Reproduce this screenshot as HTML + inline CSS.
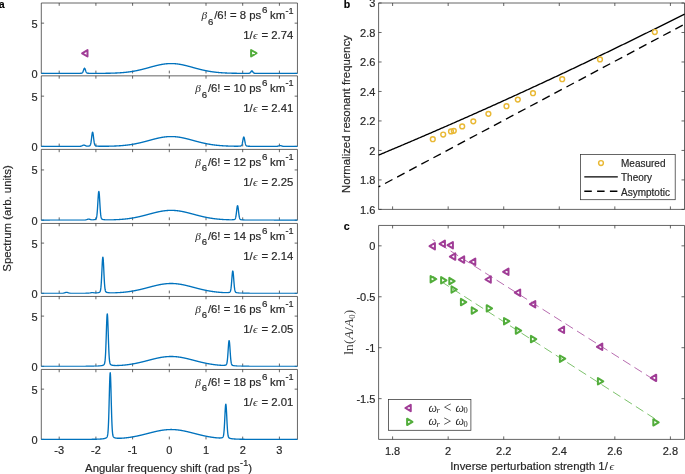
<!DOCTYPE html>
<html><head><meta charset="utf-8"><style>
html,body{margin:0;padding:0;background:#fff;width:685px;height:474px;overflow:hidden}
svg{display:block;will-change:transform}
text{stroke:#262626;stroke-width:0.18px;paint-order:stroke}
text.s{stroke:none}
</style></head><body>
<svg width="685" height="474" viewBox="0 0 685 474" font-family='"Liberation Sans", sans-serif'>
<rect width="685" height="474" fill="#fff"/>
<line x1="41.30" y1="3.00" x2="297.45" y2="3.00" stroke="#333333" stroke-width="0.75" />
<line x1="41.30" y1="3.00" x2="41.30" y2="73.40" stroke="#333333" stroke-width="0.75" />
<line x1="297.45" y1="3.00" x2="297.45" y2="73.40" stroke="#333333" stroke-width="0.75" />
<line x1="59.20" y1="3.00" x2="59.20" y2="5.80" stroke="#333333" stroke-width="0.75" />
<line x1="59.20" y1="73.40" x2="59.20" y2="70.60" stroke="#333333" stroke-width="0.75" />
<line x1="95.90" y1="3.00" x2="95.90" y2="5.80" stroke="#333333" stroke-width="0.75" />
<line x1="95.90" y1="73.40" x2="95.90" y2="70.60" stroke="#333333" stroke-width="0.75" />
<line x1="132.60" y1="3.00" x2="132.60" y2="5.80" stroke="#333333" stroke-width="0.75" />
<line x1="132.60" y1="73.40" x2="132.60" y2="70.60" stroke="#333333" stroke-width="0.75" />
<line x1="169.30" y1="3.00" x2="169.30" y2="5.80" stroke="#333333" stroke-width="0.75" />
<line x1="169.30" y1="73.40" x2="169.30" y2="70.60" stroke="#333333" stroke-width="0.75" />
<line x1="206.00" y1="3.00" x2="206.00" y2="5.80" stroke="#333333" stroke-width="0.75" />
<line x1="206.00" y1="73.40" x2="206.00" y2="70.60" stroke="#333333" stroke-width="0.75" />
<line x1="242.70" y1="3.00" x2="242.70" y2="5.80" stroke="#333333" stroke-width="0.75" />
<line x1="242.70" y1="73.40" x2="242.70" y2="70.60" stroke="#333333" stroke-width="0.75" />
<line x1="279.40" y1="3.00" x2="279.40" y2="5.80" stroke="#333333" stroke-width="0.75" />
<line x1="279.40" y1="73.40" x2="279.40" y2="70.60" stroke="#333333" stroke-width="0.75" />
<line x1="41.30" y1="73.40" x2="44.10" y2="73.40" stroke="#333333" stroke-width="0.75" />
<line x1="297.45" y1="73.40" x2="294.65" y2="73.40" stroke="#333333" stroke-width="0.75" />
<text x="37.60" y="77.85" text-anchor="end" font-size="11" fill="#262626" font-family='"Liberation Sans", sans-serif' >0</text>
<line x1="41.30" y1="23.15" x2="44.10" y2="23.15" stroke="#333333" stroke-width="0.75" />
<line x1="297.45" y1="23.15" x2="294.65" y2="23.15" stroke="#333333" stroke-width="0.75" />
<text x="37.60" y="27.60" text-anchor="end" font-size="11" fill="#262626" font-family='"Liberation Sans", sans-serif' >5</text>
<clipPath id="ca0"><rect x="41.3" y="2.0" width="256.15" height="71.9"/></clipPath>
<path d="M40.85,73.40 L41.03,73.40 L41.22,73.40 L41.40,73.40 L41.58,73.40 L41.77,73.40 L41.95,73.40 L42.13,73.40 L42.32,73.40 L42.50,73.40 L42.68,73.40 L42.87,73.40 L43.05,73.40 L43.24,73.40 L43.42,73.40 L43.60,73.40 L43.79,73.40 L43.97,73.40 L44.15,73.40 L44.34,73.40 L44.52,73.40 L44.70,73.40 L44.89,73.40 L45.07,73.40 L45.25,73.40 L45.44,73.40 L45.62,73.40 L45.80,73.40 L45.99,73.40 L46.17,73.40 L46.36,73.40 L46.54,73.40 L46.72,73.40 L46.91,73.40 L47.09,73.40 L47.27,73.40 L47.46,73.40 L47.64,73.40 L47.82,73.40 L48.01,73.40 L48.19,73.40 L48.37,73.40 L48.56,73.40 L48.74,73.40 L48.92,73.40 L49.11,73.40 L49.29,73.40 L49.47,73.40 L49.66,73.40 L49.84,73.40 L50.03,73.40 L50.21,73.40 L50.39,73.40 L50.58,73.40 L50.76,73.40 L50.94,73.40 L51.13,73.40 L51.31,73.40 L51.49,73.40 L51.68,73.40 L51.86,73.40 L52.04,73.40 L52.23,73.40 L52.41,73.40 L52.59,73.40 L52.78,73.40 L52.96,73.40 L53.14,73.40 L53.33,73.40 L53.51,73.40 L53.70,73.40 L53.88,73.40 L54.06,73.40 L54.25,73.40 L54.43,73.40 L54.61,73.40 L54.80,73.40 L54.98,73.40 L55.16,73.40 L55.35,73.40 L55.53,73.40 L55.71,73.40 L55.90,73.40 L56.08,73.40 L56.26,73.40 L56.45,73.40 L56.63,73.40 L56.81,73.40 L57.00,73.40 L57.18,73.40 L57.37,73.40 L57.55,73.40 L57.73,73.40 L57.92,73.40 L58.10,73.40 L58.28,73.40 L58.47,73.40 L58.65,73.40 L58.83,73.40 L59.02,73.40 L59.20,73.40 L59.38,73.40 L59.57,73.40 L59.75,73.40 L59.93,73.40 L60.12,73.40 L60.30,73.40 L60.48,73.40 L60.67,73.40 L60.85,73.40 L61.03,73.40 L61.22,73.40 L61.40,73.40 L61.59,73.40 L61.77,73.40 L61.95,73.40 L62.14,73.40 L62.32,73.40 L62.50,73.40 L62.69,73.40 L62.87,73.40 L63.05,73.40 L63.24,73.40 L63.42,73.40 L63.60,73.40 L63.79,73.40 L63.97,73.39 L64.15,73.39 L64.34,73.39 L64.52,73.39 L64.70,73.39 L64.89,73.39 L65.07,73.39 L65.26,73.39 L65.44,73.39 L65.62,73.39 L65.81,73.39 L65.99,73.39 L66.17,73.39 L66.36,73.39 L66.54,73.39 L66.72,73.39 L66.91,73.39 L67.09,73.39 L67.27,73.39 L67.46,73.39 L67.64,73.39 L67.82,73.39 L68.01,73.39 L68.19,73.39 L68.38,73.39 L68.56,73.39 L68.74,73.39 L68.93,73.39 L69.11,73.39 L69.29,73.39 L69.48,73.39 L69.66,73.39 L69.84,73.39 L70.03,73.39 L70.21,73.39 L70.39,73.39 L70.58,73.39 L70.76,73.39 L70.94,73.39 L71.13,73.39 L71.31,73.39 L71.49,73.39 L71.68,73.39 L71.86,73.39 L72.05,73.39 L72.23,73.39 L72.41,73.39 L72.60,73.39 L72.78,73.38 L72.96,73.38 L73.15,73.38 L73.33,73.38 L73.51,73.38 L73.70,73.38 L73.88,73.38 L74.06,73.38 L74.25,73.38 L74.43,73.38 L74.61,73.38 L74.80,73.38 L74.98,73.38 L75.16,73.38 L75.35,73.38 L75.53,73.37 L75.72,73.37 L75.90,73.37 L76.08,73.37 L76.27,73.37 L76.45,73.37 L76.63,73.37 L76.82,73.37 L77.00,73.36 L77.18,73.36 L77.37,73.36 L77.55,73.36 L77.73,73.36 L77.92,73.35 L78.10,73.35 L78.28,73.35 L78.47,73.35 L78.65,73.34 L78.83,73.34 L79.02,73.34 L79.20,73.33 L79.38,73.33 L79.57,73.32 L79.75,73.32 L79.94,73.31 L80.12,73.31 L80.30,73.30 L80.49,73.29 L80.67,73.28 L80.85,73.27 L81.04,73.26 L81.22,73.24 L81.40,73.21 L81.59,73.18 L81.77,73.13 L81.95,73.06 L82.14,72.96 L82.32,72.82 L82.50,72.62 L82.69,72.36 L82.87,72.02 L83.06,71.61 L83.24,71.12 L83.42,70.57 L83.61,70.00 L83.79,69.44 L83.97,68.93 L84.16,68.52 L84.34,68.26 L84.52,68.17 L84.71,68.26 L84.89,68.52 L85.07,68.93 L85.26,69.43 L85.44,70.00 L85.62,70.57 L85.81,71.12 L85.99,71.60 L86.17,72.02 L86.36,72.36 L86.54,72.62 L86.73,72.82 L86.91,72.96 L87.09,73.06 L87.28,73.13 L87.46,73.18 L87.64,73.21 L87.83,73.23 L88.01,73.25 L88.19,73.27 L88.38,73.28 L88.56,73.29 L88.74,73.29 L88.93,73.30 L89.11,73.31 L89.29,73.31 L89.48,73.32 L89.66,73.32 L89.84,73.32 L90.03,73.33 L90.21,73.33 L90.40,73.33 L90.58,73.34 L90.76,73.34 L90.95,73.34 L91.13,73.34 L91.31,73.35 L91.50,73.35 L91.68,73.35 L91.86,73.35 L92.05,73.35 L92.23,73.35 L92.41,73.35 L92.60,73.36 L92.78,73.36 L92.96,73.36 L93.15,73.36 L93.33,73.36 L93.51,73.36 L93.70,73.36 L93.88,73.36 L94.07,73.36 L94.25,73.36 L94.43,73.36 L94.62,73.36 L94.80,73.36 L94.98,73.36 L95.17,73.36 L95.35,73.36 L95.53,73.36 L95.72,73.36 L95.90,73.36 L96.08,73.36 L96.27,73.36 L96.45,73.36 L96.63,73.36 L96.82,73.36 L97.00,73.36 L97.18,73.36 L97.37,73.36 L97.55,73.36 L97.74,73.36 L97.92,73.36 L98.10,73.36 L98.29,73.35 L98.47,73.35 L98.65,73.35 L98.84,73.35 L99.02,73.35 L99.20,73.35 L99.39,73.35 L99.57,73.35 L99.75,73.35 L99.94,73.35 L100.12,73.35 L100.30,73.34 L100.49,73.34 L100.67,73.34 L100.85,73.34 L101.04,73.34 L101.22,73.34 L101.41,73.34 L101.59,73.34 L101.77,73.33 L101.96,73.33 L102.14,73.33 L102.32,73.33 L102.51,73.33 L102.69,73.33 L102.87,73.33 L103.06,73.32 L103.24,73.32 L103.42,73.32 L103.61,73.32 L103.79,73.32 L103.97,73.31 L104.16,73.31 L104.34,73.31 L104.52,73.31 L104.71,73.31 L104.89,73.30 L105.08,73.30 L105.26,73.30 L105.44,73.30 L105.63,73.29 L105.81,73.29 L105.99,73.29 L106.18,73.29 L106.36,73.28 L106.54,73.28 L106.73,73.28 L106.91,73.27 L107.09,73.27 L107.28,73.27 L107.46,73.27 L107.64,73.26 L107.83,73.26 L108.01,73.26 L108.19,73.25 L108.38,73.25 L108.56,73.24 L108.75,73.24 L108.93,73.24 L109.11,73.23 L109.30,73.23 L109.48,73.23 L109.66,73.22 L109.85,73.22 L110.03,73.21 L110.21,73.21 L110.40,73.20 L110.58,73.20 L110.76,73.19 L110.95,73.19 L111.13,73.19 L111.31,73.18 L111.50,73.18 L111.68,73.17 L111.86,73.16 L112.05,73.16 L112.23,73.15 L112.42,73.15 L112.60,73.14 L112.78,73.14 L112.97,73.13 L113.15,73.12 L113.33,73.12 L113.52,73.11 L113.70,73.11 L113.88,73.10 L114.07,73.09 L114.25,73.09 L114.43,73.08 L114.62,73.07 L114.80,73.06 L114.98,73.06 L115.17,73.05 L115.35,73.04 L115.53,73.03 L115.72,73.03 L115.90,73.02 L116.09,73.01 L116.27,73.00 L116.45,72.99 L116.64,72.98 L116.82,72.97 L117.00,72.97 L117.19,72.96 L117.37,72.95 L117.55,72.94 L117.74,72.93 L117.92,72.92 L118.10,72.91 L118.29,72.90 L118.47,72.89 L118.65,72.88 L118.84,72.87 L119.02,72.85 L119.20,72.84 L119.39,72.83 L119.57,72.82 L119.75,72.81 L119.94,72.80 L120.12,72.78 L120.31,72.77 L120.49,72.76 L120.67,72.75 L120.86,72.73 L121.04,72.72 L121.22,72.71 L121.41,72.69 L121.59,72.68 L121.77,72.67 L121.96,72.65 L122.14,72.64 L122.32,72.62 L122.51,72.61 L122.69,72.59 L122.87,72.58 L123.06,72.56 L123.24,72.55 L123.43,72.53 L123.61,72.51 L123.79,72.50 L123.98,72.48 L124.16,72.46 L124.34,72.45 L124.53,72.43 L124.71,72.41 L124.89,72.39 L125.08,72.37 L125.26,72.35 L125.44,72.34 L125.63,72.32 L125.81,72.30 L125.99,72.28 L126.18,72.26 L126.36,72.24 L126.54,72.22 L126.73,72.20 L126.91,72.18 L127.10,72.15 L127.28,72.13 L127.46,72.11 L127.65,72.09 L127.83,72.07 L128.01,72.04 L128.20,72.02 L128.38,72.00 L128.56,71.97 L128.75,71.95 L128.93,71.93 L129.11,71.90 L129.30,71.88 L129.48,71.85 L129.66,71.83 L129.85,71.80 L130.03,71.77 L130.21,71.75 L130.40,71.72 L130.58,71.69 L130.77,71.67 L130.95,71.64 L131.13,71.61 L131.32,71.58 L131.50,71.55 L131.68,71.53 L131.87,71.50 L132.05,71.47 L132.23,71.44 L132.42,71.41 L132.60,71.38 L132.78,71.35 L132.97,71.32 L133.15,71.28 L133.33,71.25 L133.52,71.22 L133.70,71.19 L133.88,71.16 L134.07,71.12 L134.25,71.09 L134.44,71.06 L134.62,71.02 L134.80,70.99 L134.99,70.95 L135.17,70.92 L135.35,70.88 L135.54,70.85 L135.72,70.81 L135.90,70.78 L136.09,70.74 L136.27,70.71 L136.45,70.67 L136.64,70.63 L136.82,70.59 L137.00,70.56 L137.19,70.52 L137.37,70.48 L137.55,70.44 L137.74,70.40 L137.92,70.36 L138.11,70.32 L138.29,70.28 L138.47,70.24 L138.66,70.20 L138.84,70.16 L139.02,70.12 L139.21,70.08 L139.39,70.04 L139.57,69.99 L139.76,69.95 L139.94,69.91 L140.12,69.87 L140.31,69.82 L140.49,69.78 L140.67,69.74 L140.86,69.69 L141.04,69.65 L141.22,69.61 L141.41,69.56 L141.59,69.52 L141.78,69.47 L141.96,69.43 L142.14,69.38 L142.33,69.33 L142.51,69.29 L142.69,69.24 L142.88,69.20 L143.06,69.15 L143.24,69.10 L143.43,69.06 L143.61,69.01 L143.79,68.96 L143.98,68.91 L144.16,68.87 L144.34,68.82 L144.53,68.77 L144.71,68.72 L144.89,68.67 L145.08,68.62 L145.26,68.58 L145.45,68.53 L145.63,68.48 L145.81,68.43 L146.00,68.38 L146.18,68.33 L146.36,68.28 L146.55,68.23 L146.73,68.18 L146.91,68.13 L147.10,68.08 L147.28,68.03 L147.46,67.98 L147.65,67.93 L147.83,67.88 L148.01,67.83 L148.20,67.78 L148.38,67.73 L148.56,67.68 L148.75,67.63 L148.93,67.58 L149.12,67.53 L149.30,67.48 L149.48,67.43 L149.67,67.38 L149.85,67.32 L150.03,67.27 L150.22,67.22 L150.40,67.17 L150.58,67.12 L150.77,67.07 L150.95,67.02 L151.13,66.97 L151.32,66.92 L151.50,66.87 L151.68,66.82 L151.87,66.77 L152.05,66.72 L152.23,66.67 L152.42,66.62 L152.60,66.57 L152.78,66.52 L152.97,66.47 L153.15,66.42 L153.34,66.37 L153.52,66.33 L153.70,66.28 L153.89,66.23 L154.07,66.18 L154.25,66.13 L154.44,66.08 L154.62,66.04 L154.80,65.99 L154.99,65.94 L155.17,65.89 L155.35,65.85 L155.54,65.80 L155.72,65.75 L155.90,65.71 L156.09,65.66 L156.27,65.62 L156.46,65.57 L156.64,65.53 L156.82,65.48 L157.01,65.44 L157.19,65.40 L157.37,65.35 L157.56,65.31 L157.74,65.27 L157.92,65.22 L158.11,65.18 L158.29,65.14 L158.47,65.10 L158.66,65.06 L158.84,65.02 L159.02,64.98 L159.21,64.94 L159.39,64.90 L159.57,64.86 L159.76,64.82 L159.94,64.78 L160.12,64.74 L160.31,64.71 L160.49,64.67 L160.68,64.64 L160.86,64.60 L161.04,64.56 L161.23,64.53 L161.41,64.50 L161.59,64.46 L161.78,64.43 L161.96,64.40 L162.14,64.36 L162.33,64.33 L162.51,64.30 L162.69,64.27 L162.88,64.24 L163.06,64.21 L163.24,64.18 L163.43,64.16 L163.61,64.13 L163.80,64.10 L163.98,64.07 L164.16,64.05 L164.35,64.02 L164.53,64.00 L164.71,63.97 L164.90,63.95 L165.08,63.93 L165.26,63.91 L165.45,63.88 L165.63,63.86 L165.81,63.84 L166.00,63.82 L166.18,63.81 L166.36,63.79 L166.55,63.77 L166.73,63.75 L166.91,63.74 L167.10,63.72 L167.28,63.71 L167.47,63.69 L167.65,63.68 L167.83,63.66 L168.02,63.65 L168.20,63.64 L168.38,63.63 L168.57,63.62 L168.75,63.61 L168.93,63.60 L169.12,63.59 L169.30,63.59 L169.48,63.58 L169.67,63.57 L169.85,63.57 L170.03,63.56 L170.22,63.56 L170.40,63.56 L170.58,63.55 L170.77,63.55 L170.95,63.55 L171.13,63.55 L171.32,63.55 L171.50,63.55 L171.69,63.55 L171.87,63.56 L172.05,63.56 L172.24,63.56 L172.42,63.57 L172.60,63.57 L172.79,63.58 L172.97,63.59 L173.15,63.59 L173.34,63.60 L173.52,63.61 L173.70,63.62 L173.89,63.63 L174.07,63.64 L174.25,63.65 L174.44,63.66 L174.62,63.68 L174.81,63.69 L174.99,63.71 L175.17,63.72 L175.36,63.74 L175.54,63.75 L175.72,63.77 L175.91,63.79 L176.09,63.81 L176.27,63.82 L176.46,63.84 L176.64,63.86 L176.82,63.88 L177.01,63.91 L177.19,63.93 L177.37,63.95 L177.56,63.97 L177.74,64.00 L177.92,64.02 L178.11,64.05 L178.29,64.07 L178.48,64.10 L178.66,64.13 L178.84,64.16 L179.03,64.18 L179.21,64.21 L179.39,64.24 L179.58,64.27 L179.76,64.30 L179.94,64.33 L180.13,64.36 L180.31,64.40 L180.49,64.43 L180.68,64.46 L180.86,64.50 L181.04,64.53 L181.23,64.56 L181.41,64.60 L181.59,64.64 L181.78,64.67 L181.96,64.71 L182.15,64.74 L182.33,64.78 L182.51,64.82 L182.70,64.86 L182.88,64.90 L183.06,64.94 L183.25,64.98 L183.43,65.02 L183.61,65.06 L183.80,65.10 L183.98,65.14 L184.16,65.18 L184.35,65.22 L184.53,65.27 L184.71,65.31 L184.90,65.35 L185.08,65.40 L185.26,65.44 L185.45,65.48 L185.63,65.53 L185.82,65.57 L186.00,65.62 L186.18,65.66 L186.37,65.71 L186.55,65.75 L186.73,65.80 L186.92,65.85 L187.10,65.89 L187.28,65.94 L187.47,65.99 L187.65,66.04 L187.83,66.08 L188.02,66.13 L188.20,66.18 L188.38,66.23 L188.57,66.28 L188.75,66.33 L188.93,66.37 L189.12,66.42 L189.30,66.47 L189.49,66.52 L189.67,66.57 L189.85,66.62 L190.04,66.67 L190.22,66.72 L190.40,66.77 L190.59,66.82 L190.77,66.87 L190.95,66.92 L191.14,66.97 L191.32,67.02 L191.50,67.07 L191.69,67.12 L191.87,67.17 L192.05,67.22 L192.24,67.27 L192.42,67.32 L192.60,67.38 L192.79,67.43 L192.97,67.48 L193.16,67.53 L193.34,67.58 L193.52,67.63 L193.71,67.68 L193.89,67.73 L194.07,67.78 L194.26,67.83 L194.44,67.88 L194.62,67.93 L194.81,67.98 L194.99,68.03 L195.17,68.08 L195.36,68.13 L195.54,68.18 L195.72,68.23 L195.91,68.28 L196.09,68.33 L196.27,68.38 L196.46,68.43 L196.64,68.48 L196.83,68.53 L197.01,68.58 L197.19,68.62 L197.38,68.67 L197.56,68.72 L197.74,68.77 L197.93,68.82 L198.11,68.87 L198.29,68.91 L198.48,68.96 L198.66,69.01 L198.84,69.06 L199.03,69.10 L199.21,69.15 L199.39,69.20 L199.58,69.24 L199.76,69.29 L199.94,69.34 L200.13,69.38 L200.31,69.43 L200.50,69.47 L200.68,69.52 L200.86,69.56 L201.05,69.61 L201.23,69.65 L201.41,69.69 L201.60,69.74 L201.78,69.78 L201.96,69.82 L202.15,69.87 L202.33,69.91 L202.51,69.95 L202.70,70.00 L202.88,70.04 L203.06,70.08 L203.25,70.12 L203.43,70.16 L203.61,70.20 L203.80,70.24 L203.98,70.28 L204.17,70.32 L204.35,70.36 L204.53,70.40 L204.72,70.44 L204.90,70.48 L205.08,70.52 L205.27,70.56 L205.45,70.59 L205.63,70.63 L205.82,70.67 L206.00,70.71 L206.18,70.74 L206.37,70.78 L206.55,70.81 L206.73,70.85 L206.92,70.89 L207.10,70.92 L207.28,70.96 L207.47,70.99 L207.65,71.02 L207.84,71.06 L208.02,71.09 L208.20,71.12 L208.39,71.16 L208.57,71.19 L208.75,71.22 L208.94,71.25 L209.12,71.29 L209.30,71.32 L209.49,71.35 L209.67,71.38 L209.85,71.41 L210.04,71.44 L210.22,71.47 L210.40,71.50 L210.59,71.53 L210.77,71.56 L210.95,71.58 L211.14,71.61 L211.32,71.64 L211.51,71.67 L211.69,71.69 L211.87,71.72 L212.06,71.75 L212.24,71.77 L212.42,71.80 L212.61,71.83 L212.79,71.85 L212.97,71.88 L213.16,71.90 L213.34,71.93 L213.52,71.95 L213.71,71.97 L213.89,72.00 L214.07,72.02 L214.26,72.04 L214.44,72.07 L214.62,72.09 L214.81,72.11 L214.99,72.13 L215.18,72.15 L215.36,72.18 L215.54,72.20 L215.73,72.22 L215.91,72.24 L216.09,72.26 L216.28,72.28 L216.46,72.30 L216.64,72.32 L216.83,72.34 L217.01,72.36 L217.19,72.37 L217.38,72.39 L217.56,72.41 L217.74,72.43 L217.93,72.45 L218.11,72.46 L218.29,72.48 L218.48,72.50 L218.66,72.51 L218.84,72.53 L219.03,72.55 L219.21,72.56 L219.40,72.58 L219.58,72.59 L219.76,72.61 L219.95,72.62 L220.13,72.64 L220.31,72.65 L220.50,72.67 L220.68,72.68 L220.86,72.69 L221.05,72.71 L221.23,72.72 L221.41,72.73 L221.60,72.75 L221.78,72.76 L221.96,72.77 L222.15,72.78 L222.33,72.80 L222.52,72.81 L222.70,72.82 L222.88,72.83 L223.07,72.84 L223.25,72.85 L223.43,72.87 L223.62,72.88 L223.80,72.89 L223.98,72.90 L224.17,72.91 L224.35,72.92 L224.53,72.93 L224.72,72.94 L224.90,72.95 L225.08,72.96 L225.27,72.97 L225.45,72.97 L225.63,72.98 L225.82,72.99 L226.00,73.00 L226.19,73.01 L226.37,73.02 L226.55,73.03 L226.74,73.03 L226.92,73.04 L227.10,73.05 L227.29,73.06 L227.47,73.06 L227.65,73.07 L227.84,73.08 L228.02,73.09 L228.20,73.09 L228.39,73.10 L228.57,73.11 L228.75,73.11 L228.94,73.12 L229.12,73.12 L229.30,73.13 L229.49,73.14 L229.67,73.14 L229.86,73.15 L230.04,73.15 L230.22,73.16 L230.41,73.17 L230.59,73.17 L230.77,73.18 L230.96,73.18 L231.14,73.19 L231.32,73.19 L231.51,73.20 L231.69,73.20 L231.87,73.20 L232.06,73.21 L232.24,73.21 L232.42,73.22 L232.61,73.22 L232.79,73.23 L232.97,73.23 L233.16,73.23 L233.34,73.24 L233.53,73.24 L233.71,73.25 L233.89,73.25 L234.08,73.25 L234.26,73.26 L234.44,73.26 L234.63,73.26 L234.81,73.27 L234.99,73.27 L235.18,73.27 L235.36,73.28 L235.54,73.28 L235.73,73.28 L235.91,73.28 L236.09,73.29 L236.28,73.29 L236.46,73.29 L236.64,73.29 L236.83,73.30 L237.01,73.30 L237.19,73.30 L237.38,73.30 L237.56,73.31 L237.75,73.31 L237.93,73.31 L238.11,73.31 L238.30,73.31 L238.48,73.32 L238.66,73.32 L238.85,73.32 L239.03,73.32 L239.21,73.32 L239.40,73.33 L239.58,73.33 L239.76,73.33 L239.95,73.33 L240.13,73.33 L240.31,73.33 L240.50,73.33 L240.68,73.34 L240.87,73.34 L241.05,73.34 L241.23,73.34 L241.42,73.34 L241.60,73.34 L241.78,73.34 L241.97,73.34 L242.15,73.34 L242.33,73.34 L242.52,73.35 L242.70,73.35 L242.88,73.35 L243.07,73.35 L243.25,73.35 L243.43,73.35 L243.62,73.35 L243.80,73.35 L243.98,73.35 L244.17,73.35 L244.35,73.35 L244.54,73.35 L244.72,73.35 L244.90,73.35 L245.09,73.35 L245.27,73.35 L245.45,73.35 L245.64,73.35 L245.82,73.35 L246.00,73.35 L246.19,73.35 L246.37,73.35 L246.55,73.35 L246.74,73.34 L246.92,73.34 L247.10,73.34 L247.29,73.34 L247.47,73.34 L247.65,73.33 L247.84,73.33 L248.02,73.33 L248.21,73.32 L248.39,73.31 L248.57,73.31 L248.76,73.30 L248.94,73.28 L249.12,73.26 L249.31,73.22 L249.49,73.18 L249.67,73.11 L249.86,73.01 L250.04,72.89 L250.22,72.73 L250.41,72.53 L250.59,72.29 L250.77,72.03 L250.96,71.76 L251.14,71.48 L251.32,71.24 L251.51,71.05 L251.69,70.92 L251.88,70.88 L252.06,70.92 L252.24,71.05 L252.43,71.24 L252.61,71.49 L252.79,71.76 L252.98,72.03 L253.16,72.30 L253.34,72.53 L253.53,72.73 L253.71,72.89 L253.89,73.02 L254.08,73.12 L254.26,73.18 L254.44,73.23 L254.63,73.27 L254.81,73.29 L254.99,73.31 L255.18,73.32 L255.36,73.33 L255.55,73.33 L255.73,73.34 L255.91,73.34 L256.10,73.35 L256.28,73.35 L256.46,73.35 L256.65,73.36 L256.83,73.36 L257.01,73.36 L257.20,73.36 L257.38,73.37 L257.56,73.37 L257.75,73.37 L257.93,73.37 L258.11,73.37 L258.30,73.37 L258.48,73.38 L258.66,73.38 L258.85,73.38 L259.03,73.38 L259.22,73.38 L259.40,73.38 L259.58,73.38 L259.77,73.38 L259.95,73.38 L260.13,73.38 L260.32,73.38 L260.50,73.38 L260.68,73.39 L260.87,73.39 L261.05,73.39 L261.23,73.39 L261.42,73.39 L261.60,73.39 L261.78,73.39 L261.97,73.39 L262.15,73.39 L262.33,73.39 L262.52,73.39 L262.70,73.39 L262.88,73.39 L263.07,73.39 L263.25,73.39 L263.44,73.39 L263.62,73.39 L263.80,73.39 L263.99,73.39 L264.17,73.39 L264.35,73.39 L264.54,73.39 L264.72,73.39 L264.90,73.39 L265.09,73.39 L265.27,73.39 L265.45,73.39 L265.64,73.39 L265.82,73.39 L266.00,73.39 L266.19,73.39 L266.37,73.39 L266.56,73.39 L266.74,73.39 L266.92,73.39 L267.11,73.40 L267.29,73.40 L267.47,73.40 L267.66,73.40 L267.84,73.40 L268.02,73.40 L268.21,73.40 L268.39,73.40 L268.57,73.40 L268.76,73.40 L268.94,73.40 L269.12,73.40 L269.31,73.40 L269.49,73.40 L269.67,73.40 L269.86,73.40 L270.04,73.40 L270.23,73.40 L270.41,73.40 L270.59,73.40 L270.78,73.40 L270.96,73.40 L271.14,73.40 L271.33,73.40 L271.51,73.40 L271.69,73.40 L271.88,73.40 L272.06,73.40 L272.24,73.40 L272.43,73.40 L272.61,73.40 L272.79,73.40 L272.98,73.40 L273.16,73.40 L273.34,73.40 L273.53,73.40 L273.71,73.40 L273.89,73.40 L274.08,73.40 L274.26,73.40 L274.45,73.40 L274.63,73.40 L274.81,73.40 L275.00,73.40 L275.18,73.40 L275.36,73.40 L275.55,73.40 L275.73,73.40 L275.91,73.40 L276.10,73.40 L276.28,73.40 L276.46,73.40 L276.65,73.40 L276.83,73.40 L277.01,73.40 L277.20,73.40 L277.38,73.40 L277.57,73.40 L277.75,73.40 L277.93,73.40 L278.12,73.40 L278.30,73.40 L278.48,73.40 L278.67,73.40 L278.85,73.40 L279.03,73.40 L279.22,73.40 L279.40,73.40 L279.58,73.40 L279.77,73.40 L279.95,73.40 L280.13,73.40 L280.32,73.40 L280.50,73.40 L280.68,73.40 L280.87,73.40 L281.05,73.40 L281.24,73.40 L281.42,73.40 L281.60,73.40 L281.79,73.40 L281.97,73.40 L282.15,73.40 L282.34,73.40 L282.52,73.40 L282.70,73.40 L282.89,73.40 L283.07,73.40 L283.25,73.40 L283.44,73.40 L283.62,73.40 L283.80,73.40 L283.99,73.40 L284.17,73.40 L284.35,73.40 L284.54,73.40 L284.72,73.40 L284.91,73.40 L285.09,73.40 L285.27,73.40 L285.46,73.40 L285.64,73.40 L285.82,73.40 L286.01,73.40 L286.19,73.40 L286.37,73.40 L286.56,73.40 L286.74,73.40 L286.92,73.40 L287.11,73.40 L287.29,73.40 L287.47,73.40 L287.66,73.40 L287.84,73.40 L288.02,73.40 L288.21,73.40 L288.39,73.40 L288.58,73.40 L288.76,73.40 L288.94,73.40 L289.13,73.40 L289.31,73.40 L289.49,73.40 L289.68,73.40 L289.86,73.40 L290.04,73.40 L290.23,73.40 L290.41,73.40 L290.59,73.40 L290.78,73.40 L290.96,73.40 L291.14,73.40 L291.33,73.40 L291.51,73.40 L291.69,73.40 L291.88,73.40 L292.06,73.40 L292.25,73.40 L292.43,73.40 L292.61,73.40 L292.80,73.40 L292.98,73.40 L293.16,73.40 L293.35,73.40 L293.53,73.40 L293.71,73.40 L293.90,73.40 L294.08,73.40 L294.26,73.40 L294.45,73.40 L294.63,73.40 L294.81,73.40 L295.00,73.40 L295.18,73.40 L295.36,73.40 L295.55,73.40 L295.73,73.40 L295.92,73.40 L296.10,73.40 L296.28,73.40 L296.47,73.40 L296.65,73.40 L296.83,73.40 L297.02,73.40 L297.20,73.40 L297.38,73.40 L297.57,73.40 L297.75,73.40" fill="none" stroke="#0072bd" stroke-width="1.35" stroke-linejoin="round" clip-path="url(#ca0)"/>
<text x="261.20" y="19.30" text-anchor="end" font-size="11.35" fill="#262626" font-family='"Liberation Sans", sans-serif' >/6! = 8 ps</text>
<text x="208.00" y="25.00" font-size="9.6" fill="#262626" font-family='"Liberation Sans", sans-serif' >6</text>
<text x="201.50" y="19.30" class="s" font-size="11.35" fill="#262626" font-family='"Liberation Serif", serif' font-style="italic">β</text>
<text x="261.90" y="13.40" font-size="9.8" fill="#262626" font-family='"Liberation Sans", sans-serif' >6</text>
<text x="270.00" y="19.30" font-size="11.35" fill="#262626" font-family='"Liberation Sans", sans-serif' >km</text>
<text x="285.60" y="13.60" font-size="9.1" fill="#262626" font-family='"Liberation Sans", sans-serif' >-1</text>
<text x="243.30" y="39.10" font-size="11.35" fill="#262626" font-family='"Liberation Sans", sans-serif' >1/</text>
<text x="252.90" y="39.10" class="s" font-size="11.35" fill="#262626" font-family='"Liberation Serif", serif' font-style="italic">ϵ</text>
<text x="293.30" y="39.10" text-anchor="end" font-size="11.35" fill="#262626" font-family='"Liberation Sans", sans-serif' >= 2.74</text>
<line x1="41.30" y1="75.85" x2="297.45" y2="75.85" stroke="#333333" stroke-width="0.75" />
<line x1="41.30" y1="75.85" x2="41.30" y2="146.40" stroke="#333333" stroke-width="0.75" />
<line x1="297.45" y1="75.85" x2="297.45" y2="146.40" stroke="#333333" stroke-width="0.75" />
<line x1="59.20" y1="75.85" x2="59.20" y2="78.65" stroke="#333333" stroke-width="0.75" />
<line x1="59.20" y1="146.40" x2="59.20" y2="143.60" stroke="#333333" stroke-width="0.75" />
<line x1="95.90" y1="75.85" x2="95.90" y2="78.65" stroke="#333333" stroke-width="0.75" />
<line x1="95.90" y1="146.40" x2="95.90" y2="143.60" stroke="#333333" stroke-width="0.75" />
<line x1="132.60" y1="75.85" x2="132.60" y2="78.65" stroke="#333333" stroke-width="0.75" />
<line x1="132.60" y1="146.40" x2="132.60" y2="143.60" stroke="#333333" stroke-width="0.75" />
<line x1="169.30" y1="75.85" x2="169.30" y2="78.65" stroke="#333333" stroke-width="0.75" />
<line x1="169.30" y1="146.40" x2="169.30" y2="143.60" stroke="#333333" stroke-width="0.75" />
<line x1="206.00" y1="75.85" x2="206.00" y2="78.65" stroke="#333333" stroke-width="0.75" />
<line x1="206.00" y1="146.40" x2="206.00" y2="143.60" stroke="#333333" stroke-width="0.75" />
<line x1="242.70" y1="75.85" x2="242.70" y2="78.65" stroke="#333333" stroke-width="0.75" />
<line x1="242.70" y1="146.40" x2="242.70" y2="143.60" stroke="#333333" stroke-width="0.75" />
<line x1="279.40" y1="75.85" x2="279.40" y2="78.65" stroke="#333333" stroke-width="0.75" />
<line x1="279.40" y1="146.40" x2="279.40" y2="143.60" stroke="#333333" stroke-width="0.75" />
<line x1="41.30" y1="146.40" x2="44.10" y2="146.40" stroke="#333333" stroke-width="0.75" />
<line x1="297.45" y1="146.40" x2="294.65" y2="146.40" stroke="#333333" stroke-width="0.75" />
<text x="37.60" y="150.85" text-anchor="end" font-size="11" fill="#262626" font-family='"Liberation Sans", sans-serif' >0</text>
<line x1="41.30" y1="96.15" x2="44.10" y2="96.15" stroke="#333333" stroke-width="0.75" />
<line x1="297.45" y1="96.15" x2="294.65" y2="96.15" stroke="#333333" stroke-width="0.75" />
<text x="37.60" y="100.60" text-anchor="end" font-size="11" fill="#262626" font-family='"Liberation Sans", sans-serif' >5</text>
<clipPath id="ca1"><rect x="41.3" y="74.85" width="256.15" height="72.05000000000001"/></clipPath>
<path d="M40.85,146.40 L41.03,146.40 L41.22,146.40 L41.40,146.40 L41.58,146.40 L41.77,146.40 L41.95,146.40 L42.13,146.40 L42.32,146.40 L42.50,146.40 L42.68,146.40 L42.87,146.40 L43.05,146.40 L43.24,146.40 L43.42,146.40 L43.60,146.40 L43.79,146.40 L43.97,146.40 L44.15,146.40 L44.34,146.40 L44.52,146.40 L44.70,146.40 L44.89,146.40 L45.07,146.40 L45.25,146.40 L45.44,146.40 L45.62,146.40 L45.80,146.40 L45.99,146.40 L46.17,146.40 L46.36,146.40 L46.54,146.40 L46.72,146.40 L46.91,146.40 L47.09,146.40 L47.27,146.40 L47.46,146.40 L47.64,146.40 L47.82,146.40 L48.01,146.40 L48.19,146.40 L48.37,146.40 L48.56,146.40 L48.74,146.40 L48.92,146.40 L49.11,146.40 L49.29,146.40 L49.47,146.40 L49.66,146.40 L49.84,146.40 L50.03,146.40 L50.21,146.40 L50.39,146.40 L50.58,146.40 L50.76,146.40 L50.94,146.40 L51.13,146.40 L51.31,146.40 L51.49,146.40 L51.68,146.40 L51.86,146.40 L52.04,146.40 L52.23,146.40 L52.41,146.40 L52.59,146.40 L52.78,146.40 L52.96,146.40 L53.14,146.40 L53.33,146.40 L53.51,146.40 L53.70,146.40 L53.88,146.40 L54.06,146.40 L54.25,146.40 L54.43,146.40 L54.61,146.40 L54.80,146.40 L54.98,146.40 L55.16,146.40 L55.35,146.40 L55.53,146.40 L55.71,146.40 L55.90,146.40 L56.08,146.40 L56.26,146.40 L56.45,146.40 L56.63,146.40 L56.81,146.40 L57.00,146.40 L57.18,146.40 L57.37,146.40 L57.55,146.40 L57.73,146.40 L57.92,146.40 L58.10,146.40 L58.28,146.40 L58.47,146.39 L58.65,146.39 L58.83,146.39 L59.02,146.39 L59.20,146.39 L59.38,146.39 L59.57,146.39 L59.75,146.39 L59.93,146.39 L60.12,146.39 L60.30,146.39 L60.48,146.39 L60.67,146.39 L60.85,146.39 L61.03,146.39 L61.22,146.39 L61.40,146.39 L61.59,146.39 L61.77,146.39 L61.95,146.39 L62.14,146.39 L62.32,146.39 L62.50,146.39 L62.69,146.39 L62.87,146.39 L63.05,146.39 L63.24,146.39 L63.42,146.39 L63.60,146.39 L63.79,146.39 L63.97,146.39 L64.15,146.39 L64.34,146.39 L64.52,146.39 L64.70,146.39 L64.89,146.39 L65.07,146.39 L65.26,146.39 L65.44,146.39 L65.62,146.39 L65.81,146.39 L65.99,146.39 L66.17,146.39 L66.36,146.39 L66.54,146.39 L66.72,146.39 L66.91,146.39 L67.09,146.39 L67.27,146.39 L67.46,146.39 L67.64,146.39 L67.82,146.39 L68.01,146.39 L68.19,146.39 L68.38,146.39 L68.56,146.39 L68.74,146.39 L68.93,146.39 L69.11,146.39 L69.29,146.39 L69.48,146.39 L69.66,146.39 L69.84,146.39 L70.03,146.39 L70.21,146.39 L70.39,146.39 L70.58,146.39 L70.76,146.39 L70.94,146.39 L71.13,146.39 L71.31,146.39 L71.49,146.39 L71.68,146.39 L71.86,146.39 L72.05,146.39 L72.23,146.39 L72.41,146.39 L72.60,146.39 L72.78,146.38 L72.96,146.38 L73.15,146.38 L73.33,146.38 L73.51,146.38 L73.70,146.38 L73.88,146.38 L74.06,146.38 L74.25,146.38 L74.43,146.38 L74.61,146.38 L74.80,146.38 L74.98,146.38 L75.16,146.38 L75.35,146.38 L75.53,146.38 L75.72,146.38 L75.90,146.38 L76.08,146.38 L76.27,146.38 L76.45,146.38 L76.63,146.38 L76.82,146.38 L77.00,146.38 L77.18,146.38 L77.37,146.37 L77.55,146.37 L77.73,146.37 L77.92,146.37 L78.10,146.37 L78.28,146.37 L78.47,146.37 L78.65,146.37 L78.83,146.36 L79.02,146.36 L79.20,146.36 L79.38,146.35 L79.57,146.35 L79.75,146.34 L79.94,146.32 L80.12,146.31 L80.30,146.29 L80.49,146.26 L80.67,146.23 L80.85,146.19 L81.04,146.15 L81.22,146.09 L81.40,146.03 L81.59,145.96 L81.77,145.88 L81.95,145.80 L82.14,145.71 L82.32,145.61 L82.50,145.52 L82.69,145.43 L82.87,145.35 L83.06,145.27 L83.24,145.21 L83.42,145.16 L83.61,145.13 L83.79,145.12 L83.97,145.13 L84.16,145.15 L84.34,145.19 L84.52,145.25 L84.71,145.32 L84.89,145.39 L85.07,145.48 L85.26,145.56 L85.44,145.65 L85.62,145.73 L85.81,145.81 L85.99,145.88 L86.17,145.94 L86.36,146.00 L86.54,146.04 L86.73,146.08 L86.91,146.11 L87.09,146.13 L87.28,146.14 L87.46,146.15 L87.64,146.15 L87.83,146.15 L88.01,146.14 L88.19,146.13 L88.38,146.11 L88.56,146.09 L88.74,146.07 L88.93,146.04 L89.11,146.00 L89.29,145.96 L89.48,145.89 L89.66,145.80 L89.84,145.67 L90.03,145.48 L90.21,145.21 L90.40,144.82 L90.58,144.29 L90.76,143.58 L90.95,142.66 L91.13,141.53 L91.31,140.21 L91.50,138.73 L91.68,137.17 L91.86,135.64 L92.05,134.27 L92.23,133.17 L92.41,132.46 L92.60,132.21 L92.78,132.46 L92.96,133.17 L93.15,134.26 L93.33,135.64 L93.51,137.17 L93.70,138.72 L93.88,140.20 L94.07,141.52 L94.25,142.65 L94.43,143.57 L94.62,144.28 L94.80,144.81 L94.98,145.20 L95.17,145.47 L95.35,145.66 L95.53,145.79 L95.72,145.88 L95.90,145.94 L96.08,145.99 L96.27,146.02 L96.45,146.05 L96.63,146.08 L96.82,146.10 L97.00,146.12 L97.18,146.13 L97.37,146.15 L97.55,146.16 L97.74,146.17 L97.92,146.18 L98.10,146.19 L98.29,146.20 L98.47,146.21 L98.65,146.21 L98.84,146.22 L99.02,146.23 L99.20,146.23 L99.39,146.24 L99.57,146.24 L99.75,146.25 L99.94,146.25 L100.12,146.25 L100.30,146.25 L100.49,146.26 L100.67,146.26 L100.85,146.26 L101.04,146.26 L101.22,146.26 L101.41,146.27 L101.59,146.27 L101.77,146.27 L101.96,146.27 L102.14,146.27 L102.32,146.27 L102.51,146.27 L102.69,146.27 L102.87,146.27 L103.06,146.27 L103.24,146.27 L103.42,146.27 L103.61,146.27 L103.79,146.27 L103.97,146.27 L104.16,146.26 L104.34,146.26 L104.52,146.26 L104.71,146.26 L104.89,146.26 L105.08,146.26 L105.26,146.26 L105.44,146.25 L105.63,146.25 L105.81,146.25 L105.99,146.25 L106.18,146.25 L106.36,146.24 L106.54,146.24 L106.73,146.24 L106.91,146.24 L107.09,146.23 L107.28,146.23 L107.46,146.23 L107.64,146.22 L107.83,146.22 L108.01,146.22 L108.19,146.22 L108.38,146.21 L108.56,146.21 L108.75,146.20 L108.93,146.20 L109.11,146.20 L109.30,146.19 L109.48,146.19 L109.66,146.19 L109.85,146.18 L110.03,146.18 L110.21,146.17 L110.40,146.17 L110.58,146.16 L110.76,146.16 L110.95,146.15 L111.13,146.15 L111.31,146.14 L111.50,146.14 L111.68,146.13 L111.86,146.13 L112.05,146.12 L112.23,146.12 L112.42,146.11 L112.60,146.10 L112.78,146.10 L112.97,146.09 L113.15,146.09 L113.33,146.08 L113.52,146.07 L113.70,146.07 L113.88,146.06 L114.07,146.05 L114.25,146.05 L114.43,146.04 L114.62,146.03 L114.80,146.02 L114.98,146.02 L115.17,146.01 L115.35,146.00 L115.53,145.99 L115.72,145.98 L115.90,145.97 L116.09,145.97 L116.27,145.96 L116.45,145.95 L116.64,145.94 L116.82,145.93 L117.00,145.92 L117.19,145.91 L117.37,145.90 L117.55,145.89 L117.74,145.88 L117.92,145.87 L118.10,145.86 L118.29,145.85 L118.47,145.84 L118.65,145.83 L118.84,145.82 L119.02,145.80 L119.20,145.79 L119.39,145.78 L119.57,145.77 L119.75,145.76 L119.94,145.74 L120.12,145.73 L120.31,145.72 L120.49,145.71 L120.67,145.69 L120.86,145.68 L121.04,145.66 L121.22,145.65 L121.41,145.64 L121.59,145.62 L121.77,145.61 L121.96,145.59 L122.14,145.58 L122.32,145.56 L122.51,145.55 L122.69,145.53 L122.87,145.52 L123.06,145.50 L123.24,145.48 L123.43,145.47 L123.61,145.45 L123.79,145.43 L123.98,145.42 L124.16,145.40 L124.34,145.38 L124.53,145.36 L124.71,145.34 L124.89,145.32 L125.08,145.31 L125.26,145.29 L125.44,145.27 L125.63,145.25 L125.81,145.23 L125.99,145.21 L126.18,145.19 L126.36,145.17 L126.54,145.14 L126.73,145.12 L126.91,145.10 L127.10,145.08 L127.28,145.06 L127.46,145.04 L127.65,145.01 L127.83,144.99 L128.01,144.97 L128.20,144.94 L128.38,144.92 L128.56,144.89 L128.75,144.87 L128.93,144.85 L129.11,144.82 L129.30,144.80 L129.48,144.77 L129.66,144.74 L129.85,144.72 L130.03,144.69 L130.21,144.66 L130.40,144.64 L130.58,144.61 L130.77,144.58 L130.95,144.55 L131.13,144.53 L131.32,144.50 L131.50,144.47 L131.68,144.44 L131.87,144.41 L132.05,144.38 L132.23,144.35 L132.42,144.32 L132.60,144.29 L132.78,144.26 L132.97,144.23 L133.15,144.19 L133.33,144.16 L133.52,144.13 L133.70,144.10 L133.88,144.06 L134.07,144.03 L134.25,144.00 L134.44,143.96 L134.62,143.93 L134.80,143.89 L134.99,143.86 L135.17,143.82 L135.35,143.79 L135.54,143.75 L135.72,143.72 L135.90,143.68 L136.09,143.65 L136.27,143.61 L136.45,143.57 L136.64,143.53 L136.82,143.50 L137.00,143.46 L137.19,143.42 L137.37,143.38 L137.55,143.34 L137.74,143.30 L137.92,143.26 L138.11,143.22 L138.29,143.18 L138.47,143.14 L138.66,143.10 L138.84,143.06 L139.02,143.02 L139.21,142.98 L139.39,142.94 L139.57,142.90 L139.76,142.85 L139.94,142.81 L140.12,142.77 L140.31,142.72 L140.49,142.68 L140.67,142.64 L140.86,142.59 L141.04,142.55 L141.22,142.51 L141.41,142.46 L141.59,142.42 L141.78,142.37 L141.96,142.33 L142.14,142.28 L142.33,142.24 L142.51,142.19 L142.69,142.14 L142.88,142.10 L143.06,142.05 L143.24,142.01 L143.43,141.96 L143.61,141.91 L143.79,141.86 L143.98,141.82 L144.16,141.77 L144.34,141.72 L144.53,141.67 L144.71,141.63 L144.89,141.58 L145.08,141.53 L145.26,141.48 L145.45,141.43 L145.63,141.38 L145.81,141.34 L146.00,141.29 L146.18,141.24 L146.36,141.19 L146.55,141.14 L146.73,141.09 L146.91,141.04 L147.10,140.99 L147.28,140.94 L147.46,140.89 L147.65,140.84 L147.83,140.79 L148.01,140.74 L148.20,140.69 L148.38,140.64 L148.56,140.59 L148.75,140.54 L148.93,140.49 L149.12,140.44 L149.30,140.39 L149.48,140.34 L149.67,140.29 L149.85,140.24 L150.03,140.19 L150.22,140.14 L150.40,140.09 L150.58,140.05 L150.77,140.00 L150.95,139.95 L151.13,139.90 L151.32,139.85 L151.50,139.80 L151.68,139.75 L151.87,139.70 L152.05,139.65 L152.23,139.60 L152.42,139.55 L152.60,139.50 L152.78,139.45 L152.97,139.41 L153.15,139.36 L153.34,139.31 L153.52,139.26 L153.70,139.21 L153.89,139.17 L154.07,139.12 L154.25,139.07 L154.44,139.02 L154.62,138.98 L154.80,138.93 L154.99,138.88 L155.17,138.84 L155.35,138.79 L155.54,138.75 L155.72,138.70 L155.90,138.66 L156.09,138.61 L156.27,138.57 L156.46,138.52 L156.64,138.48 L156.82,138.44 L157.01,138.39 L157.19,138.35 L157.37,138.31 L157.56,138.26 L157.74,138.22 L157.92,138.18 L158.11,138.14 L158.29,138.10 L158.47,138.06 L158.66,138.02 L158.84,137.98 L159.02,137.94 L159.21,137.90 L159.39,137.86 L159.57,137.83 L159.76,137.79 L159.94,137.75 L160.12,137.71 L160.31,137.68 L160.49,137.64 L160.68,137.61 L160.86,137.57 L161.04,137.54 L161.23,137.50 L161.41,137.47 L161.59,137.44 L161.78,137.41 L161.96,137.37 L162.14,137.34 L162.33,137.31 L162.51,137.28 L162.69,137.25 L162.88,137.22 L163.06,137.19 L163.24,137.17 L163.43,137.14 L163.61,137.11 L163.80,137.08 L163.98,137.06 L164.16,137.03 L164.35,137.01 L164.53,136.99 L164.71,136.96 L164.90,136.94 L165.08,136.92 L165.26,136.90 L165.45,136.87 L165.63,136.85 L165.81,136.83 L166.00,136.82 L166.18,136.80 L166.36,136.78 L166.55,136.76 L166.73,136.75 L166.91,136.73 L167.10,136.71 L167.28,136.70 L167.47,136.69 L167.65,136.67 L167.83,136.66 L168.02,136.65 L168.20,136.64 L168.38,136.63 L168.57,136.62 L168.75,136.61 L168.93,136.60 L169.12,136.59 L169.30,136.58 L169.48,136.58 L169.67,136.57 L169.85,136.57 L170.03,136.56 L170.22,136.56 L170.40,136.55 L170.58,136.55 L170.77,136.55 L170.95,136.55 L171.13,136.55 L171.32,136.55 L171.50,136.55 L171.69,136.55 L171.87,136.55 L172.05,136.56 L172.24,136.56 L172.42,136.57 L172.60,136.57 L172.79,136.58 L172.97,136.58 L173.15,136.59 L173.34,136.60 L173.52,136.61 L173.70,136.62 L173.89,136.63 L174.07,136.64 L174.25,136.65 L174.44,136.66 L174.62,136.67 L174.81,136.69 L174.99,136.70 L175.17,136.71 L175.36,136.73 L175.54,136.75 L175.72,136.76 L175.91,136.78 L176.09,136.80 L176.27,136.82 L176.46,136.83 L176.64,136.85 L176.82,136.87 L177.01,136.90 L177.19,136.92 L177.37,136.94 L177.56,136.96 L177.74,136.99 L177.92,137.01 L178.11,137.03 L178.29,137.06 L178.48,137.09 L178.66,137.11 L178.84,137.14 L179.03,137.17 L179.21,137.19 L179.39,137.22 L179.58,137.25 L179.76,137.28 L179.94,137.31 L180.13,137.34 L180.31,137.37 L180.49,137.41 L180.68,137.44 L180.86,137.47 L181.04,137.50 L181.23,137.54 L181.41,137.57 L181.59,137.61 L181.78,137.64 L181.96,137.68 L182.15,137.71 L182.33,137.75 L182.51,137.79 L182.70,137.83 L182.88,137.86 L183.06,137.90 L183.25,137.94 L183.43,137.98 L183.61,138.02 L183.80,138.06 L183.98,138.10 L184.16,138.14 L184.35,138.18 L184.53,138.22 L184.71,138.27 L184.90,138.31 L185.08,138.35 L185.26,138.39 L185.45,138.44 L185.63,138.48 L185.82,138.52 L186.00,138.57 L186.18,138.61 L186.37,138.66 L186.55,138.70 L186.73,138.75 L186.92,138.79 L187.10,138.84 L187.28,138.88 L187.47,138.93 L187.65,138.98 L187.83,139.02 L188.02,139.07 L188.20,139.12 L188.38,139.17 L188.57,139.21 L188.75,139.26 L188.93,139.31 L189.12,139.36 L189.30,139.41 L189.49,139.45 L189.67,139.50 L189.85,139.55 L190.04,139.60 L190.22,139.65 L190.40,139.70 L190.59,139.75 L190.77,139.80 L190.95,139.85 L191.14,139.90 L191.32,139.95 L191.50,140.00 L191.69,140.05 L191.87,140.09 L192.05,140.14 L192.24,140.19 L192.42,140.24 L192.60,140.29 L192.79,140.34 L192.97,140.39 L193.16,140.44 L193.34,140.49 L193.52,140.54 L193.71,140.59 L193.89,140.64 L194.07,140.69 L194.26,140.74 L194.44,140.79 L194.62,140.84 L194.81,140.89 L194.99,140.94 L195.17,140.99 L195.36,141.04 L195.54,141.09 L195.72,141.14 L195.91,141.19 L196.09,141.24 L196.27,141.29 L196.46,141.34 L196.64,141.38 L196.83,141.43 L197.01,141.48 L197.19,141.53 L197.38,141.58 L197.56,141.63 L197.74,141.67 L197.93,141.72 L198.11,141.77 L198.29,141.82 L198.48,141.86 L198.66,141.91 L198.84,141.96 L199.03,142.01 L199.21,142.05 L199.39,142.10 L199.58,142.14 L199.76,142.19 L199.94,142.24 L200.13,142.28 L200.31,142.33 L200.50,142.37 L200.68,142.42 L200.86,142.46 L201.05,142.51 L201.23,142.55 L201.41,142.59 L201.60,142.64 L201.78,142.68 L201.96,142.73 L202.15,142.77 L202.33,142.81 L202.51,142.85 L202.70,142.90 L202.88,142.94 L203.06,142.98 L203.25,143.02 L203.43,143.06 L203.61,143.10 L203.80,143.14 L203.98,143.18 L204.17,143.22 L204.35,143.26 L204.53,143.30 L204.72,143.34 L204.90,143.38 L205.08,143.42 L205.27,143.46 L205.45,143.50 L205.63,143.53 L205.82,143.57 L206.00,143.61 L206.18,143.65 L206.37,143.68 L206.55,143.72 L206.73,143.75 L206.92,143.79 L207.10,143.83 L207.28,143.86 L207.47,143.89 L207.65,143.93 L207.84,143.96 L208.02,144.00 L208.20,144.03 L208.39,144.06 L208.57,144.10 L208.75,144.13 L208.94,144.16 L209.12,144.19 L209.30,144.23 L209.49,144.26 L209.67,144.29 L209.85,144.32 L210.04,144.35 L210.22,144.38 L210.40,144.41 L210.59,144.44 L210.77,144.47 L210.95,144.50 L211.14,144.53 L211.32,144.55 L211.51,144.58 L211.69,144.61 L211.87,144.64 L212.06,144.66 L212.24,144.69 L212.42,144.72 L212.61,144.74 L212.79,144.77 L212.97,144.80 L213.16,144.82 L213.34,144.85 L213.52,144.87 L213.71,144.89 L213.89,144.92 L214.07,144.94 L214.26,144.97 L214.44,144.99 L214.62,145.01 L214.81,145.04 L214.99,145.06 L215.18,145.08 L215.36,145.10 L215.54,145.12 L215.73,145.14 L215.91,145.17 L216.09,145.19 L216.28,145.21 L216.46,145.23 L216.64,145.25 L216.83,145.27 L217.01,145.29 L217.19,145.31 L217.38,145.32 L217.56,145.34 L217.74,145.36 L217.93,145.38 L218.11,145.40 L218.29,145.42 L218.48,145.43 L218.66,145.45 L218.84,145.47 L219.03,145.48 L219.21,145.50 L219.40,145.52 L219.58,145.53 L219.76,145.55 L219.95,145.56 L220.13,145.58 L220.31,145.59 L220.50,145.61 L220.68,145.62 L220.86,145.64 L221.05,145.65 L221.23,145.66 L221.41,145.68 L221.60,145.69 L221.78,145.70 L221.96,145.72 L222.15,145.73 L222.33,145.74 L222.52,145.76 L222.70,145.77 L222.88,145.78 L223.07,145.79 L223.25,145.80 L223.43,145.81 L223.62,145.83 L223.80,145.84 L223.98,145.85 L224.17,145.86 L224.35,145.87 L224.53,145.88 L224.72,145.89 L224.90,145.90 L225.08,145.91 L225.27,145.92 L225.45,145.93 L225.63,145.94 L225.82,145.95 L226.00,145.96 L226.19,145.96 L226.37,145.97 L226.55,145.98 L226.74,145.99 L226.92,146.00 L227.10,146.01 L227.29,146.01 L227.47,146.02 L227.65,146.03 L227.84,146.04 L228.02,146.04 L228.20,146.05 L228.39,146.06 L228.57,146.06 L228.75,146.07 L228.94,146.08 L229.12,146.08 L229.30,146.09 L229.49,146.09 L229.67,146.10 L229.86,146.11 L230.04,146.11 L230.22,146.12 L230.41,146.12 L230.59,146.13 L230.77,146.13 L230.96,146.14 L231.14,146.14 L231.32,146.15 L231.51,146.15 L231.69,146.16 L231.87,146.16 L232.06,146.16 L232.24,146.17 L232.42,146.17 L232.61,146.18 L232.79,146.18 L232.97,146.18 L233.16,146.19 L233.34,146.19 L233.53,146.19 L233.71,146.19 L233.89,146.20 L234.08,146.20 L234.26,146.20 L234.44,146.20 L234.63,146.21 L234.81,146.21 L234.99,146.21 L235.18,146.21 L235.36,146.21 L235.54,146.21 L235.73,146.22 L235.91,146.22 L236.09,146.22 L236.28,146.22 L236.46,146.22 L236.64,146.22 L236.83,146.22 L237.01,146.21 L237.19,146.21 L237.38,146.21 L237.56,146.21 L237.75,146.21 L237.93,146.20 L238.11,146.20 L238.30,146.20 L238.48,146.19 L238.66,146.19 L238.85,146.18 L239.03,146.17 L239.21,146.16 L239.40,146.16 L239.58,146.14 L239.76,146.13 L239.95,146.12 L240.13,146.10 L240.31,146.08 L240.50,146.05 L240.68,146.01 L240.87,145.95 L241.05,145.86 L241.23,145.74 L241.42,145.56 L241.60,145.31 L241.78,144.96 L241.97,144.49 L242.15,143.89 L242.33,143.15 L242.52,142.27 L242.70,141.30 L242.88,140.27 L243.07,139.27 L243.25,138.36 L243.43,137.64 L243.62,137.17 L243.80,137.01 L243.98,137.18 L244.17,137.64 L244.35,138.37 L244.54,139.28 L244.72,140.29 L244.90,141.31 L245.09,142.29 L245.27,143.16 L245.45,143.91 L245.64,144.51 L245.82,144.98 L246.00,145.34 L246.19,145.59 L246.37,145.77 L246.55,145.90 L246.74,145.99 L246.92,146.05 L247.10,146.09 L247.29,146.12 L247.47,146.15 L247.65,146.17 L247.84,146.18 L248.02,146.20 L248.21,146.21 L248.39,146.22 L248.57,146.24 L248.76,146.25 L248.94,146.25 L249.12,146.26 L249.31,146.27 L249.49,146.28 L249.67,146.28 L249.86,146.29 L250.04,146.30 L250.22,146.30 L250.41,146.30 L250.59,146.31 L250.77,146.31 L250.96,146.32 L251.14,146.32 L251.32,146.32 L251.51,146.33 L251.69,146.33 L251.88,146.33 L252.06,146.34 L252.24,146.34 L252.43,146.34 L252.61,146.34 L252.79,146.35 L252.98,146.35 L253.16,146.35 L253.34,146.35 L253.53,146.35 L253.71,146.35 L253.89,146.36 L254.08,146.36 L254.26,146.36 L254.44,146.36 L254.63,146.36 L254.81,146.36 L254.99,146.36 L255.18,146.36 L255.36,146.37 L255.55,146.37 L255.73,146.37 L255.91,146.37 L256.10,146.37 L256.28,146.37 L256.46,146.37 L256.65,146.37 L256.83,146.37 L257.01,146.37 L257.20,146.37 L257.38,146.38 L257.56,146.38 L257.75,146.38 L257.93,146.38 L258.11,146.38 L258.30,146.38 L258.48,146.38 L258.66,146.38 L258.85,146.38 L259.03,146.38 L259.22,146.38 L259.40,146.38 L259.58,146.38 L259.77,146.38 L259.95,146.38 L260.13,146.38 L260.32,146.38 L260.50,146.38 L260.68,146.38 L260.87,146.38 L261.05,146.39 L261.23,146.39 L261.42,146.39 L261.60,146.39 L261.78,146.39 L261.97,146.39 L262.15,146.39 L262.33,146.39 L262.52,146.39 L262.70,146.39 L262.88,146.39 L263.07,146.39 L263.25,146.39 L263.44,146.39 L263.62,146.39 L263.80,146.39 L263.99,146.39 L264.17,146.39 L264.35,146.39 L264.54,146.39 L264.72,146.39 L264.90,146.39 L265.09,146.39 L265.27,146.39 L265.45,146.39 L265.64,146.39 L265.82,146.39 L266.00,146.39 L266.19,146.39 L266.37,146.39 L266.56,146.39 L266.74,146.39 L266.92,146.39 L267.11,146.39 L267.29,146.39 L267.47,146.39 L267.66,146.39 L267.84,146.39 L268.02,146.39 L268.21,146.39 L268.39,146.39 L268.57,146.39 L268.76,146.39 L268.94,146.39 L269.12,146.39 L269.31,146.39 L269.49,146.39 L269.67,146.39 L269.86,146.39 L270.04,146.39 L270.23,146.39 L270.41,146.39 L270.59,146.39 L270.78,146.39 L270.96,146.39 L271.14,146.39 L271.33,146.39 L271.51,146.39 L271.69,146.39 L271.88,146.39 L272.06,146.39 L272.24,146.39 L272.43,146.39 L272.61,146.40 L272.79,146.40 L272.98,146.40 L273.16,146.40 L273.34,146.40 L273.53,146.40 L273.71,146.40 L273.89,146.40 L274.08,146.40 L274.26,146.40 L274.45,146.40 L274.63,146.40 L274.81,146.39 L275.00,146.39 L275.18,146.39 L275.36,146.39 L275.55,146.39 L275.73,146.39 L275.91,146.38 L276.10,146.38 L276.28,146.37 L276.46,146.36 L276.65,146.35 L276.83,146.33 L277.01,146.31 L277.20,146.29 L277.38,146.26 L277.57,146.22 L277.75,146.18 L277.93,146.14 L278.12,146.08 L278.30,146.03 L278.48,145.97 L278.67,145.91 L278.85,145.85 L279.03,145.79 L279.22,145.74 L279.40,145.69 L279.58,145.65 L279.77,145.62 L279.95,145.60 L280.13,145.59 L280.32,145.60 L280.50,145.62 L280.68,145.65 L280.87,145.69 L281.05,145.74 L281.24,145.79 L281.42,145.85 L281.60,145.91 L281.79,145.97 L281.97,146.03 L282.15,146.08 L282.34,146.14 L282.52,146.18 L282.70,146.22 L282.89,146.26 L283.07,146.29 L283.25,146.31 L283.44,146.33 L283.62,146.35 L283.80,146.36 L283.99,146.37 L284.17,146.38 L284.35,146.38 L284.54,146.39 L284.72,146.39 L284.91,146.39 L285.09,146.39 L285.27,146.40 L285.46,146.40 L285.64,146.40 L285.82,146.40 L286.01,146.40 L286.19,146.40 L286.37,146.40 L286.56,146.40 L286.74,146.40 L286.92,146.40 L287.11,146.40 L287.29,146.40 L287.47,146.40 L287.66,146.40 L287.84,146.40 L288.02,146.40 L288.21,146.40 L288.39,146.40 L288.58,146.40 L288.76,146.40 L288.94,146.40 L289.13,146.40 L289.31,146.40 L289.49,146.40 L289.68,146.40 L289.86,146.40 L290.04,146.40 L290.23,146.40 L290.41,146.40 L290.59,146.40 L290.78,146.40 L290.96,146.40 L291.14,146.40 L291.33,146.40 L291.51,146.40 L291.69,146.40 L291.88,146.40 L292.06,146.40 L292.25,146.40 L292.43,146.40 L292.61,146.40 L292.80,146.40 L292.98,146.40 L293.16,146.40 L293.35,146.40 L293.53,146.40 L293.71,146.40 L293.90,146.40 L294.08,146.40 L294.26,146.40 L294.45,146.40 L294.63,146.40 L294.81,146.40 L295.00,146.40 L295.18,146.40 L295.36,146.40 L295.55,146.40 L295.73,146.40 L295.92,146.40 L296.10,146.40 L296.28,146.40 L296.47,146.40 L296.65,146.40 L296.83,146.40 L297.02,146.40 L297.20,146.40 L297.38,146.40 L297.57,146.40 L297.75,146.40" fill="none" stroke="#0072bd" stroke-width="1.35" stroke-linejoin="round" clip-path="url(#ca1)"/>
<text x="261.20" y="92.15" text-anchor="end" font-size="11.35" fill="#262626" font-family='"Liberation Sans", sans-serif' >/6! = 10 ps</text>
<text x="201.72" y="97.85" font-size="9.6" fill="#262626" font-family='"Liberation Sans", sans-serif' >6</text>
<text x="195.22" y="92.15" class="s" font-size="11.35" fill="#262626" font-family='"Liberation Serif", serif' font-style="italic">β</text>
<text x="261.90" y="86.25" font-size="9.8" fill="#262626" font-family='"Liberation Sans", sans-serif' >6</text>
<text x="270.00" y="92.15" font-size="11.35" fill="#262626" font-family='"Liberation Sans", sans-serif' >km</text>
<text x="285.60" y="86.45" font-size="9.1" fill="#262626" font-family='"Liberation Sans", sans-serif' >-1</text>
<text x="243.30" y="111.95" font-size="11.35" fill="#262626" font-family='"Liberation Sans", sans-serif' >1/</text>
<text x="252.90" y="111.95" class="s" font-size="11.35" fill="#262626" font-family='"Liberation Serif", serif' font-style="italic">ϵ</text>
<text x="293.30" y="111.95" text-anchor="end" font-size="11.35" fill="#262626" font-family='"Liberation Sans", sans-serif' >= 2.41</text>
<line x1="41.30" y1="149.40" x2="297.45" y2="149.40" stroke="#333333" stroke-width="0.75" />
<line x1="41.30" y1="149.40" x2="41.30" y2="220.20" stroke="#333333" stroke-width="0.75" />
<line x1="297.45" y1="149.40" x2="297.45" y2="220.20" stroke="#333333" stroke-width="0.75" />
<line x1="59.20" y1="149.40" x2="59.20" y2="152.20" stroke="#333333" stroke-width="0.75" />
<line x1="59.20" y1="220.20" x2="59.20" y2="217.40" stroke="#333333" stroke-width="0.75" />
<line x1="95.90" y1="149.40" x2="95.90" y2="152.20" stroke="#333333" stroke-width="0.75" />
<line x1="95.90" y1="220.20" x2="95.90" y2="217.40" stroke="#333333" stroke-width="0.75" />
<line x1="132.60" y1="149.40" x2="132.60" y2="152.20" stroke="#333333" stroke-width="0.75" />
<line x1="132.60" y1="220.20" x2="132.60" y2="217.40" stroke="#333333" stroke-width="0.75" />
<line x1="169.30" y1="149.40" x2="169.30" y2="152.20" stroke="#333333" stroke-width="0.75" />
<line x1="169.30" y1="220.20" x2="169.30" y2="217.40" stroke="#333333" stroke-width="0.75" />
<line x1="206.00" y1="149.40" x2="206.00" y2="152.20" stroke="#333333" stroke-width="0.75" />
<line x1="206.00" y1="220.20" x2="206.00" y2="217.40" stroke="#333333" stroke-width="0.75" />
<line x1="242.70" y1="149.40" x2="242.70" y2="152.20" stroke="#333333" stroke-width="0.75" />
<line x1="242.70" y1="220.20" x2="242.70" y2="217.40" stroke="#333333" stroke-width="0.75" />
<line x1="279.40" y1="149.40" x2="279.40" y2="152.20" stroke="#333333" stroke-width="0.75" />
<line x1="279.40" y1="220.20" x2="279.40" y2="217.40" stroke="#333333" stroke-width="0.75" />
<line x1="41.30" y1="220.20" x2="44.10" y2="220.20" stroke="#333333" stroke-width="0.75" />
<line x1="297.45" y1="220.20" x2="294.65" y2="220.20" stroke="#333333" stroke-width="0.75" />
<text x="37.60" y="224.65" text-anchor="end" font-size="11" fill="#262626" font-family='"Liberation Sans", sans-serif' >0</text>
<line x1="41.30" y1="169.95" x2="44.10" y2="169.95" stroke="#333333" stroke-width="0.75" />
<line x1="297.45" y1="169.95" x2="294.65" y2="169.95" stroke="#333333" stroke-width="0.75" />
<text x="37.60" y="174.40" text-anchor="end" font-size="11" fill="#262626" font-family='"Liberation Sans", sans-serif' >5</text>
<clipPath id="ca2"><rect x="41.3" y="148.4" width="256.15" height="72.29999999999998"/></clipPath>
<path d="M40.85,220.20 L41.03,220.20 L41.22,220.20 L41.40,220.20 L41.58,220.20 L41.77,220.20 L41.95,220.20 L42.13,220.20 L42.32,220.20 L42.50,220.20 L42.68,220.20 L42.87,220.20 L43.05,220.20 L43.24,220.20 L43.42,220.20 L43.60,220.20 L43.79,220.20 L43.97,220.20 L44.15,220.20 L44.34,220.20 L44.52,220.20 L44.70,220.20 L44.89,220.20 L45.07,220.20 L45.25,220.20 L45.44,220.20 L45.62,220.20 L45.80,220.20 L45.99,220.20 L46.17,220.20 L46.36,220.20 L46.54,220.20 L46.72,220.20 L46.91,220.20 L47.09,220.20 L47.27,220.20 L47.46,220.20 L47.64,220.20 L47.82,220.20 L48.01,220.20 L48.19,220.20 L48.37,220.20 L48.56,220.20 L48.74,220.20 L48.92,220.20 L49.11,220.20 L49.29,220.20 L49.47,220.20 L49.66,220.20 L49.84,220.20 L50.03,220.19 L50.21,220.19 L50.39,220.19 L50.58,220.19 L50.76,220.19 L50.94,220.19 L51.13,220.19 L51.31,220.19 L51.49,220.19 L51.68,220.19 L51.86,220.19 L52.04,220.19 L52.23,220.19 L52.41,220.19 L52.59,220.19 L52.78,220.19 L52.96,220.19 L53.14,220.19 L53.33,220.19 L53.51,220.19 L53.70,220.19 L53.88,220.19 L54.06,220.19 L54.25,220.19 L54.43,220.19 L54.61,220.19 L54.80,220.19 L54.98,220.19 L55.16,220.19 L55.35,220.19 L55.53,220.19 L55.71,220.19 L55.90,220.19 L56.08,220.19 L56.26,220.19 L56.45,220.19 L56.63,220.19 L56.81,220.19 L57.00,220.19 L57.18,220.19 L57.37,220.19 L57.55,220.19 L57.73,220.19 L57.92,220.19 L58.10,220.19 L58.28,220.19 L58.47,220.19 L58.65,220.19 L58.83,220.19 L59.02,220.19 L59.20,220.19 L59.38,220.19 L59.57,220.19 L59.75,220.19 L59.93,220.19 L60.12,220.19 L60.30,220.19 L60.48,220.19 L60.67,220.19 L60.85,220.19 L61.03,220.19 L61.22,220.19 L61.40,220.19 L61.59,220.19 L61.77,220.19 L61.95,220.19 L62.14,220.19 L62.32,220.19 L62.50,220.19 L62.69,220.19 L62.87,220.19 L63.05,220.19 L63.24,220.19 L63.42,220.19 L63.60,220.19 L63.79,220.19 L63.97,220.19 L64.15,220.19 L64.34,220.19 L64.52,220.19 L64.70,220.19 L64.89,220.19 L65.07,220.19 L65.26,220.19 L65.44,220.19 L65.62,220.19 L65.81,220.19 L65.99,220.19 L66.17,220.19 L66.36,220.19 L66.54,220.19 L66.72,220.19 L66.91,220.19 L67.09,220.19 L67.27,220.19 L67.46,220.19 L67.64,220.19 L67.82,220.19 L68.01,220.19 L68.19,220.19 L68.38,220.19 L68.56,220.19 L68.74,220.19 L68.93,220.19 L69.11,220.19 L69.29,220.19 L69.48,220.19 L69.66,220.19 L69.84,220.19 L70.03,220.19 L70.21,220.19 L70.39,220.19 L70.58,220.18 L70.76,220.18 L70.94,220.18 L71.13,220.18 L71.31,220.18 L71.49,220.18 L71.68,220.18 L71.86,220.18 L72.05,220.18 L72.23,220.18 L72.41,220.18 L72.60,220.18 L72.78,220.18 L72.96,220.18 L73.15,220.18 L73.33,220.18 L73.51,220.18 L73.70,220.18 L73.88,220.18 L74.06,220.18 L74.25,220.18 L74.43,220.18 L74.61,220.18 L74.80,220.18 L74.98,220.18 L75.16,220.18 L75.35,220.18 L75.53,220.18 L75.72,220.18 L75.90,220.18 L76.08,220.18 L76.27,220.18 L76.45,220.18 L76.63,220.18 L76.82,220.17 L77.00,220.17 L77.18,220.17 L77.37,220.17 L77.55,220.17 L77.73,220.17 L77.92,220.17 L78.10,220.17 L78.28,220.17 L78.47,220.17 L78.65,220.17 L78.83,220.17 L79.02,220.17 L79.20,220.17 L79.38,220.17 L79.57,220.17 L79.75,220.17 L79.94,220.17 L80.12,220.16 L80.30,220.16 L80.49,220.16 L80.67,220.16 L80.85,220.16 L81.04,220.16 L81.22,220.16 L81.40,220.16 L81.59,220.16 L81.77,220.16 L81.95,220.16 L82.14,220.16 L82.32,220.15 L82.50,220.15 L82.69,220.15 L82.87,220.15 L83.06,220.15 L83.24,220.15 L83.42,220.15 L83.61,220.14 L83.79,220.14 L83.97,220.14 L84.16,220.13 L84.34,220.12 L84.52,220.12 L84.71,220.11 L84.89,220.09 L85.07,220.07 L85.26,220.05 L85.44,220.03 L85.62,219.99 L85.81,219.95 L85.99,219.91 L86.17,219.85 L86.36,219.79 L86.54,219.73 L86.73,219.65 L86.91,219.58 L87.09,219.50 L87.28,219.42 L87.46,219.35 L87.64,219.27 L87.83,219.21 L88.01,219.16 L88.19,219.12 L88.38,219.09 L88.56,219.08 L88.74,219.08 L88.93,219.10 L89.11,219.13 L89.29,219.18 L89.48,219.23 L89.66,219.30 L89.84,219.36 L90.03,219.43 L90.21,219.50 L90.40,219.57 L90.58,219.63 L90.76,219.69 L90.95,219.74 L91.13,219.78 L91.31,219.82 L91.50,219.84 L91.68,219.87 L91.86,219.88 L92.05,219.89 L92.23,219.89 L92.41,219.89 L92.60,219.88 L92.78,219.87 L92.96,219.86 L93.15,219.85 L93.33,219.83 L93.51,219.81 L93.70,219.78 L93.88,219.76 L94.07,219.73 L94.25,219.70 L94.43,219.66 L94.62,219.62 L94.80,219.58 L94.98,219.53 L95.17,219.47 L95.35,219.39 L95.53,219.29 L95.72,219.16 L95.90,218.98 L96.08,218.71 L96.27,218.33 L96.45,217.77 L96.63,216.99 L96.82,215.90 L97.00,214.46 L97.18,212.60 L97.37,210.31 L97.55,207.62 L97.74,204.62 L97.92,201.47 L98.10,198.37 L98.29,195.57 L98.47,193.35 L98.65,191.91 L98.84,191.41 L99.02,191.90 L99.20,193.34 L99.39,195.57 L99.57,198.35 L99.75,201.45 L99.94,204.61 L100.12,207.60 L100.30,210.29 L100.49,212.57 L100.67,214.43 L100.85,215.87 L101.04,216.95 L101.22,217.74 L101.41,218.29 L101.59,218.67 L101.77,218.93 L101.96,219.11 L102.14,219.24 L102.32,219.34 L102.51,219.41 L102.69,219.47 L102.87,219.52 L103.06,219.56 L103.24,219.60 L103.42,219.63 L103.61,219.66 L103.79,219.68 L103.97,219.71 L104.16,219.73 L104.34,219.75 L104.52,219.76 L104.71,219.78 L104.89,219.79 L105.08,219.81 L105.26,219.82 L105.44,219.83 L105.63,219.84 L105.81,219.84 L105.99,219.85 L106.18,219.86 L106.36,219.86 L106.54,219.87 L106.73,219.87 L106.91,219.88 L107.09,219.88 L107.28,219.88 L107.46,219.89 L107.64,219.89 L107.83,219.89 L108.01,219.89 L108.19,219.89 L108.38,219.89 L108.56,219.89 L108.75,219.89 L108.93,219.89 L109.11,219.89 L109.30,219.89 L109.48,219.89 L109.66,219.89 L109.85,219.89 L110.03,219.88 L110.21,219.88 L110.40,219.88 L110.58,219.88 L110.76,219.87 L110.95,219.87 L111.13,219.87 L111.31,219.86 L111.50,219.86 L111.68,219.85 L111.86,219.85 L112.05,219.85 L112.23,219.84 L112.42,219.84 L112.60,219.83 L112.78,219.83 L112.97,219.82 L113.15,219.81 L113.33,219.81 L113.52,219.80 L113.70,219.80 L113.88,219.79 L114.07,219.78 L114.25,219.78 L114.43,219.77 L114.62,219.76 L114.80,219.76 L114.98,219.75 L115.17,219.74 L115.35,219.73 L115.53,219.73 L115.72,219.72 L115.90,219.71 L116.09,219.70 L116.27,219.69 L116.45,219.68 L116.64,219.67 L116.82,219.66 L117.00,219.66 L117.19,219.65 L117.37,219.64 L117.55,219.63 L117.74,219.62 L117.92,219.61 L118.10,219.59 L118.29,219.58 L118.47,219.57 L118.65,219.56 L118.84,219.55 L119.02,219.54 L119.20,219.53 L119.39,219.51 L119.57,219.50 L119.75,219.49 L119.94,219.48 L120.12,219.46 L120.31,219.45 L120.49,219.44 L120.67,219.42 L120.86,219.41 L121.04,219.40 L121.22,219.38 L121.41,219.37 L121.59,219.35 L121.77,219.34 L121.96,219.32 L122.14,219.31 L122.32,219.29 L122.51,219.28 L122.69,219.26 L122.87,219.24 L123.06,219.23 L123.24,219.21 L123.43,219.19 L123.61,219.18 L123.79,219.16 L123.98,219.14 L124.16,219.12 L124.34,219.10 L124.53,219.09 L124.71,219.07 L124.89,219.05 L125.08,219.03 L125.26,219.01 L125.44,218.99 L125.63,218.97 L125.81,218.95 L125.99,218.93 L126.18,218.91 L126.36,218.89 L126.54,218.86 L126.73,218.84 L126.91,218.82 L127.10,218.80 L127.28,218.78 L127.46,218.75 L127.65,218.73 L127.83,218.71 L128.01,218.68 L128.20,218.66 L128.38,218.63 L128.56,218.61 L128.75,218.58 L128.93,218.56 L129.11,218.53 L129.30,218.51 L129.48,218.48 L129.66,218.46 L129.85,218.43 L130.03,218.40 L130.21,218.38 L130.40,218.35 L130.58,218.32 L130.77,218.29 L130.95,218.26 L131.13,218.23 L131.32,218.21 L131.50,218.18 L131.68,218.15 L131.87,218.12 L132.05,218.09 L132.23,218.06 L132.42,218.03 L132.60,217.99 L132.78,217.96 L132.97,217.93 L133.15,217.90 L133.33,217.87 L133.52,217.83 L133.70,217.80 L133.88,217.77 L134.07,217.73 L134.25,217.70 L134.44,217.67 L134.62,217.63 L134.80,217.60 L134.99,217.56 L135.17,217.53 L135.35,217.49 L135.54,217.46 L135.72,217.42 L135.90,217.38 L136.09,217.35 L136.27,217.31 L136.45,217.27 L136.64,217.23 L136.82,217.20 L137.00,217.16 L137.19,217.12 L137.37,217.08 L137.55,217.04 L137.74,217.00 L137.92,216.96 L138.11,216.92 L138.29,216.88 L138.47,216.84 L138.66,216.80 L138.84,216.76 L139.02,216.72 L139.21,216.68 L139.39,216.64 L139.57,216.59 L139.76,216.55 L139.94,216.51 L140.12,216.47 L140.31,216.42 L140.49,216.38 L140.67,216.34 L140.86,216.29 L141.04,216.25 L141.22,216.21 L141.41,216.16 L141.59,216.12 L141.78,216.07 L141.96,216.03 L142.14,215.98 L142.33,215.94 L142.51,215.89 L142.69,215.85 L142.88,215.80 L143.06,215.75 L143.24,215.71 L143.43,215.66 L143.61,215.61 L143.79,215.57 L143.98,215.52 L144.16,215.47 L144.34,215.43 L144.53,215.38 L144.71,215.33 L144.89,215.28 L145.08,215.24 L145.26,215.19 L145.45,215.14 L145.63,215.09 L145.81,215.04 L146.00,214.99 L146.18,214.95 L146.36,214.90 L146.55,214.85 L146.73,214.80 L146.91,214.75 L147.10,214.70 L147.28,214.65 L147.46,214.60 L147.65,214.56 L147.83,214.51 L148.01,214.46 L148.20,214.41 L148.38,214.36 L148.56,214.31 L148.75,214.26 L148.93,214.21 L149.12,214.16 L149.30,214.11 L149.48,214.06 L149.67,214.01 L149.85,213.96 L150.03,213.92 L150.22,213.87 L150.40,213.82 L150.58,213.77 L150.77,213.72 L150.95,213.67 L151.13,213.62 L151.32,213.57 L151.50,213.52 L151.68,213.48 L151.87,213.43 L152.05,213.38 L152.23,213.33 L152.42,213.28 L152.60,213.24 L152.78,213.19 L152.97,213.14 L153.15,213.09 L153.34,213.05 L153.52,213.00 L153.70,212.95 L153.89,212.90 L154.07,212.86 L154.25,212.81 L154.44,212.77 L154.62,212.72 L154.80,212.67 L154.99,212.63 L155.17,212.58 L155.35,212.54 L155.54,212.49 L155.72,212.45 L155.90,212.41 L156.09,212.36 L156.27,212.32 L156.46,212.27 L156.64,212.23 L156.82,212.19 L157.01,212.15 L157.19,212.10 L157.37,212.06 L157.56,212.02 L157.74,211.98 L157.92,211.94 L158.11,211.90 L158.29,211.86 L158.47,211.82 L158.66,211.78 L158.84,211.74 L159.02,211.70 L159.21,211.67 L159.39,211.63 L159.57,211.59 L159.76,211.55 L159.94,211.52 L160.12,211.48 L160.31,211.45 L160.49,211.41 L160.68,211.38 L160.86,211.34 L161.04,211.31 L161.23,211.28 L161.41,211.25 L161.59,211.21 L161.78,211.18 L161.96,211.15 L162.14,211.12 L162.33,211.09 L162.51,211.06 L162.69,211.03 L162.88,211.00 L163.06,210.98 L163.24,210.95 L163.43,210.92 L163.61,210.89 L163.80,210.87 L163.98,210.84 L164.16,210.82 L164.35,210.80 L164.53,210.77 L164.71,210.75 L164.90,210.73 L165.08,210.71 L165.26,210.68 L165.45,210.66 L165.63,210.64 L165.81,210.63 L166.00,210.61 L166.18,210.59 L166.36,210.57 L166.55,210.55 L166.73,210.54 L166.91,210.52 L167.10,210.51 L167.28,210.49 L167.47,210.48 L167.65,210.47 L167.83,210.46 L168.02,210.44 L168.20,210.43 L168.38,210.42 L168.57,210.41 L168.75,210.40 L168.93,210.40 L169.12,210.39 L169.30,210.38 L169.48,210.37 L169.67,210.37 L169.85,210.36 L170.03,210.36 L170.22,210.36 L170.40,210.35 L170.58,210.35 L170.77,210.35 L170.95,210.35 L171.13,210.35 L171.32,210.35 L171.50,210.35 L171.69,210.35 L171.87,210.35 L172.05,210.36 L172.24,210.36 L172.42,210.36 L172.60,210.37 L172.79,210.37 L172.97,210.38 L173.15,210.39 L173.34,210.40 L173.52,210.40 L173.70,210.41 L173.89,210.42 L174.07,210.43 L174.25,210.44 L174.44,210.46 L174.62,210.47 L174.81,210.48 L174.99,210.49 L175.17,210.51 L175.36,210.52 L175.54,210.54 L175.72,210.55 L175.91,210.57 L176.09,210.59 L176.27,210.61 L176.46,210.63 L176.64,210.64 L176.82,210.66 L177.01,210.68 L177.19,210.71 L177.37,210.73 L177.56,210.75 L177.74,210.77 L177.92,210.80 L178.11,210.82 L178.29,210.84 L178.48,210.87 L178.66,210.90 L178.84,210.92 L179.03,210.95 L179.21,210.98 L179.39,211.00 L179.58,211.03 L179.76,211.06 L179.94,211.09 L180.13,211.12 L180.31,211.15 L180.49,211.18 L180.68,211.21 L180.86,211.25 L181.04,211.28 L181.23,211.31 L181.41,211.34 L181.59,211.38 L181.78,211.41 L181.96,211.45 L182.15,211.48 L182.33,211.52 L182.51,211.56 L182.70,211.59 L182.88,211.63 L183.06,211.67 L183.25,211.70 L183.43,211.74 L183.61,211.78 L183.80,211.82 L183.98,211.86 L184.16,211.90 L184.35,211.94 L184.53,211.98 L184.71,212.02 L184.90,212.06 L185.08,212.11 L185.26,212.15 L185.45,212.19 L185.63,212.23 L185.82,212.28 L186.00,212.32 L186.18,212.36 L186.37,212.41 L186.55,212.45 L186.73,212.49 L186.92,212.54 L187.10,212.58 L187.28,212.63 L187.47,212.67 L187.65,212.72 L187.83,212.77 L188.02,212.81 L188.20,212.86 L188.38,212.91 L188.57,212.95 L188.75,213.00 L188.93,213.05 L189.12,213.09 L189.30,213.14 L189.49,213.19 L189.67,213.24 L189.85,213.28 L190.04,213.33 L190.22,213.38 L190.40,213.43 L190.59,213.48 L190.77,213.53 L190.95,213.57 L191.14,213.62 L191.32,213.67 L191.50,213.72 L191.69,213.77 L191.87,213.82 L192.05,213.87 L192.24,213.92 L192.42,213.97 L192.60,214.02 L192.79,214.06 L192.97,214.11 L193.16,214.16 L193.34,214.21 L193.52,214.26 L193.71,214.31 L193.89,214.36 L194.07,214.41 L194.26,214.46 L194.44,214.51 L194.62,214.56 L194.81,214.61 L194.99,214.65 L195.17,214.70 L195.36,214.75 L195.54,214.80 L195.72,214.85 L195.91,214.90 L196.09,214.95 L196.27,215.00 L196.46,215.04 L196.64,215.09 L196.83,215.14 L197.01,215.19 L197.19,215.24 L197.38,215.28 L197.56,215.33 L197.74,215.38 L197.93,215.43 L198.11,215.47 L198.29,215.52 L198.48,215.57 L198.66,215.62 L198.84,215.66 L199.03,215.71 L199.21,215.76 L199.39,215.80 L199.58,215.85 L199.76,215.89 L199.94,215.94 L200.13,215.98 L200.31,216.03 L200.50,216.07 L200.68,216.12 L200.86,216.16 L201.05,216.21 L201.23,216.25 L201.41,216.30 L201.60,216.34 L201.78,216.38 L201.96,216.43 L202.15,216.47 L202.33,216.51 L202.51,216.55 L202.70,216.60 L202.88,216.64 L203.06,216.68 L203.25,216.72 L203.43,216.76 L203.61,216.80 L203.80,216.84 L203.98,216.88 L204.17,216.92 L204.35,216.96 L204.53,217.00 L204.72,217.04 L204.90,217.08 L205.08,217.12 L205.27,217.16 L205.45,217.20 L205.63,217.24 L205.82,217.27 L206.00,217.31 L206.18,217.35 L206.37,217.38 L206.55,217.42 L206.73,217.46 L206.92,217.49 L207.10,217.53 L207.28,217.56 L207.47,217.60 L207.65,217.63 L207.84,217.67 L208.02,217.70 L208.20,217.74 L208.39,217.77 L208.57,217.80 L208.75,217.84 L208.94,217.87 L209.12,217.90 L209.30,217.93 L209.49,217.96 L209.67,218.00 L209.85,218.03 L210.04,218.06 L210.22,218.09 L210.40,218.12 L210.59,218.15 L210.77,218.18 L210.95,218.21 L211.14,218.24 L211.32,218.27 L211.51,218.29 L211.69,218.32 L211.87,218.35 L212.06,218.38 L212.24,218.40 L212.42,218.43 L212.61,218.46 L212.79,218.48 L212.97,218.51 L213.16,218.54 L213.34,218.56 L213.52,218.59 L213.71,218.61 L213.89,218.64 L214.07,218.66 L214.26,218.69 L214.44,218.71 L214.62,218.73 L214.81,218.76 L214.99,218.78 L215.18,218.80 L215.36,218.82 L215.54,218.85 L215.73,218.87 L215.91,218.89 L216.09,218.91 L216.28,218.93 L216.46,218.95 L216.64,218.97 L216.83,218.99 L217.01,219.01 L217.19,219.03 L217.38,219.05 L217.56,219.07 L217.74,219.09 L217.93,219.11 L218.11,219.13 L218.29,219.14 L218.48,219.16 L218.66,219.18 L218.84,219.20 L219.03,219.21 L219.21,219.23 L219.40,219.25 L219.58,219.26 L219.76,219.28 L219.95,219.29 L220.13,219.31 L220.31,219.33 L220.50,219.34 L220.68,219.36 L220.86,219.37 L221.05,219.38 L221.23,219.40 L221.41,219.41 L221.60,219.43 L221.78,219.44 L221.96,219.45 L222.15,219.47 L222.33,219.48 L222.52,219.49 L222.70,219.50 L222.88,219.52 L223.07,219.53 L223.25,219.54 L223.43,219.55 L223.62,219.56 L223.80,219.57 L223.98,219.58 L224.17,219.59 L224.35,219.60 L224.53,219.61 L224.72,219.62 L224.90,219.63 L225.08,219.64 L225.27,219.65 L225.45,219.66 L225.63,219.67 L225.82,219.68 L226.00,219.69 L226.19,219.70 L226.37,219.70 L226.55,219.71 L226.74,219.72 L226.92,219.73 L227.10,219.73 L227.29,219.74 L227.47,219.75 L227.65,219.75 L227.84,219.76 L228.02,219.76 L228.20,219.77 L228.39,219.77 L228.57,219.78 L228.75,219.78 L228.94,219.79 L229.12,219.79 L229.30,219.80 L229.49,219.80 L229.67,219.80 L229.86,219.81 L230.04,219.81 L230.22,219.81 L230.41,219.81 L230.59,219.81 L230.77,219.81 L230.96,219.81 L231.14,219.81 L231.32,219.81 L231.51,219.81 L231.69,219.80 L231.87,219.80 L232.06,219.80 L232.24,219.79 L232.42,219.78 L232.61,219.78 L232.79,219.77 L232.97,219.76 L233.16,219.74 L233.34,219.73 L233.53,219.71 L233.71,219.69 L233.89,219.66 L234.08,219.63 L234.26,219.59 L234.44,219.52 L234.63,219.44 L234.81,219.31 L234.99,219.12 L235.18,218.85 L235.36,218.46 L235.54,217.92 L235.73,217.20 L235.91,216.28 L236.09,215.14 L236.28,213.80 L236.46,212.30 L236.64,210.73 L236.83,209.18 L237.01,207.79 L237.19,206.68 L237.38,205.96 L237.56,205.71 L237.75,205.97 L237.93,206.69 L238.11,207.80 L238.30,209.20 L238.48,210.75 L238.66,212.33 L238.85,213.84 L239.03,215.18 L239.21,216.33 L239.40,217.26 L239.58,217.98 L239.76,218.53 L239.95,218.92 L240.13,219.20 L240.31,219.39 L240.50,219.53 L240.68,219.62 L240.87,219.69 L241.05,219.74 L241.23,219.78 L241.42,219.81 L241.60,219.84 L241.78,219.86 L241.97,219.88 L242.15,219.90 L242.33,219.92 L242.52,219.93 L242.70,219.95 L242.88,219.96 L243.07,219.97 L243.25,219.99 L243.43,220.00 L243.62,220.01 L243.80,220.01 L243.98,220.02 L244.17,220.03 L244.35,220.04 L244.54,220.05 L244.72,220.05 L244.90,220.06 L245.09,220.06 L245.27,220.07 L245.45,220.07 L245.64,220.08 L245.82,220.08 L246.00,220.09 L246.19,220.09 L246.37,220.10 L246.55,220.10 L246.74,220.10 L246.92,220.11 L247.10,220.11 L247.29,220.11 L247.47,220.12 L247.65,220.12 L247.84,220.12 L248.02,220.12 L248.21,220.13 L248.39,220.13 L248.57,220.13 L248.76,220.13 L248.94,220.13 L249.12,220.14 L249.31,220.14 L249.49,220.14 L249.67,220.14 L249.86,220.14 L250.04,220.14 L250.22,220.15 L250.41,220.15 L250.59,220.15 L250.77,220.15 L250.96,220.15 L251.14,220.15 L251.32,220.15 L251.51,220.16 L251.69,220.16 L251.88,220.16 L252.06,220.16 L252.24,220.16 L252.43,220.16 L252.61,220.16 L252.79,220.16 L252.98,220.16 L253.16,220.17 L253.34,220.17 L253.53,220.17 L253.71,220.17 L253.89,220.17 L254.08,220.17 L254.26,220.17 L254.44,220.17 L254.63,220.17 L254.81,220.17 L254.99,220.17 L255.18,220.17 L255.36,220.17 L255.55,220.17 L255.73,220.18 L255.91,220.18 L256.10,220.18 L256.28,220.18 L256.46,220.18 L256.65,220.18 L256.83,220.18 L257.01,220.18 L257.20,220.18 L257.38,220.18 L257.56,220.18 L257.75,220.18 L257.93,220.18 L258.11,220.18 L258.30,220.18 L258.48,220.18 L258.66,220.18 L258.85,220.18 L259.03,220.18 L259.22,220.18 L259.40,220.18 L259.58,220.18 L259.77,220.18 L259.95,220.18 L260.13,220.18 L260.32,220.19 L260.50,220.19 L260.68,220.19 L260.87,220.19 L261.05,220.19 L261.23,220.19 L261.42,220.19 L261.60,220.19 L261.78,220.19 L261.97,220.19 L262.15,220.19 L262.33,220.19 L262.52,220.19 L262.70,220.19 L262.88,220.19 L263.07,220.19 L263.25,220.19 L263.44,220.19 L263.62,220.19 L263.80,220.19 L263.99,220.19 L264.17,220.19 L264.35,220.19 L264.54,220.19 L264.72,220.19 L264.90,220.19 L265.09,220.19 L265.27,220.19 L265.45,220.19 L265.64,220.19 L265.82,220.19 L266.00,220.19 L266.19,220.19 L266.37,220.19 L266.56,220.19 L266.74,220.19 L266.92,220.19 L267.11,220.19 L267.29,220.19 L267.47,220.19 L267.66,220.19 L267.84,220.19 L268.02,220.19 L268.21,220.19 L268.39,220.19 L268.57,220.19 L268.76,220.19 L268.94,220.19 L269.12,220.19 L269.31,220.19 L269.49,220.19 L269.67,220.19 L269.86,220.19 L270.04,220.19 L270.23,220.19 L270.41,220.19 L270.59,220.19 L270.78,220.19 L270.96,220.19 L271.14,220.19 L271.33,220.19 L271.51,220.19 L271.69,220.19 L271.88,220.19 L272.06,220.19 L272.24,220.19 L272.43,220.19 L272.61,220.19 L272.79,220.19 L272.98,220.19 L273.16,220.19 L273.34,220.19 L273.53,220.19 L273.71,220.19 L273.89,220.20 L274.08,220.20 L274.26,220.20 L274.45,220.20 L274.63,220.20 L274.81,220.20 L275.00,220.20 L275.18,220.20 L275.36,220.20 L275.55,220.20 L275.73,220.20 L275.91,220.20 L276.10,220.20 L276.28,220.20 L276.46,220.20 L276.65,220.20 L276.83,220.20 L277.01,220.20 L277.20,220.20 L277.38,220.20 L277.57,220.20 L277.75,220.20 L277.93,220.20 L278.12,220.20 L278.30,220.20 L278.48,220.20 L278.67,220.20 L278.85,220.20 L279.03,220.20 L279.22,220.20 L279.40,220.20 L279.58,220.20 L279.77,220.20 L279.95,220.20 L280.13,220.20 L280.32,220.20 L280.50,220.20 L280.68,220.20 L280.87,220.20 L281.05,220.20 L281.24,220.20 L281.42,220.20 L281.60,220.20 L281.79,220.20 L281.97,220.20 L282.15,220.20 L282.34,220.20 L282.52,220.20 L282.70,220.20 L282.89,220.20 L283.07,220.20 L283.25,220.20 L283.44,220.20 L283.62,220.20 L283.80,220.20 L283.99,220.20 L284.17,220.20 L284.35,220.20 L284.54,220.20 L284.72,220.20 L284.91,220.20 L285.09,220.20 L285.27,220.20 L285.46,220.20 L285.64,220.20 L285.82,220.20 L286.01,220.20 L286.19,220.20 L286.37,220.20 L286.56,220.20 L286.74,220.20 L286.92,220.20 L287.11,220.20 L287.29,220.20 L287.47,220.20 L287.66,220.20 L287.84,220.20 L288.02,220.20 L288.21,220.20 L288.39,220.20 L288.58,220.20 L288.76,220.20 L288.94,220.20 L289.13,220.20 L289.31,220.20 L289.49,220.20 L289.68,220.20 L289.86,220.20 L290.04,220.20 L290.23,220.20 L290.41,220.20 L290.59,220.20 L290.78,220.20 L290.96,220.20 L291.14,220.20 L291.33,220.20 L291.51,220.20 L291.69,220.20 L291.88,220.20 L292.06,220.20 L292.25,220.20 L292.43,220.20 L292.61,220.20 L292.80,220.20 L292.98,220.20 L293.16,220.20 L293.35,220.20 L293.53,220.20 L293.71,220.20 L293.90,220.20 L294.08,220.20 L294.26,220.20 L294.45,220.20 L294.63,220.20 L294.81,220.20 L295.00,220.20 L295.18,220.20 L295.36,220.20 L295.55,220.20 L295.73,220.20 L295.92,220.20 L296.10,220.20 L296.28,220.20 L296.47,220.20 L296.65,220.20 L296.83,220.20 L297.02,220.20 L297.20,220.20 L297.38,220.20 L297.57,220.20 L297.75,220.20" fill="none" stroke="#0072bd" stroke-width="1.35" stroke-linejoin="round" clip-path="url(#ca2)"/>
<text x="261.20" y="165.70" text-anchor="end" font-size="11.35" fill="#262626" font-family='"Liberation Sans", sans-serif' >/6! = 12 ps</text>
<text x="201.72" y="171.40" font-size="9.6" fill="#262626" font-family='"Liberation Sans", sans-serif' >6</text>
<text x="195.22" y="165.70" class="s" font-size="11.35" fill="#262626" font-family='"Liberation Serif", serif' font-style="italic">β</text>
<text x="261.90" y="159.80" font-size="9.8" fill="#262626" font-family='"Liberation Sans", sans-serif' >6</text>
<text x="270.00" y="165.70" font-size="11.35" fill="#262626" font-family='"Liberation Sans", sans-serif' >km</text>
<text x="285.60" y="160.00" font-size="9.1" fill="#262626" font-family='"Liberation Sans", sans-serif' >-1</text>
<text x="243.30" y="185.50" font-size="11.35" fill="#262626" font-family='"Liberation Sans", sans-serif' >1/</text>
<text x="252.90" y="185.50" class="s" font-size="11.35" fill="#262626" font-family='"Liberation Serif", serif' font-style="italic">ϵ</text>
<text x="293.30" y="185.50" text-anchor="end" font-size="11.35" fill="#262626" font-family='"Liberation Sans", sans-serif' >= 2.25</text>
<line x1="41.30" y1="223.45" x2="297.45" y2="223.45" stroke="#333333" stroke-width="0.75" />
<line x1="41.30" y1="223.45" x2="41.30" y2="293.35" stroke="#333333" stroke-width="0.75" />
<line x1="297.45" y1="223.45" x2="297.45" y2="293.35" stroke="#333333" stroke-width="0.75" />
<line x1="59.20" y1="223.45" x2="59.20" y2="226.25" stroke="#333333" stroke-width="0.75" />
<line x1="59.20" y1="293.35" x2="59.20" y2="290.55" stroke="#333333" stroke-width="0.75" />
<line x1="95.90" y1="223.45" x2="95.90" y2="226.25" stroke="#333333" stroke-width="0.75" />
<line x1="95.90" y1="293.35" x2="95.90" y2="290.55" stroke="#333333" stroke-width="0.75" />
<line x1="132.60" y1="223.45" x2="132.60" y2="226.25" stroke="#333333" stroke-width="0.75" />
<line x1="132.60" y1="293.35" x2="132.60" y2="290.55" stroke="#333333" stroke-width="0.75" />
<line x1="169.30" y1="223.45" x2="169.30" y2="226.25" stroke="#333333" stroke-width="0.75" />
<line x1="169.30" y1="293.35" x2="169.30" y2="290.55" stroke="#333333" stroke-width="0.75" />
<line x1="206.00" y1="223.45" x2="206.00" y2="226.25" stroke="#333333" stroke-width="0.75" />
<line x1="206.00" y1="293.35" x2="206.00" y2="290.55" stroke="#333333" stroke-width="0.75" />
<line x1="242.70" y1="223.45" x2="242.70" y2="226.25" stroke="#333333" stroke-width="0.75" />
<line x1="242.70" y1="293.35" x2="242.70" y2="290.55" stroke="#333333" stroke-width="0.75" />
<line x1="279.40" y1="223.45" x2="279.40" y2="226.25" stroke="#333333" stroke-width="0.75" />
<line x1="279.40" y1="293.35" x2="279.40" y2="290.55" stroke="#333333" stroke-width="0.75" />
<line x1="41.30" y1="293.35" x2="44.10" y2="293.35" stroke="#333333" stroke-width="0.75" />
<line x1="297.45" y1="293.35" x2="294.65" y2="293.35" stroke="#333333" stroke-width="0.75" />
<text x="37.60" y="297.80" text-anchor="end" font-size="11" fill="#262626" font-family='"Liberation Sans", sans-serif' >0</text>
<line x1="41.30" y1="243.10" x2="44.10" y2="243.10" stroke="#333333" stroke-width="0.75" />
<line x1="297.45" y1="243.10" x2="294.65" y2="243.10" stroke="#333333" stroke-width="0.75" />
<text x="37.60" y="247.55" text-anchor="end" font-size="11" fill="#262626" font-family='"Liberation Sans", sans-serif' >5</text>
<clipPath id="ca3"><rect x="41.3" y="222.45" width="256.15" height="71.40000000000003"/></clipPath>
<path d="M40.85,293.35 L41.03,293.35 L41.22,293.35 L41.40,293.35 L41.58,293.35 L41.77,293.35 L41.95,293.35 L42.13,293.35 L42.32,293.35 L42.50,293.35 L42.68,293.35 L42.87,293.35 L43.05,293.35 L43.24,293.35 L43.42,293.35 L43.60,293.35 L43.79,293.35 L43.97,293.35 L44.15,293.35 L44.34,293.35 L44.52,293.35 L44.70,293.35 L44.89,293.35 L45.07,293.35 L45.25,293.35 L45.44,293.35 L45.62,293.35 L45.80,293.35 L45.99,293.35 L46.17,293.35 L46.36,293.35 L46.54,293.35 L46.72,293.35 L46.91,293.35 L47.09,293.35 L47.27,293.35 L47.46,293.34 L47.64,293.34 L47.82,293.34 L48.01,293.34 L48.19,293.34 L48.37,293.34 L48.56,293.34 L48.74,293.34 L48.92,293.34 L49.11,293.34 L49.29,293.34 L49.47,293.34 L49.66,293.34 L49.84,293.34 L50.03,293.34 L50.21,293.34 L50.39,293.34 L50.58,293.34 L50.76,293.34 L50.94,293.34 L51.13,293.34 L51.31,293.34 L51.49,293.34 L51.68,293.34 L51.86,293.34 L52.04,293.34 L52.23,293.34 L52.41,293.34 L52.59,293.34 L52.78,293.34 L52.96,293.34 L53.14,293.34 L53.33,293.34 L53.51,293.34 L53.70,293.34 L53.88,293.34 L54.06,293.34 L54.25,293.34 L54.43,293.34 L54.61,293.34 L54.80,293.34 L54.98,293.34 L55.16,293.34 L55.35,293.34 L55.53,293.34 L55.71,293.34 L55.90,293.34 L56.08,293.34 L56.26,293.34 L56.45,293.34 L56.63,293.34 L56.81,293.34 L57.00,293.34 L57.18,293.34 L57.37,293.34 L57.55,293.34 L57.73,293.34 L57.92,293.34 L58.10,293.34 L58.28,293.34 L58.47,293.34 L58.65,293.34 L58.83,293.34 L59.02,293.34 L59.20,293.34 L59.38,293.34 L59.57,293.34 L59.75,293.34 L59.93,293.34 L60.12,293.34 L60.30,293.34 L60.48,293.34 L60.67,293.34 L60.85,293.34 L61.03,293.34 L61.22,293.34 L61.40,293.34 L61.59,293.34 L61.77,293.34 L61.95,293.33 L62.14,293.33 L62.32,293.32 L62.50,293.32 L62.69,293.31 L62.87,293.30 L63.05,293.28 L63.24,293.26 L63.42,293.24 L63.60,293.20 L63.79,293.17 L63.97,293.12 L64.15,293.07 L64.34,293.01 L64.52,292.95 L64.70,292.88 L64.89,292.81 L65.07,292.73 L65.26,292.65 L65.44,292.58 L65.62,292.51 L65.81,292.45 L65.99,292.40 L66.17,292.36 L66.36,292.34 L66.54,292.33 L66.72,292.34 L66.91,292.36 L67.09,292.40 L67.27,292.45 L67.46,292.51 L67.64,292.58 L67.82,292.65 L68.01,292.73 L68.19,292.80 L68.38,292.88 L68.56,292.95 L68.74,293.01 L68.93,293.07 L69.11,293.12 L69.29,293.16 L69.48,293.20 L69.66,293.23 L69.84,293.26 L70.03,293.28 L70.21,293.29 L70.39,293.30 L70.58,293.31 L70.76,293.32 L70.94,293.32 L71.13,293.33 L71.31,293.33 L71.49,293.33 L71.68,293.33 L71.86,293.33 L72.05,293.33 L72.23,293.33 L72.41,293.33 L72.60,293.33 L72.78,293.33 L72.96,293.33 L73.15,293.33 L73.33,293.33 L73.51,293.33 L73.70,293.33 L73.88,293.33 L74.06,293.33 L74.25,293.33 L74.43,293.33 L74.61,293.33 L74.80,293.33 L74.98,293.33 L75.16,293.33 L75.35,293.33 L75.53,293.33 L75.72,293.33 L75.90,293.33 L76.08,293.33 L76.27,293.33 L76.45,293.33 L76.63,293.33 L76.82,293.33 L77.00,293.33 L77.18,293.33 L77.37,293.33 L77.55,293.33 L77.73,293.32 L77.92,293.32 L78.10,293.32 L78.28,293.32 L78.47,293.32 L78.65,293.32 L78.83,293.32 L79.02,293.32 L79.20,293.32 L79.38,293.32 L79.57,293.32 L79.75,293.32 L79.94,293.32 L80.12,293.32 L80.30,293.32 L80.49,293.32 L80.67,293.32 L80.85,293.32 L81.04,293.32 L81.22,293.32 L81.40,293.31 L81.59,293.31 L81.77,293.31 L81.95,293.31 L82.14,293.31 L82.32,293.31 L82.50,293.31 L82.69,293.31 L82.87,293.31 L83.06,293.31 L83.24,293.31 L83.42,293.31 L83.61,293.31 L83.79,293.30 L83.97,293.30 L84.16,293.30 L84.34,293.30 L84.52,293.30 L84.71,293.30 L84.89,293.30 L85.07,293.30 L85.26,293.30 L85.44,293.30 L85.62,293.29 L85.81,293.29 L85.99,293.29 L86.17,293.29 L86.36,293.29 L86.54,293.29 L86.73,293.29 L86.91,293.28 L87.09,293.28 L87.28,293.28 L87.46,293.28 L87.64,293.27 L87.83,293.27 L88.01,293.26 L88.19,293.26 L88.38,293.25 L88.56,293.24 L88.74,293.23 L88.93,293.22 L89.11,293.20 L89.29,293.18 L89.48,293.15 L89.66,293.12 L89.84,293.09 L90.03,293.05 L90.21,293.01 L90.40,292.97 L90.58,292.92 L90.76,292.87 L90.95,292.82 L91.13,292.77 L91.31,292.73 L91.50,292.69 L91.68,292.65 L91.86,292.63 L92.05,292.61 L92.23,292.60 L92.41,292.60 L92.60,292.61 L92.78,292.63 L92.96,292.65 L93.15,292.68 L93.33,292.71 L93.51,292.75 L93.70,292.79 L93.88,292.83 L94.07,292.86 L94.25,292.90 L94.43,292.93 L94.62,292.95 L94.80,292.97 L94.98,292.99 L95.17,293.00 L95.35,293.01 L95.53,293.01 L95.72,293.01 L95.90,293.01 L96.08,293.00 L96.27,292.99 L96.45,292.97 L96.63,292.96 L96.82,292.94 L97.00,292.92 L97.18,292.89 L97.37,292.87 L97.55,292.84 L97.74,292.81 L97.92,292.78 L98.10,292.74 L98.29,292.70 L98.47,292.65 L98.65,292.60 L98.84,292.55 L99.02,292.48 L99.20,292.40 L99.39,292.31 L99.57,292.19 L99.75,292.02 L99.94,291.79 L100.12,291.45 L100.30,290.97 L100.49,290.27 L100.67,289.29 L100.85,287.93 L101.04,286.11 L101.22,283.78 L101.41,280.90 L101.59,277.53 L101.77,273.76 L101.96,269.80 L102.14,265.91 L102.32,262.40 L102.51,259.60 L102.69,257.80 L102.87,257.17 L103.06,257.79 L103.24,259.59 L103.42,262.39 L103.61,265.89 L103.79,269.77 L103.97,273.73 L104.16,277.49 L104.34,280.87 L104.52,283.73 L104.71,286.06 L104.89,287.87 L105.08,289.23 L105.26,290.21 L105.44,290.90 L105.63,291.38 L105.81,291.71 L105.99,291.93 L106.18,292.09 L106.36,292.21 L106.54,292.30 L106.73,292.37 L106.91,292.43 L107.09,292.49 L107.28,292.53 L107.46,292.57 L107.64,292.61 L107.83,292.64 L108.01,292.66 L108.19,292.69 L108.38,292.71 L108.56,292.73 L108.75,292.75 L108.93,292.77 L109.11,292.78 L109.30,292.79 L109.48,292.81 L109.66,292.82 L109.85,292.83 L110.03,292.83 L110.21,292.84 L110.40,292.85 L110.58,292.85 L110.76,292.86 L110.95,292.86 L111.13,292.86 L111.31,292.86 L111.50,292.87 L111.68,292.87 L111.86,292.87 L112.05,292.87 L112.23,292.87 L112.42,292.86 L112.60,292.86 L112.78,292.86 L112.97,292.86 L113.15,292.86 L113.33,292.85 L113.52,292.85 L113.70,292.85 L113.88,292.84 L114.07,292.84 L114.25,292.83 L114.43,292.83 L114.62,292.82 L114.80,292.82 L114.98,292.81 L115.17,292.80 L115.35,292.80 L115.53,292.79 L115.72,292.78 L115.90,292.78 L116.09,292.77 L116.27,292.76 L116.45,292.75 L116.64,292.75 L116.82,292.74 L117.00,292.73 L117.19,292.72 L117.37,292.71 L117.55,292.70 L117.74,292.69 L117.92,292.68 L118.10,292.67 L118.29,292.66 L118.47,292.65 L118.65,292.64 L118.84,292.63 L119.02,292.61 L119.20,292.60 L119.39,292.59 L119.57,292.58 L119.75,292.57 L119.94,292.55 L120.12,292.54 L120.31,292.53 L120.49,292.51 L120.67,292.50 L120.86,292.49 L121.04,292.47 L121.22,292.46 L121.41,292.44 L121.59,292.43 L121.77,292.41 L121.96,292.40 L122.14,292.38 L122.32,292.37 L122.51,292.35 L122.69,292.34 L122.87,292.32 L123.06,292.30 L123.24,292.29 L123.43,292.27 L123.61,292.25 L123.79,292.23 L123.98,292.21 L124.16,292.20 L124.34,292.18 L124.53,292.16 L124.71,292.14 L124.89,292.12 L125.08,292.10 L125.26,292.08 L125.44,292.06 L125.63,292.04 L125.81,292.02 L125.99,292.00 L126.18,291.98 L126.36,291.95 L126.54,291.93 L126.73,291.91 L126.91,291.89 L127.10,291.87 L127.28,291.84 L127.46,291.82 L127.65,291.80 L127.83,291.77 L128.01,291.75 L128.20,291.72 L128.38,291.70 L128.56,291.67 L128.75,291.65 L128.93,291.62 L129.11,291.60 L129.30,291.57 L129.48,291.54 L129.66,291.52 L129.85,291.49 L130.03,291.46 L130.21,291.44 L130.40,291.41 L130.58,291.38 L130.77,291.35 L130.95,291.32 L131.13,291.29 L131.32,291.26 L131.50,291.23 L131.68,291.20 L131.87,291.17 L132.05,291.14 L132.23,291.11 L132.42,291.08 L132.60,291.05 L132.78,291.02 L132.97,290.99 L133.15,290.95 L133.33,290.92 L133.52,290.89 L133.70,290.86 L133.88,290.82 L134.07,290.79 L134.25,290.75 L134.44,290.72 L134.62,290.69 L134.80,290.65 L134.99,290.62 L135.17,290.58 L135.35,290.54 L135.54,290.51 L135.72,290.47 L135.90,290.43 L136.09,290.40 L136.27,290.36 L136.45,290.32 L136.64,290.29 L136.82,290.25 L137.00,290.21 L137.19,290.17 L137.37,290.13 L137.55,290.09 L137.74,290.05 L137.92,290.01 L138.11,289.97 L138.29,289.93 L138.47,289.89 L138.66,289.85 L138.84,289.81 L139.02,289.77 L139.21,289.73 L139.39,289.69 L139.57,289.65 L139.76,289.60 L139.94,289.56 L140.12,289.52 L140.31,289.48 L140.49,289.43 L140.67,289.39 L140.86,289.35 L141.04,289.30 L141.22,289.26 L141.41,289.21 L141.59,289.17 L141.78,289.12 L141.96,289.08 L142.14,289.04 L142.33,288.99 L142.51,288.94 L142.69,288.90 L142.88,288.85 L143.06,288.81 L143.24,288.76 L143.43,288.72 L143.61,288.67 L143.79,288.62 L143.98,288.58 L144.16,288.53 L144.34,288.48 L144.53,288.44 L144.71,288.39 L144.89,288.34 L145.08,288.29 L145.26,288.25 L145.45,288.20 L145.63,288.15 L145.81,288.10 L146.00,288.06 L146.18,288.01 L146.36,287.96 L146.55,287.91 L146.73,287.86 L146.91,287.81 L147.10,287.77 L147.28,287.72 L147.46,287.67 L147.65,287.62 L147.83,287.57 L148.01,287.52 L148.20,287.47 L148.38,287.43 L148.56,287.38 L148.75,287.33 L148.93,287.28 L149.12,287.23 L149.30,287.18 L149.48,287.13 L149.67,287.09 L149.85,287.04 L150.03,286.99 L150.22,286.94 L150.40,286.89 L150.58,286.84 L150.77,286.80 L150.95,286.75 L151.13,286.70 L151.32,286.65 L151.50,286.60 L151.68,286.56 L151.87,286.51 L152.05,286.46 L152.23,286.41 L152.42,286.37 L152.60,286.32 L152.78,286.27 L152.97,286.23 L153.15,286.18 L153.34,286.13 L153.52,286.09 L153.70,286.04 L153.89,286.00 L154.07,285.95 L154.25,285.90 L154.44,285.86 L154.62,285.81 L154.80,285.77 L154.99,285.72 L155.17,285.68 L155.35,285.64 L155.54,285.59 L155.72,285.55 L155.90,285.51 L156.09,285.46 L156.27,285.42 L156.46,285.38 L156.64,285.34 L156.82,285.29 L157.01,285.25 L157.19,285.21 L157.37,285.17 L157.56,285.13 L157.74,285.09 L157.92,285.05 L158.11,285.01 L158.29,284.97 L158.47,284.93 L158.66,284.89 L158.84,284.86 L159.02,284.82 L159.21,284.78 L159.39,284.75 L159.57,284.71 L159.76,284.67 L159.94,284.64 L160.12,284.60 L160.31,284.57 L160.49,284.53 L160.68,284.50 L160.86,284.47 L161.04,284.43 L161.23,284.40 L161.41,284.37 L161.59,284.34 L161.78,284.31 L161.96,284.28 L162.14,284.25 L162.33,284.22 L162.51,284.19 L162.69,284.16 L162.88,284.13 L163.06,284.11 L163.24,284.08 L163.43,284.05 L163.61,284.03 L163.80,284.00 L163.98,283.98 L164.16,283.96 L164.35,283.93 L164.53,283.91 L164.71,283.89 L164.90,283.87 L165.08,283.84 L165.26,283.82 L165.45,283.80 L165.63,283.78 L165.81,283.77 L166.00,283.75 L166.18,283.73 L166.36,283.71 L166.55,283.70 L166.73,283.68 L166.91,283.67 L167.10,283.65 L167.28,283.64 L167.47,283.63 L167.65,283.61 L167.83,283.60 L168.02,283.59 L168.20,283.58 L168.38,283.57 L168.57,283.56 L168.75,283.55 L168.93,283.54 L169.12,283.53 L169.30,283.53 L169.48,283.52 L169.67,283.52 L169.85,283.51 L170.03,283.51 L170.22,283.50 L170.40,283.50 L170.58,283.50 L170.77,283.50 L170.95,283.50 L171.13,283.50 L171.32,283.50 L171.50,283.50 L171.69,283.50 L171.87,283.50 L172.05,283.50 L172.24,283.51 L172.42,283.51 L172.60,283.52 L172.79,283.52 L172.97,283.53 L173.15,283.53 L173.34,283.54 L173.52,283.55 L173.70,283.56 L173.89,283.57 L174.07,283.58 L174.25,283.59 L174.44,283.60 L174.62,283.61 L174.81,283.63 L174.99,283.64 L175.17,283.65 L175.36,283.67 L175.54,283.68 L175.72,283.70 L175.91,283.71 L176.09,283.73 L176.27,283.75 L176.46,283.77 L176.64,283.79 L176.82,283.80 L177.01,283.82 L177.19,283.84 L177.37,283.87 L177.56,283.89 L177.74,283.91 L177.92,283.93 L178.11,283.96 L178.29,283.98 L178.48,284.00 L178.66,284.03 L178.84,284.05 L179.03,284.08 L179.21,284.11 L179.39,284.13 L179.58,284.16 L179.76,284.19 L179.94,284.22 L180.13,284.25 L180.31,284.28 L180.49,284.31 L180.68,284.34 L180.86,284.37 L181.04,284.40 L181.23,284.44 L181.41,284.47 L181.59,284.50 L181.78,284.53 L181.96,284.57 L182.15,284.60 L182.33,284.64 L182.51,284.67 L182.70,284.71 L182.88,284.75 L183.06,284.78 L183.25,284.82 L183.43,284.86 L183.61,284.90 L183.80,284.93 L183.98,284.97 L184.16,285.01 L184.35,285.05 L184.53,285.09 L184.71,285.13 L184.90,285.17 L185.08,285.21 L185.26,285.25 L185.45,285.29 L185.63,285.34 L185.82,285.38 L186.00,285.42 L186.18,285.46 L186.37,285.51 L186.55,285.55 L186.73,285.59 L186.92,285.64 L187.10,285.68 L187.28,285.72 L187.47,285.77 L187.65,285.81 L187.83,285.86 L188.02,285.90 L188.20,285.95 L188.38,286.00 L188.57,286.04 L188.75,286.09 L188.93,286.13 L189.12,286.18 L189.30,286.23 L189.49,286.27 L189.67,286.32 L189.85,286.37 L190.04,286.41 L190.22,286.46 L190.40,286.51 L190.59,286.56 L190.77,286.61 L190.95,286.65 L191.14,286.70 L191.32,286.75 L191.50,286.80 L191.69,286.85 L191.87,286.89 L192.05,286.94 L192.24,286.99 L192.42,287.04 L192.60,287.09 L192.79,287.14 L192.97,287.18 L193.16,287.23 L193.34,287.28 L193.52,287.33 L193.71,287.38 L193.89,287.43 L194.07,287.48 L194.26,287.52 L194.44,287.57 L194.62,287.62 L194.81,287.67 L194.99,287.72 L195.17,287.77 L195.36,287.81 L195.54,287.86 L195.72,287.91 L195.91,287.96 L196.09,288.01 L196.27,288.06 L196.46,288.10 L196.64,288.15 L196.83,288.20 L197.01,288.25 L197.19,288.29 L197.38,288.34 L197.56,288.39 L197.74,288.44 L197.93,288.48 L198.11,288.53 L198.29,288.58 L198.48,288.62 L198.66,288.67 L198.84,288.72 L199.03,288.76 L199.21,288.81 L199.39,288.85 L199.58,288.90 L199.76,288.95 L199.94,288.99 L200.13,289.04 L200.31,289.08 L200.50,289.13 L200.68,289.17 L200.86,289.21 L201.05,289.26 L201.23,289.30 L201.41,289.35 L201.60,289.39 L201.78,289.43 L201.96,289.48 L202.15,289.52 L202.33,289.56 L202.51,289.60 L202.70,289.65 L202.88,289.69 L203.06,289.73 L203.25,289.77 L203.43,289.81 L203.61,289.85 L203.80,289.89 L203.98,289.93 L204.17,289.97 L204.35,290.01 L204.53,290.05 L204.72,290.09 L204.90,290.13 L205.08,290.17 L205.27,290.21 L205.45,290.25 L205.63,290.29 L205.82,290.32 L206.00,290.36 L206.18,290.40 L206.37,290.43 L206.55,290.47 L206.73,290.51 L206.92,290.54 L207.10,290.58 L207.28,290.62 L207.47,290.65 L207.65,290.69 L207.84,290.72 L208.02,290.75 L208.20,290.79 L208.39,290.82 L208.57,290.86 L208.75,290.89 L208.94,290.92 L209.12,290.95 L209.30,290.99 L209.49,291.02 L209.67,291.05 L209.85,291.08 L210.04,291.11 L210.22,291.14 L210.40,291.17 L210.59,291.20 L210.77,291.23 L210.95,291.26 L211.14,291.29 L211.32,291.32 L211.51,291.35 L211.69,291.38 L211.87,291.41 L212.06,291.43 L212.24,291.46 L212.42,291.49 L212.61,291.52 L212.79,291.54 L212.97,291.57 L213.16,291.60 L213.34,291.62 L213.52,291.65 L213.71,291.67 L213.89,291.70 L214.07,291.72 L214.26,291.74 L214.44,291.77 L214.62,291.79 L214.81,291.82 L214.99,291.84 L215.18,291.86 L215.36,291.88 L215.54,291.91 L215.73,291.93 L215.91,291.95 L216.09,291.97 L216.28,291.99 L216.46,292.01 L216.64,292.03 L216.83,292.05 L217.01,292.07 L217.19,292.09 L217.38,292.11 L217.56,292.13 L217.74,292.15 L217.93,292.17 L218.11,292.19 L218.29,292.20 L218.48,292.22 L218.66,292.24 L218.84,292.26 L219.03,292.27 L219.21,292.29 L219.40,292.31 L219.58,292.32 L219.76,292.34 L219.95,292.35 L220.13,292.37 L220.31,292.38 L220.50,292.40 L220.68,292.41 L220.86,292.42 L221.05,292.44 L221.23,292.45 L221.41,292.46 L221.60,292.48 L221.78,292.49 L221.96,292.50 L222.15,292.51 L222.33,292.52 L222.52,292.54 L222.70,292.55 L222.88,292.56 L223.07,292.57 L223.25,292.58 L223.43,292.58 L223.62,292.59 L223.80,292.60 L223.98,292.61 L224.17,292.62 L224.35,292.62 L224.53,292.63 L224.72,292.64 L224.90,292.64 L225.08,292.65 L225.27,292.65 L225.45,292.65 L225.63,292.66 L225.82,292.66 L226.00,292.66 L226.19,292.66 L226.37,292.66 L226.55,292.66 L226.74,292.66 L226.92,292.65 L227.10,292.65 L227.29,292.64 L227.47,292.63 L227.65,292.62 L227.84,292.61 L228.02,292.60 L228.20,292.58 L228.39,292.57 L228.57,292.54 L228.75,292.52 L228.94,292.49 L229.12,292.45 L229.30,292.40 L229.49,292.33 L229.67,292.24 L229.86,292.10 L230.04,291.91 L230.22,291.62 L230.41,291.20 L230.59,290.60 L230.77,289.78 L230.96,288.67 L231.14,287.25 L231.32,285.50 L231.51,283.43 L231.69,281.13 L231.87,278.71 L232.06,276.33 L232.24,274.19 L232.42,272.48 L232.61,271.38 L232.79,271.01 L232.97,271.39 L233.16,272.51 L233.34,274.22 L233.53,276.37 L233.71,278.76 L233.89,281.20 L234.08,283.51 L234.26,285.58 L234.44,287.34 L234.63,288.77 L234.81,289.89 L234.99,290.73 L235.18,291.33 L235.36,291.76 L235.54,292.06 L235.73,292.27 L235.91,292.42 L236.09,292.52 L236.28,292.60 L236.46,292.66 L236.64,292.71 L236.83,292.75 L237.01,292.79 L237.19,292.82 L237.38,292.85 L237.56,292.88 L237.75,292.90 L237.93,292.93 L238.11,292.95 L238.30,292.97 L238.48,292.99 L238.66,293.00 L238.85,293.02 L239.03,293.03 L239.21,293.05 L239.40,293.06 L239.58,293.07 L239.76,293.08 L239.95,293.09 L240.13,293.10 L240.31,293.11 L240.50,293.12 L240.68,293.13 L240.87,293.14 L241.05,293.14 L241.23,293.15 L241.42,293.16 L241.60,293.16 L241.78,293.17 L241.97,293.18 L242.15,293.18 L242.33,293.19 L242.52,293.19 L242.70,293.20 L242.88,293.20 L243.07,293.21 L243.25,293.21 L243.43,293.22 L243.62,293.22 L243.80,293.22 L243.98,293.23 L244.17,293.23 L244.35,293.23 L244.54,293.24 L244.72,293.24 L244.90,293.24 L245.09,293.25 L245.27,293.25 L245.45,293.25 L245.64,293.25 L245.82,293.26 L246.00,293.26 L246.19,293.26 L246.37,293.26 L246.55,293.27 L246.74,293.27 L246.92,293.27 L247.10,293.27 L247.29,293.27 L247.47,293.28 L247.65,293.28 L247.84,293.28 L248.02,293.28 L248.21,293.28 L248.39,293.29 L248.57,293.29 L248.76,293.29 L248.94,293.29 L249.12,293.29 L249.31,293.29 L249.49,293.29 L249.67,293.30 L249.86,293.30 L250.04,293.30 L250.22,293.30 L250.41,293.30 L250.59,293.30 L250.77,293.30 L250.96,293.30 L251.14,293.31 L251.32,293.31 L251.51,293.31 L251.69,293.31 L251.88,293.31 L252.06,293.31 L252.24,293.31 L252.43,293.31 L252.61,293.31 L252.79,293.31 L252.98,293.31 L253.16,293.31 L253.34,293.32 L253.53,293.32 L253.71,293.32 L253.89,293.32 L254.08,293.32 L254.26,293.32 L254.44,293.32 L254.63,293.32 L254.81,293.32 L254.99,293.32 L255.18,293.32 L255.36,293.32 L255.55,293.32 L255.73,293.32 L255.91,293.32 L256.10,293.32 L256.28,293.33 L256.46,293.33 L256.65,293.33 L256.83,293.33 L257.01,293.33 L257.20,293.33 L257.38,293.33 L257.56,293.33 L257.75,293.33 L257.93,293.33 L258.11,293.33 L258.30,293.33 L258.48,293.33 L258.66,293.33 L258.85,293.33 L259.03,293.33 L259.22,293.33 L259.40,293.33 L259.58,293.33 L259.77,293.33 L259.95,293.33 L260.13,293.33 L260.32,293.33 L260.50,293.33 L260.68,293.33 L260.87,293.33 L261.05,293.33 L261.23,293.34 L261.42,293.34 L261.60,293.34 L261.78,293.34 L261.97,293.34 L262.15,293.34 L262.33,293.34 L262.52,293.34 L262.70,293.34 L262.88,293.34 L263.07,293.34 L263.25,293.34 L263.44,293.34 L263.62,293.34 L263.80,293.34 L263.99,293.34 L264.17,293.34 L264.35,293.34 L264.54,293.34 L264.72,293.34 L264.90,293.34 L265.09,293.34 L265.27,293.34 L265.45,293.34 L265.64,293.34 L265.82,293.34 L266.00,293.34 L266.19,293.34 L266.37,293.34 L266.56,293.34 L266.74,293.34 L266.92,293.34 L267.11,293.34 L267.29,293.34 L267.47,293.34 L267.66,293.34 L267.84,293.34 L268.02,293.34 L268.21,293.34 L268.39,293.34 L268.57,293.34 L268.76,293.34 L268.94,293.34 L269.12,293.34 L269.31,293.34 L269.49,293.34 L269.67,293.34 L269.86,293.34 L270.04,293.34 L270.23,293.34 L270.41,293.34 L270.59,293.34 L270.78,293.34 L270.96,293.34 L271.14,293.34 L271.33,293.34 L271.51,293.34 L271.69,293.34 L271.88,293.34 L272.06,293.34 L272.24,293.34 L272.43,293.34 L272.61,293.34 L272.79,293.34 L272.98,293.34 L273.16,293.34 L273.34,293.34 L273.53,293.34 L273.71,293.34 L273.89,293.34 L274.08,293.34 L274.26,293.34 L274.45,293.34 L274.63,293.34 L274.81,293.34 L275.00,293.34 L275.18,293.34 L275.36,293.34 L275.55,293.34 L275.73,293.34 L275.91,293.34 L276.10,293.34 L276.28,293.34 L276.46,293.34 L276.65,293.34 L276.83,293.34 L277.01,293.34 L277.20,293.34 L277.38,293.34 L277.57,293.34 L277.75,293.34 L277.93,293.35 L278.12,293.35 L278.30,293.35 L278.48,293.35 L278.67,293.35 L278.85,293.35 L279.03,293.35 L279.22,293.35 L279.40,293.35 L279.58,293.35 L279.77,293.35 L279.95,293.35 L280.13,293.35 L280.32,293.35 L280.50,293.35 L280.68,293.35 L280.87,293.35 L281.05,293.35 L281.24,293.35 L281.42,293.35 L281.60,293.35 L281.79,293.35 L281.97,293.35 L282.15,293.35 L282.34,293.35 L282.52,293.35 L282.70,293.35 L282.89,293.35 L283.07,293.35 L283.25,293.35 L283.44,293.35 L283.62,293.35 L283.80,293.35 L283.99,293.35 L284.17,293.35 L284.35,293.35 L284.54,293.35 L284.72,293.35 L284.91,293.35 L285.09,293.35 L285.27,293.35 L285.46,293.35 L285.64,293.35 L285.82,293.35 L286.01,293.35 L286.19,293.35 L286.37,293.35 L286.56,293.35 L286.74,293.35 L286.92,293.35 L287.11,293.35 L287.29,293.35 L287.47,293.35 L287.66,293.35 L287.84,293.35 L288.02,293.35 L288.21,293.35 L288.39,293.35 L288.58,293.35 L288.76,293.35 L288.94,293.35 L289.13,293.35 L289.31,293.35 L289.49,293.35 L289.68,293.35 L289.86,293.35 L290.04,293.35 L290.23,293.35 L290.41,293.35 L290.59,293.35 L290.78,293.35 L290.96,293.35 L291.14,293.35 L291.33,293.35 L291.51,293.35 L291.69,293.35 L291.88,293.35 L292.06,293.35 L292.25,293.35 L292.43,293.35 L292.61,293.35 L292.80,293.35 L292.98,293.35 L293.16,293.35 L293.35,293.35 L293.53,293.35 L293.71,293.35 L293.90,293.35 L294.08,293.35 L294.26,293.35 L294.45,293.35 L294.63,293.35 L294.81,293.35 L295.00,293.35 L295.18,293.35 L295.36,293.35 L295.55,293.35 L295.73,293.35 L295.92,293.35 L296.10,293.35 L296.28,293.35 L296.47,293.35 L296.65,293.35 L296.83,293.35 L297.02,293.35 L297.20,293.35 L297.38,293.35 L297.57,293.35 L297.75,293.35" fill="none" stroke="#0072bd" stroke-width="1.35" stroke-linejoin="round" clip-path="url(#ca3)"/>
<text x="261.20" y="239.75" text-anchor="end" font-size="11.35" fill="#262626" font-family='"Liberation Sans", sans-serif' >/6! = 14 ps</text>
<text x="201.72" y="245.45" font-size="9.6" fill="#262626" font-family='"Liberation Sans", sans-serif' >6</text>
<text x="195.22" y="239.75" class="s" font-size="11.35" fill="#262626" font-family='"Liberation Serif", serif' font-style="italic">β</text>
<text x="261.90" y="233.85" font-size="9.8" fill="#262626" font-family='"Liberation Sans", sans-serif' >6</text>
<text x="270.00" y="239.75" font-size="11.35" fill="#262626" font-family='"Liberation Sans", sans-serif' >km</text>
<text x="285.60" y="234.05" font-size="9.1" fill="#262626" font-family='"Liberation Sans", sans-serif' >-1</text>
<text x="243.30" y="259.55" font-size="11.35" fill="#262626" font-family='"Liberation Sans", sans-serif' >1/</text>
<text x="252.90" y="259.55" class="s" font-size="11.35" fill="#262626" font-family='"Liberation Serif", serif' font-style="italic">ϵ</text>
<text x="293.30" y="259.55" text-anchor="end" font-size="11.35" fill="#262626" font-family='"Liberation Sans", sans-serif' >= 2.14</text>
<line x1="41.30" y1="296.45" x2="297.45" y2="296.45" stroke="#333333" stroke-width="0.75" />
<line x1="41.30" y1="296.45" x2="41.30" y2="366.35" stroke="#333333" stroke-width="0.75" />
<line x1="297.45" y1="296.45" x2="297.45" y2="366.35" stroke="#333333" stroke-width="0.75" />
<line x1="59.20" y1="296.45" x2="59.20" y2="299.25" stroke="#333333" stroke-width="0.75" />
<line x1="59.20" y1="366.35" x2="59.20" y2="363.55" stroke="#333333" stroke-width="0.75" />
<line x1="95.90" y1="296.45" x2="95.90" y2="299.25" stroke="#333333" stroke-width="0.75" />
<line x1="95.90" y1="366.35" x2="95.90" y2="363.55" stroke="#333333" stroke-width="0.75" />
<line x1="132.60" y1="296.45" x2="132.60" y2="299.25" stroke="#333333" stroke-width="0.75" />
<line x1="132.60" y1="366.35" x2="132.60" y2="363.55" stroke="#333333" stroke-width="0.75" />
<line x1="169.30" y1="296.45" x2="169.30" y2="299.25" stroke="#333333" stroke-width="0.75" />
<line x1="169.30" y1="366.35" x2="169.30" y2="363.55" stroke="#333333" stroke-width="0.75" />
<line x1="206.00" y1="296.45" x2="206.00" y2="299.25" stroke="#333333" stroke-width="0.75" />
<line x1="206.00" y1="366.35" x2="206.00" y2="363.55" stroke="#333333" stroke-width="0.75" />
<line x1="242.70" y1="296.45" x2="242.70" y2="299.25" stroke="#333333" stroke-width="0.75" />
<line x1="242.70" y1="366.35" x2="242.70" y2="363.55" stroke="#333333" stroke-width="0.75" />
<line x1="279.40" y1="296.45" x2="279.40" y2="299.25" stroke="#333333" stroke-width="0.75" />
<line x1="279.40" y1="366.35" x2="279.40" y2="363.55" stroke="#333333" stroke-width="0.75" />
<line x1="41.30" y1="366.35" x2="44.10" y2="366.35" stroke="#333333" stroke-width="0.75" />
<line x1="297.45" y1="366.35" x2="294.65" y2="366.35" stroke="#333333" stroke-width="0.75" />
<text x="37.60" y="370.80" text-anchor="end" font-size="11" fill="#262626" font-family='"Liberation Sans", sans-serif' >0</text>
<line x1="41.30" y1="316.10" x2="44.10" y2="316.10" stroke="#333333" stroke-width="0.75" />
<line x1="297.45" y1="316.10" x2="294.65" y2="316.10" stroke="#333333" stroke-width="0.75" />
<text x="37.60" y="320.55" text-anchor="end" font-size="11" fill="#262626" font-family='"Liberation Sans", sans-serif' >5</text>
<clipPath id="ca4"><rect x="41.3" y="295.45" width="256.15" height="71.40000000000003"/></clipPath>
<path d="M40.85,366.34 L41.03,366.34 L41.22,366.34 L41.40,366.34 L41.58,366.34 L41.77,366.34 L41.95,366.34 L42.13,366.34 L42.32,366.34 L42.50,366.34 L42.68,366.34 L42.87,366.34 L43.05,366.34 L43.24,366.34 L43.42,366.34 L43.60,366.34 L43.79,366.34 L43.97,366.34 L44.15,366.34 L44.34,366.34 L44.52,366.34 L44.70,366.34 L44.89,366.34 L45.07,366.34 L45.25,366.34 L45.44,366.34 L45.62,366.34 L45.80,366.34 L45.99,366.34 L46.17,366.34 L46.36,366.34 L46.54,366.34 L46.72,366.34 L46.91,366.34 L47.09,366.34 L47.27,366.34 L47.46,366.34 L47.64,366.34 L47.82,366.34 L48.01,366.34 L48.19,366.34 L48.37,366.34 L48.56,366.34 L48.74,366.34 L48.92,366.34 L49.11,366.34 L49.29,366.34 L49.47,366.34 L49.66,366.34 L49.84,366.34 L50.03,366.34 L50.21,366.34 L50.39,366.34 L50.58,366.34 L50.76,366.34 L50.94,366.34 L51.13,366.34 L51.31,366.34 L51.49,366.34 L51.68,366.34 L51.86,366.34 L52.04,366.34 L52.23,366.34 L52.41,366.34 L52.59,366.34 L52.78,366.34 L52.96,366.34 L53.14,366.34 L53.33,366.34 L53.51,366.34 L53.70,366.34 L53.88,366.34 L54.06,366.34 L54.25,366.34 L54.43,366.34 L54.61,366.34 L54.80,366.34 L54.98,366.34 L55.16,366.34 L55.35,366.34 L55.53,366.34 L55.71,366.34 L55.90,366.34 L56.08,366.34 L56.26,366.34 L56.45,366.34 L56.63,366.34 L56.81,366.34 L57.00,366.34 L57.18,366.34 L57.37,366.34 L57.55,366.34 L57.73,366.34 L57.92,366.34 L58.10,366.34 L58.28,366.34 L58.47,366.34 L58.65,366.34 L58.83,366.34 L59.02,366.34 L59.20,366.34 L59.38,366.34 L59.57,366.34 L59.75,366.34 L59.93,366.34 L60.12,366.34 L60.30,366.34 L60.48,366.34 L60.67,366.34 L60.85,366.34 L61.03,366.34 L61.22,366.34 L61.40,366.34 L61.59,366.34 L61.77,366.34 L61.95,366.34 L62.14,366.34 L62.32,366.34 L62.50,366.34 L62.69,366.34 L62.87,366.34 L63.05,366.34 L63.24,366.34 L63.42,366.34 L63.60,366.34 L63.79,366.34 L63.97,366.34 L64.15,366.34 L64.34,366.34 L64.52,366.34 L64.70,366.34 L64.89,366.34 L65.07,366.34 L65.26,366.34 L65.44,366.34 L65.62,366.34 L65.81,366.34 L65.99,366.34 L66.17,366.34 L66.36,366.34 L66.54,366.34 L66.72,366.34 L66.91,366.34 L67.09,366.34 L67.27,366.34 L67.46,366.34 L67.64,366.34 L67.82,366.34 L68.01,366.34 L68.19,366.34 L68.38,366.34 L68.56,366.34 L68.74,366.33 L68.93,366.33 L69.11,366.33 L69.29,366.33 L69.48,366.33 L69.66,366.33 L69.84,366.33 L70.03,366.33 L70.21,366.33 L70.39,366.33 L70.58,366.33 L70.76,366.33 L70.94,366.33 L71.13,366.33 L71.31,366.33 L71.49,366.33 L71.68,366.33 L71.86,366.33 L72.05,366.33 L72.23,366.33 L72.41,366.33 L72.60,366.33 L72.78,366.33 L72.96,366.33 L73.15,366.33 L73.33,366.33 L73.51,366.33 L73.70,366.33 L73.88,366.33 L74.06,366.33 L74.25,366.33 L74.43,366.33 L74.61,366.33 L74.80,366.33 L74.98,366.33 L75.16,366.33 L75.35,366.33 L75.53,366.33 L75.72,366.33 L75.90,366.33 L76.08,366.33 L76.27,366.33 L76.45,366.33 L76.63,366.33 L76.82,366.32 L77.00,366.32 L77.18,366.32 L77.37,366.32 L77.55,366.32 L77.73,366.32 L77.92,366.32 L78.10,366.32 L78.28,366.32 L78.47,366.32 L78.65,366.32 L78.83,366.32 L79.02,366.32 L79.20,366.32 L79.38,366.32 L79.57,366.32 L79.75,366.32 L79.94,366.32 L80.12,366.32 L80.30,366.32 L80.49,366.32 L80.67,366.32 L80.85,366.32 L81.04,366.31 L81.22,366.31 L81.40,366.31 L81.59,366.31 L81.77,366.31 L81.95,366.31 L82.14,366.31 L82.32,366.31 L82.50,366.31 L82.69,366.31 L82.87,366.31 L83.06,366.31 L83.24,366.31 L83.42,366.31 L83.61,366.31 L83.79,366.30 L83.97,366.30 L84.16,366.30 L84.34,366.30 L84.52,366.30 L84.71,366.30 L84.89,366.30 L85.07,366.30 L85.26,366.30 L85.44,366.30 L85.62,366.30 L85.81,366.29 L85.99,366.29 L86.17,366.29 L86.36,366.29 L86.54,366.29 L86.73,366.29 L86.91,366.29 L87.09,366.29 L87.28,366.29 L87.46,366.28 L87.64,366.28 L87.83,366.28 L88.01,366.28 L88.19,366.28 L88.38,366.28 L88.56,366.28 L88.74,366.27 L88.93,366.27 L89.11,366.27 L89.29,366.27 L89.48,366.27 L89.66,366.27 L89.84,366.26 L90.03,366.26 L90.21,366.26 L90.40,366.26 L90.58,366.26 L90.76,366.25 L90.95,366.25 L91.13,366.25 L91.31,366.25 L91.50,366.24 L91.68,366.24 L91.86,366.24 L92.05,366.24 L92.23,366.23 L92.41,366.23 L92.60,366.23 L92.78,366.22 L92.96,366.22 L93.15,366.22 L93.33,366.21 L93.51,366.21 L93.70,366.21 L93.88,366.20 L94.07,366.20 L94.25,366.19 L94.43,366.19 L94.62,366.18 L94.80,366.18 L94.98,366.18 L95.17,366.17 L95.35,366.16 L95.53,366.16 L95.72,366.15 L95.90,366.15 L96.08,366.14 L96.27,366.13 L96.45,366.13 L96.63,366.12 L96.82,366.11 L97.00,366.11 L97.18,366.10 L97.37,366.09 L97.55,366.08 L97.74,366.07 L97.92,366.06 L98.10,366.05 L98.29,366.04 L98.47,366.03 L98.65,366.01 L98.84,366.00 L99.02,365.99 L99.20,365.97 L99.39,365.96 L99.57,365.94 L99.75,365.92 L99.94,365.90 L100.12,365.88 L100.30,365.86 L100.49,365.84 L100.67,365.82 L100.85,365.79 L101.04,365.76 L101.22,365.73 L101.41,365.70 L101.59,365.66 L101.77,365.62 L101.96,365.58 L102.14,365.54 L102.32,365.49 L102.51,365.43 L102.69,365.37 L102.87,365.31 L103.06,365.23 L103.24,365.15 L103.42,365.06 L103.61,364.94 L103.79,364.80 L103.97,364.63 L104.16,364.38 L104.34,364.05 L104.52,363.56 L104.71,362.86 L104.89,361.85 L105.08,360.42 L105.26,358.45 L105.44,355.82 L105.63,352.44 L105.81,348.28 L105.99,343.39 L106.18,337.93 L106.36,332.19 L106.54,326.55 L106.73,321.47 L106.91,317.42 L107.09,314.80 L107.28,313.89 L107.46,314.79 L107.64,317.40 L107.83,321.45 L108.01,326.52 L108.19,332.15 L108.38,337.88 L108.56,343.33 L108.75,348.21 L108.93,352.36 L109.11,355.73 L109.30,358.35 L109.48,360.31 L109.66,361.74 L109.85,362.74 L110.03,363.43 L110.21,363.90 L110.40,364.23 L110.58,364.46 L110.76,364.63 L110.95,364.76 L111.13,364.87 L111.31,364.95 L111.50,365.03 L111.68,365.09 L111.86,365.15 L112.05,365.20 L112.23,365.24 L112.42,365.28 L112.60,365.32 L112.78,365.35 L112.97,365.38 L113.15,365.40 L113.33,365.42 L113.52,365.44 L113.70,365.46 L113.88,365.48 L114.07,365.49 L114.25,365.50 L114.43,365.51 L114.62,365.52 L114.80,365.53 L114.98,365.53 L115.17,365.54 L115.35,365.54 L115.53,365.55 L115.72,365.55 L115.90,365.55 L116.09,365.55 L116.27,365.55 L116.45,365.55 L116.64,365.55 L116.82,365.54 L117.00,365.54 L117.19,365.54 L117.37,365.53 L117.55,365.53 L117.74,365.52 L117.92,365.52 L118.10,365.51 L118.29,365.50 L118.47,365.50 L118.65,365.49 L118.84,365.48 L119.02,365.47 L119.20,365.46 L119.39,365.45 L119.57,365.44 L119.75,365.43 L119.94,365.42 L120.12,365.41 L120.31,365.40 L120.49,365.39 L120.67,365.38 L120.86,365.37 L121.04,365.35 L121.22,365.34 L121.41,365.33 L121.59,365.31 L121.77,365.30 L121.96,365.29 L122.14,365.27 L122.32,365.26 L122.51,365.24 L122.69,365.23 L122.87,365.21 L123.06,365.19 L123.24,365.18 L123.43,365.16 L123.61,365.14 L123.79,365.13 L123.98,365.11 L124.16,365.09 L124.34,365.07 L124.53,365.05 L124.71,365.04 L124.89,365.02 L125.08,365.00 L125.26,364.98 L125.44,364.96 L125.63,364.94 L125.81,364.92 L125.99,364.90 L126.18,364.87 L126.36,364.85 L126.54,364.83 L126.73,364.81 L126.91,364.79 L127.10,364.76 L127.28,364.74 L127.46,364.72 L127.65,364.69 L127.83,364.67 L128.01,364.65 L128.20,364.62 L128.38,364.60 L128.56,364.57 L128.75,364.55 L128.93,364.52 L129.11,364.50 L129.30,364.47 L129.48,364.44 L129.66,364.42 L129.85,364.39 L130.03,364.36 L130.21,364.33 L130.40,364.31 L130.58,364.28 L130.77,364.25 L130.95,364.22 L131.13,364.19 L131.32,364.16 L131.50,364.13 L131.68,364.10 L131.87,364.07 L132.05,364.04 L132.23,364.01 L132.42,363.98 L132.60,363.95 L132.78,363.92 L132.97,363.88 L133.15,363.85 L133.33,363.82 L133.52,363.78 L133.70,363.75 L133.88,363.72 L134.07,363.68 L134.25,363.65 L134.44,363.62 L134.62,363.58 L134.80,363.55 L134.99,363.51 L135.17,363.48 L135.35,363.44 L135.54,363.40 L135.72,363.37 L135.90,363.33 L136.09,363.29 L136.27,363.26 L136.45,363.22 L136.64,363.18 L136.82,363.14 L137.00,363.10 L137.19,363.07 L137.37,363.03 L137.55,362.99 L137.74,362.95 L137.92,362.91 L138.11,362.87 L138.29,362.83 L138.47,362.79 L138.66,362.75 L138.84,362.71 L139.02,362.67 L139.21,362.62 L139.39,362.58 L139.57,362.54 L139.76,362.50 L139.94,362.46 L140.12,362.42 L140.31,362.37 L140.49,362.33 L140.67,362.29 L140.86,362.24 L141.04,362.20 L141.22,362.16 L141.41,362.11 L141.59,362.07 L141.78,362.02 L141.96,361.98 L142.14,361.93 L142.33,361.89 L142.51,361.85 L142.69,361.80 L142.88,361.75 L143.06,361.71 L143.24,361.66 L143.43,361.62 L143.61,361.57 L143.79,361.53 L143.98,361.48 L144.16,361.43 L144.34,361.39 L144.53,361.34 L144.71,361.29 L144.89,361.25 L145.08,361.20 L145.26,361.15 L145.45,361.11 L145.63,361.06 L145.81,361.01 L146.00,360.96 L146.18,360.92 L146.36,360.87 L146.55,360.82 L146.73,360.77 L146.91,360.73 L147.10,360.68 L147.28,360.63 L147.46,360.58 L147.65,360.53 L147.83,360.49 L148.01,360.44 L148.20,360.39 L148.38,360.34 L148.56,360.30 L148.75,360.25 L148.93,360.20 L149.12,360.15 L149.30,360.10 L149.48,360.06 L149.67,360.01 L149.85,359.96 L150.03,359.91 L150.22,359.86 L150.40,359.82 L150.58,359.77 L150.77,359.72 L150.95,359.68 L151.13,359.63 L151.32,359.58 L151.50,359.53 L151.68,359.49 L151.87,359.44 L152.05,359.39 L152.23,359.35 L152.42,359.30 L152.60,359.25 L152.78,359.21 L152.97,359.16 L153.15,359.12 L153.34,359.07 L153.52,359.03 L153.70,358.98 L153.89,358.94 L154.07,358.89 L154.25,358.85 L154.44,358.80 L154.62,358.76 L154.80,358.71 L154.99,358.67 L155.17,358.63 L155.35,358.58 L155.54,358.54 L155.72,358.50 L155.90,358.46 L156.09,358.41 L156.27,358.37 L156.46,358.33 L156.64,358.29 L156.82,358.25 L157.01,358.21 L157.19,358.17 L157.37,358.13 L157.56,358.09 L157.74,358.05 L157.92,358.01 L158.11,357.97 L158.29,357.93 L158.47,357.90 L158.66,357.86 L158.84,357.82 L159.02,357.78 L159.21,357.75 L159.39,357.71 L159.57,357.68 L159.76,357.64 L159.94,357.61 L160.12,357.57 L160.31,357.54 L160.49,357.51 L160.68,357.47 L160.86,357.44 L161.04,357.41 L161.23,357.38 L161.41,357.35 L161.59,357.32 L161.78,357.29 L161.96,357.26 L162.14,357.23 L162.33,357.20 L162.51,357.17 L162.69,357.14 L162.88,357.12 L163.06,357.09 L163.24,357.06 L163.43,357.04 L163.61,357.01 L163.80,356.99 L163.98,356.96 L164.16,356.94 L164.35,356.92 L164.53,356.90 L164.71,356.87 L164.90,356.85 L165.08,356.83 L165.26,356.81 L165.45,356.79 L165.63,356.77 L165.81,356.76 L166.00,356.74 L166.18,356.72 L166.36,356.71 L166.55,356.69 L166.73,356.67 L166.91,356.66 L167.10,356.65 L167.28,356.63 L167.47,356.62 L167.65,356.61 L167.83,356.60 L168.02,356.58 L168.20,356.57 L168.38,356.56 L168.57,356.55 L168.75,356.55 L168.93,356.54 L169.12,356.53 L169.30,356.52 L169.48,356.52 L169.67,356.51 L169.85,356.51 L170.03,356.50 L170.22,356.50 L170.40,356.50 L170.58,356.50 L170.77,356.49 L170.95,356.49 L171.13,356.49 L171.32,356.49 L171.50,356.49 L171.69,356.50 L171.87,356.50 L172.05,356.50 L172.24,356.50 L172.42,356.51 L172.60,356.51 L172.79,356.52 L172.97,356.52 L173.15,356.53 L173.34,356.54 L173.52,356.55 L173.70,356.56 L173.89,356.56 L174.07,356.57 L174.25,356.58 L174.44,356.60 L174.62,356.61 L174.81,356.62 L174.99,356.63 L175.17,356.65 L175.36,356.66 L175.54,356.67 L175.72,356.69 L175.91,356.71 L176.09,356.72 L176.27,356.74 L176.46,356.76 L176.64,356.78 L176.82,356.79 L177.01,356.81 L177.19,356.83 L177.37,356.85 L177.56,356.88 L177.74,356.90 L177.92,356.92 L178.11,356.94 L178.29,356.97 L178.48,356.99 L178.66,357.01 L178.84,357.04 L179.03,357.06 L179.21,357.09 L179.39,357.12 L179.58,357.14 L179.76,357.17 L179.94,357.20 L180.13,357.23 L180.31,357.26 L180.49,357.29 L180.68,357.32 L180.86,357.35 L181.04,357.38 L181.23,357.41 L181.41,357.44 L181.59,357.47 L181.78,357.51 L181.96,357.54 L182.15,357.57 L182.33,357.61 L182.51,357.64 L182.70,357.68 L182.88,357.71 L183.06,357.75 L183.25,357.79 L183.43,357.82 L183.61,357.86 L183.80,357.90 L183.98,357.93 L184.16,357.97 L184.35,358.01 L184.53,358.05 L184.71,358.09 L184.90,358.13 L185.08,358.17 L185.26,358.21 L185.45,358.25 L185.63,358.29 L185.82,358.33 L186.00,358.37 L186.18,358.42 L186.37,358.46 L186.55,358.50 L186.73,358.54 L186.92,358.59 L187.10,358.63 L187.28,358.67 L187.47,358.72 L187.65,358.76 L187.83,358.80 L188.02,358.85 L188.20,358.89 L188.38,358.94 L188.57,358.98 L188.75,359.03 L188.93,359.07 L189.12,359.12 L189.30,359.16 L189.49,359.21 L189.67,359.26 L189.85,359.30 L190.04,359.35 L190.22,359.40 L190.40,359.44 L190.59,359.49 L190.77,359.54 L190.95,359.58 L191.14,359.63 L191.32,359.68 L191.50,359.73 L191.69,359.77 L191.87,359.82 L192.05,359.87 L192.24,359.92 L192.42,359.96 L192.60,360.01 L192.79,360.06 L192.97,360.11 L193.16,360.15 L193.34,360.20 L193.52,360.25 L193.71,360.30 L193.89,360.35 L194.07,360.39 L194.26,360.44 L194.44,360.49 L194.62,360.54 L194.81,360.59 L194.99,360.63 L195.17,360.68 L195.36,360.73 L195.54,360.78 L195.72,360.82 L195.91,360.87 L196.09,360.92 L196.27,360.97 L196.46,361.01 L196.64,361.06 L196.83,361.11 L197.01,361.16 L197.19,361.20 L197.38,361.25 L197.56,361.30 L197.74,361.34 L197.93,361.39 L198.11,361.44 L198.29,361.48 L198.48,361.53 L198.66,361.58 L198.84,361.62 L199.03,361.67 L199.21,361.71 L199.39,361.76 L199.58,361.80 L199.76,361.85 L199.94,361.89 L200.13,361.94 L200.31,361.98 L200.50,362.03 L200.68,362.07 L200.86,362.12 L201.05,362.16 L201.23,362.20 L201.41,362.25 L201.60,362.29 L201.78,362.33 L201.96,362.38 L202.15,362.42 L202.33,362.46 L202.51,362.50 L202.70,362.55 L202.88,362.59 L203.06,362.63 L203.25,362.67 L203.43,362.71 L203.61,362.75 L203.80,362.79 L203.98,362.83 L204.17,362.87 L204.35,362.91 L204.53,362.95 L204.72,362.99 L204.90,363.03 L205.08,363.07 L205.27,363.11 L205.45,363.15 L205.63,363.19 L205.82,363.22 L206.00,363.26 L206.18,363.30 L206.37,363.34 L206.55,363.37 L206.73,363.41 L206.92,363.44 L207.10,363.48 L207.28,363.52 L207.47,363.55 L207.65,363.59 L207.84,363.62 L208.02,363.66 L208.20,363.69 L208.39,363.72 L208.57,363.76 L208.75,363.79 L208.94,363.82 L209.12,363.86 L209.30,363.89 L209.49,363.92 L209.67,363.95 L209.85,363.98 L210.04,364.01 L210.22,364.05 L210.40,364.08 L210.59,364.11 L210.77,364.14 L210.95,364.17 L211.14,364.20 L211.32,364.22 L211.51,364.25 L211.69,364.28 L211.87,364.31 L212.06,364.34 L212.24,364.37 L212.42,364.39 L212.61,364.42 L212.79,364.45 L212.97,364.47 L213.16,364.50 L213.34,364.52 L213.52,364.55 L213.71,364.58 L213.89,364.60 L214.07,364.62 L214.26,364.65 L214.44,364.67 L214.62,364.70 L214.81,364.72 L214.99,364.74 L215.18,364.76 L215.36,364.79 L215.54,364.81 L215.73,364.83 L215.91,364.85 L216.09,364.87 L216.28,364.89 L216.46,364.91 L216.64,364.93 L216.83,364.95 L217.01,364.97 L217.19,364.99 L217.38,365.01 L217.56,365.03 L217.74,365.05 L217.93,365.06 L218.11,365.08 L218.29,365.10 L218.48,365.11 L218.66,365.13 L218.84,365.15 L219.03,365.16 L219.21,365.18 L219.40,365.19 L219.58,365.20 L219.76,365.22 L219.95,365.23 L220.13,365.24 L220.31,365.25 L220.50,365.27 L220.68,365.28 L220.86,365.29 L221.05,365.30 L221.23,365.31 L221.41,365.31 L221.60,365.32 L221.78,365.33 L221.96,365.34 L222.15,365.34 L222.33,365.35 L222.52,365.35 L222.70,365.35 L222.88,365.35 L223.07,365.35 L223.25,365.35 L223.43,365.35 L223.62,365.34 L223.80,365.34 L223.98,365.33 L224.17,365.32 L224.35,365.31 L224.53,365.29 L224.72,365.27 L224.90,365.25 L225.08,365.22 L225.27,365.19 L225.45,365.15 L225.63,365.09 L225.82,365.02 L226.00,364.91 L226.19,364.76 L226.37,364.54 L226.55,364.21 L226.74,363.73 L226.92,363.05 L227.10,362.11 L227.29,360.84 L227.47,359.22 L227.65,357.21 L227.84,354.85 L228.02,352.22 L228.20,349.45 L228.39,346.73 L228.57,344.27 L228.75,342.32 L228.94,341.06 L229.12,340.63 L229.30,341.08 L229.49,342.35 L229.67,344.32 L229.86,346.79 L230.04,349.53 L230.22,352.31 L230.41,354.96 L230.59,357.34 L230.77,359.36 L230.96,361.00 L231.14,362.28 L231.32,363.24 L231.51,363.94 L231.69,364.44 L231.87,364.78 L232.06,365.02 L232.24,365.19 L232.42,365.31 L232.61,365.40 L232.79,365.47 L232.97,365.53 L233.16,365.58 L233.34,365.62 L233.53,365.66 L233.71,365.70 L233.89,365.73 L234.08,365.76 L234.26,365.79 L234.44,365.82 L234.63,365.84 L234.81,365.86 L234.99,365.88 L235.18,365.90 L235.36,365.92 L235.54,365.94 L235.73,365.95 L235.91,365.97 L236.09,365.98 L236.28,365.99 L236.46,366.01 L236.64,366.02 L236.83,366.03 L237.01,366.04 L237.19,366.05 L237.38,366.06 L237.56,366.07 L237.75,366.08 L237.93,366.09 L238.11,366.09 L238.30,366.10 L238.48,366.11 L238.66,366.12 L238.85,366.12 L239.03,366.13 L239.21,366.14 L239.40,366.14 L239.58,366.15 L239.76,366.15 L239.95,366.16 L240.13,366.16 L240.31,366.17 L240.50,366.17 L240.68,366.18 L240.87,366.18 L241.05,366.19 L241.23,366.19 L241.42,366.20 L241.60,366.20 L241.78,366.20 L241.97,366.21 L242.15,366.21 L242.33,366.22 L242.52,366.22 L242.70,366.22 L242.88,366.23 L243.07,366.23 L243.25,366.23 L243.43,366.23 L243.62,366.24 L243.80,366.24 L243.98,366.24 L244.17,366.25 L244.35,366.25 L244.54,366.25 L244.72,366.25 L244.90,366.26 L245.09,366.26 L245.27,366.26 L245.45,366.26 L245.64,366.26 L245.82,366.27 L246.00,366.27 L246.19,366.27 L246.37,366.27 L246.55,366.27 L246.74,366.28 L246.92,366.28 L247.10,366.28 L247.29,366.28 L247.47,366.28 L247.65,366.28 L247.84,366.29 L248.02,366.29 L248.21,366.29 L248.39,366.29 L248.57,366.29 L248.76,366.29 L248.94,366.29 L249.12,366.29 L249.31,366.30 L249.49,366.30 L249.67,366.30 L249.86,366.30 L250.04,366.30 L250.22,366.30 L250.41,366.30 L250.59,366.30 L250.77,366.30 L250.96,366.31 L251.14,366.31 L251.32,366.31 L251.51,366.31 L251.69,366.31 L251.88,366.31 L252.06,366.31 L252.24,366.31 L252.43,366.31 L252.61,366.31 L252.79,366.31 L252.98,366.32 L253.16,366.32 L253.34,366.32 L253.53,366.32 L253.71,366.32 L253.89,366.32 L254.08,366.32 L254.26,366.32 L254.44,366.32 L254.63,366.32 L254.81,366.32 L254.99,366.32 L255.18,366.32 L255.36,366.32 L255.55,366.32 L255.73,366.32 L255.91,366.32 L256.10,366.33 L256.28,366.33 L256.46,366.33 L256.65,366.33 L256.83,366.33 L257.01,366.33 L257.20,366.33 L257.38,366.33 L257.56,366.33 L257.75,366.33 L257.93,366.33 L258.11,366.33 L258.30,366.33 L258.48,366.33 L258.66,366.33 L258.85,366.33 L259.03,366.33 L259.22,366.33 L259.40,366.33 L259.58,366.33 L259.77,366.33 L259.95,366.33 L260.13,366.33 L260.32,366.33 L260.50,366.33 L260.68,366.33 L260.87,366.33 L261.05,366.33 L261.23,366.34 L261.42,366.34 L261.60,366.34 L261.78,366.34 L261.97,366.34 L262.15,366.34 L262.33,366.34 L262.52,366.34 L262.70,366.34 L262.88,366.34 L263.07,366.34 L263.25,366.34 L263.44,366.34 L263.62,366.34 L263.80,366.34 L263.99,366.34 L264.17,366.34 L264.35,366.34 L264.54,366.34 L264.72,366.34 L264.90,366.34 L265.09,366.34 L265.27,366.34 L265.45,366.34 L265.64,366.34 L265.82,366.34 L266.00,366.34 L266.19,366.34 L266.37,366.34 L266.56,366.34 L266.74,366.34 L266.92,366.34 L267.11,366.34 L267.29,366.34 L267.47,366.34 L267.66,366.34 L267.84,366.34 L268.02,366.34 L268.21,366.34 L268.39,366.34 L268.57,366.34 L268.76,366.34 L268.94,366.34 L269.12,366.34 L269.31,366.34 L269.49,366.34 L269.67,366.34 L269.86,366.34 L270.04,366.34 L270.23,366.34 L270.41,366.34 L270.59,366.34 L270.78,366.34 L270.96,366.34 L271.14,366.34 L271.33,366.34 L271.51,366.34 L271.69,366.34 L271.88,366.34 L272.06,366.34 L272.24,366.34 L272.43,366.34 L272.61,366.34 L272.79,366.34 L272.98,366.34 L273.16,366.34 L273.34,366.34 L273.53,366.34 L273.71,366.34 L273.89,366.34 L274.08,366.34 L274.26,366.34 L274.45,366.34 L274.63,366.34 L274.81,366.34 L275.00,366.34 L275.18,366.34 L275.36,366.34 L275.55,366.34 L275.73,366.34 L275.91,366.34 L276.10,366.34 L276.28,366.34 L276.46,366.34 L276.65,366.34 L276.83,366.34 L277.01,366.34 L277.20,366.34 L277.38,366.34 L277.57,366.34 L277.75,366.34 L277.93,366.34 L278.12,366.34 L278.30,366.34 L278.48,366.34 L278.67,366.34 L278.85,366.35 L279.03,366.35 L279.22,366.35 L279.40,366.35 L279.58,366.35 L279.77,366.35 L279.95,366.35 L280.13,366.35 L280.32,366.35 L280.50,366.35 L280.68,366.35 L280.87,366.35 L281.05,366.35 L281.24,366.35 L281.42,366.35 L281.60,366.35 L281.79,366.35 L281.97,366.35 L282.15,366.35 L282.34,366.35 L282.52,366.35 L282.70,366.35 L282.89,366.35 L283.07,366.35 L283.25,366.35 L283.44,366.35 L283.62,366.35 L283.80,366.35 L283.99,366.35 L284.17,366.35 L284.35,366.35 L284.54,366.35 L284.72,366.35 L284.91,366.35 L285.09,366.35 L285.27,366.35 L285.46,366.35 L285.64,366.35 L285.82,366.35 L286.01,366.35 L286.19,366.35 L286.37,366.35 L286.56,366.35 L286.74,366.35 L286.92,366.35 L287.11,366.35 L287.29,366.35 L287.47,366.35 L287.66,366.35 L287.84,366.35 L288.02,366.35 L288.21,366.35 L288.39,366.35 L288.58,366.35 L288.76,366.35 L288.94,366.35 L289.13,366.35 L289.31,366.35 L289.49,366.35 L289.68,366.35 L289.86,366.35 L290.04,366.35 L290.23,366.35 L290.41,366.35 L290.59,366.35 L290.78,366.35 L290.96,366.35 L291.14,366.35 L291.33,366.35 L291.51,366.35 L291.69,366.35 L291.88,366.35 L292.06,366.35 L292.25,366.35 L292.43,366.35 L292.61,366.35 L292.80,366.35 L292.98,366.35 L293.16,366.35 L293.35,366.35 L293.53,366.35 L293.71,366.35 L293.90,366.35 L294.08,366.35 L294.26,366.35 L294.45,366.35 L294.63,366.35 L294.81,366.35 L295.00,366.35 L295.18,366.35 L295.36,366.35 L295.55,366.35 L295.73,366.35 L295.92,366.35 L296.10,366.35 L296.28,366.35 L296.47,366.35 L296.65,366.35 L296.83,366.35 L297.02,366.35 L297.20,366.35 L297.38,366.35 L297.57,366.35 L297.75,366.35" fill="none" stroke="#0072bd" stroke-width="1.35" stroke-linejoin="round" clip-path="url(#ca4)"/>
<text x="261.20" y="312.75" text-anchor="end" font-size="11.35" fill="#262626" font-family='"Liberation Sans", sans-serif' >/6! = 16 ps</text>
<text x="201.72" y="318.45" font-size="9.6" fill="#262626" font-family='"Liberation Sans", sans-serif' >6</text>
<text x="195.22" y="312.75" class="s" font-size="11.35" fill="#262626" font-family='"Liberation Serif", serif' font-style="italic">β</text>
<text x="261.90" y="306.85" font-size="9.8" fill="#262626" font-family='"Liberation Sans", sans-serif' >6</text>
<text x="270.00" y="312.75" font-size="11.35" fill="#262626" font-family='"Liberation Sans", sans-serif' >km</text>
<text x="285.60" y="307.05" font-size="9.1" fill="#262626" font-family='"Liberation Sans", sans-serif' >-1</text>
<text x="243.30" y="332.55" font-size="11.35" fill="#262626" font-family='"Liberation Sans", sans-serif' >1/</text>
<text x="252.90" y="332.55" class="s" font-size="11.35" fill="#262626" font-family='"Liberation Serif", serif' font-style="italic">ϵ</text>
<text x="293.30" y="332.55" text-anchor="end" font-size="11.35" fill="#262626" font-family='"Liberation Sans", sans-serif' >= 2.05</text>
<line x1="41.30" y1="369.45" x2="297.45" y2="369.45" stroke="#333333" stroke-width="0.75" />
<line x1="41.30" y1="369.45" x2="41.30" y2="439.40" stroke="#333333" stroke-width="0.75" />
<line x1="297.45" y1="369.45" x2="297.45" y2="439.40" stroke="#333333" stroke-width="0.75" />
<line x1="59.20" y1="369.45" x2="59.20" y2="372.25" stroke="#333333" stroke-width="0.75" />
<line x1="59.20" y1="439.40" x2="59.20" y2="436.60" stroke="#333333" stroke-width="0.75" />
<line x1="95.90" y1="369.45" x2="95.90" y2="372.25" stroke="#333333" stroke-width="0.75" />
<line x1="95.90" y1="439.40" x2="95.90" y2="436.60" stroke="#333333" stroke-width="0.75" />
<line x1="132.60" y1="369.45" x2="132.60" y2="372.25" stroke="#333333" stroke-width="0.75" />
<line x1="132.60" y1="439.40" x2="132.60" y2="436.60" stroke="#333333" stroke-width="0.75" />
<line x1="169.30" y1="369.45" x2="169.30" y2="372.25" stroke="#333333" stroke-width="0.75" />
<line x1="169.30" y1="439.40" x2="169.30" y2="436.60" stroke="#333333" stroke-width="0.75" />
<line x1="206.00" y1="369.45" x2="206.00" y2="372.25" stroke="#333333" stroke-width="0.75" />
<line x1="206.00" y1="439.40" x2="206.00" y2="436.60" stroke="#333333" stroke-width="0.75" />
<line x1="242.70" y1="369.45" x2="242.70" y2="372.25" stroke="#333333" stroke-width="0.75" />
<line x1="242.70" y1="439.40" x2="242.70" y2="436.60" stroke="#333333" stroke-width="0.75" />
<line x1="279.40" y1="369.45" x2="279.40" y2="372.25" stroke="#333333" stroke-width="0.75" />
<line x1="279.40" y1="439.40" x2="279.40" y2="436.60" stroke="#333333" stroke-width="0.75" />
<line x1="41.30" y1="439.40" x2="44.10" y2="439.40" stroke="#333333" stroke-width="0.75" />
<line x1="297.45" y1="439.40" x2="294.65" y2="439.40" stroke="#333333" stroke-width="0.75" />
<text x="37.60" y="443.85" text-anchor="end" font-size="11" fill="#262626" font-family='"Liberation Sans", sans-serif' >0</text>
<line x1="41.30" y1="389.15" x2="44.10" y2="389.15" stroke="#333333" stroke-width="0.75" />
<line x1="297.45" y1="389.15" x2="294.65" y2="389.15" stroke="#333333" stroke-width="0.75" />
<text x="37.60" y="393.60" text-anchor="end" font-size="11" fill="#262626" font-family='"Liberation Sans", sans-serif' >5</text>
<clipPath id="ca5"><rect x="41.3" y="368.45" width="256.15" height="71.44999999999999"/></clipPath>
<path d="M40.85,439.39 L41.03,439.39 L41.22,439.39 L41.40,439.39 L41.58,439.39 L41.77,439.39 L41.95,439.39 L42.13,439.39 L42.32,439.39 L42.50,439.39 L42.68,439.39 L42.87,439.39 L43.05,439.39 L43.24,439.39 L43.42,439.39 L43.60,439.39 L43.79,439.39 L43.97,439.39 L44.15,439.39 L44.34,439.39 L44.52,439.39 L44.70,439.39 L44.89,439.39 L45.07,439.39 L45.25,439.39 L45.44,439.39 L45.62,439.39 L45.80,439.39 L45.99,439.39 L46.17,439.39 L46.36,439.39 L46.54,439.39 L46.72,439.39 L46.91,439.39 L47.09,439.39 L47.27,439.39 L47.46,439.39 L47.64,439.39 L47.82,439.39 L48.01,439.39 L48.19,439.39 L48.37,439.39 L48.56,439.39 L48.74,439.39 L48.92,439.39 L49.11,439.39 L49.29,439.39 L49.47,439.39 L49.66,439.39 L49.84,439.39 L50.03,439.39 L50.21,439.39 L50.39,439.39 L50.58,439.39 L50.76,439.39 L50.94,439.39 L51.13,439.39 L51.31,439.39 L51.49,439.39 L51.68,439.39 L51.86,439.39 L52.04,439.39 L52.23,439.39 L52.41,439.39 L52.59,439.39 L52.78,439.39 L52.96,439.39 L53.14,439.39 L53.33,439.39 L53.51,439.39 L53.70,439.39 L53.88,439.39 L54.06,439.39 L54.25,439.39 L54.43,439.39 L54.61,439.39 L54.80,439.39 L54.98,439.39 L55.16,439.39 L55.35,439.39 L55.53,439.39 L55.71,439.39 L55.90,439.39 L56.08,439.39 L56.26,439.39 L56.45,439.39 L56.63,439.39 L56.81,439.39 L57.00,439.39 L57.18,439.39 L57.37,439.39 L57.55,439.39 L57.73,439.39 L57.92,439.39 L58.10,439.39 L58.28,439.39 L58.47,439.39 L58.65,439.39 L58.83,439.39 L59.02,439.39 L59.20,439.39 L59.38,439.39 L59.57,439.39 L59.75,439.39 L59.93,439.39 L60.12,439.39 L60.30,439.39 L60.48,439.39 L60.67,439.39 L60.85,439.39 L61.03,439.39 L61.22,439.39 L61.40,439.39 L61.59,439.39 L61.77,439.39 L61.95,439.39 L62.14,439.39 L62.32,439.39 L62.50,439.39 L62.69,439.39 L62.87,439.39 L63.05,439.39 L63.24,439.39 L63.42,439.39 L63.60,439.39 L63.79,439.39 L63.97,439.39 L64.15,439.39 L64.34,439.39 L64.52,439.39 L64.70,439.39 L64.89,439.39 L65.07,439.39 L65.26,439.39 L65.44,439.39 L65.62,439.39 L65.81,439.39 L65.99,439.39 L66.17,439.39 L66.36,439.39 L66.54,439.39 L66.72,439.38 L66.91,439.38 L67.09,439.38 L67.27,439.38 L67.46,439.38 L67.64,439.38 L67.82,439.38 L68.01,439.38 L68.19,439.38 L68.38,439.38 L68.56,439.38 L68.74,439.38 L68.93,439.38 L69.11,439.38 L69.29,439.38 L69.48,439.38 L69.66,439.38 L69.84,439.38 L70.03,439.38 L70.21,439.38 L70.39,439.38 L70.58,439.38 L70.76,439.38 L70.94,439.38 L71.13,439.38 L71.31,439.38 L71.49,439.38 L71.68,439.38 L71.86,439.38 L72.05,439.38 L72.23,439.38 L72.41,439.38 L72.60,439.38 L72.78,439.38 L72.96,439.38 L73.15,439.38 L73.33,439.38 L73.51,439.38 L73.70,439.38 L73.88,439.38 L74.06,439.38 L74.25,439.38 L74.43,439.38 L74.61,439.38 L74.80,439.38 L74.98,439.38 L75.16,439.38 L75.35,439.38 L75.53,439.38 L75.72,439.37 L75.90,439.37 L76.08,439.37 L76.27,439.37 L76.45,439.37 L76.63,439.37 L76.82,439.37 L77.00,439.37 L77.18,439.37 L77.37,439.37 L77.55,439.37 L77.73,439.37 L77.92,439.37 L78.10,439.37 L78.28,439.37 L78.47,439.37 L78.65,439.37 L78.83,439.37 L79.02,439.37 L79.20,439.37 L79.38,439.37 L79.57,439.37 L79.75,439.37 L79.94,439.37 L80.12,439.37 L80.30,439.37 L80.49,439.36 L80.67,439.36 L80.85,439.36 L81.04,439.36 L81.22,439.36 L81.40,439.36 L81.59,439.36 L81.77,439.36 L81.95,439.36 L82.14,439.36 L82.32,439.36 L82.50,439.36 L82.69,439.36 L82.87,439.36 L83.06,439.36 L83.24,439.36 L83.42,439.35 L83.61,439.35 L83.79,439.35 L83.97,439.35 L84.16,439.35 L84.34,439.35 L84.52,439.35 L84.71,439.35 L84.89,439.35 L85.07,439.35 L85.26,439.35 L85.44,439.35 L85.62,439.34 L85.81,439.34 L85.99,439.34 L86.17,439.34 L86.36,439.34 L86.54,439.34 L86.73,439.34 L86.91,439.34 L87.09,439.34 L87.28,439.33 L87.46,439.33 L87.64,439.33 L87.83,439.33 L88.01,439.33 L88.19,439.33 L88.38,439.33 L88.56,439.33 L88.74,439.32 L88.93,439.32 L89.11,439.32 L89.29,439.32 L89.48,439.32 L89.66,439.32 L89.84,439.31 L90.03,439.31 L90.21,439.31 L90.40,439.31 L90.58,439.31 L90.76,439.31 L90.95,439.30 L91.13,439.30 L91.31,439.30 L91.50,439.30 L91.68,439.30 L91.86,439.29 L92.05,439.29 L92.23,439.29 L92.41,439.29 L92.60,439.28 L92.78,439.28 L92.96,439.28 L93.15,439.27 L93.33,439.27 L93.51,439.27 L93.70,439.27 L93.88,439.26 L94.07,439.26 L94.25,439.26 L94.43,439.25 L94.62,439.25 L94.80,439.25 L94.98,439.24 L95.17,439.24 L95.35,439.23 L95.53,439.23 L95.72,439.23 L95.90,439.22 L96.08,439.22 L96.27,439.21 L96.45,439.21 L96.63,439.20 L96.82,439.20 L97.00,439.19 L97.18,439.19 L97.37,439.18 L97.55,439.17 L97.74,439.17 L97.92,439.16 L98.10,439.15 L98.29,439.15 L98.47,439.14 L98.65,439.13 L98.84,439.12 L99.02,439.11 L99.20,439.11 L99.39,439.10 L99.57,439.09 L99.75,439.08 L99.94,439.07 L100.12,439.06 L100.30,439.04 L100.49,439.03 L100.67,439.02 L100.85,439.01 L101.04,438.99 L101.22,438.98 L101.41,438.96 L101.59,438.95 L101.77,438.93 L101.96,438.91 L102.14,438.89 L102.32,438.87 L102.51,438.85 L102.69,438.83 L102.87,438.80 L103.06,438.78 L103.24,438.75 L103.42,438.72 L103.61,438.69 L103.79,438.66 L103.97,438.62 L104.16,438.58 L104.34,438.54 L104.52,438.49 L104.71,438.44 L104.89,438.39 L105.08,438.33 L105.26,438.27 L105.44,438.20 L105.63,438.12 L105.81,438.04 L105.99,437.94 L106.18,437.84 L106.36,437.72 L106.54,437.57 L106.73,437.40 L106.91,437.17 L107.09,436.86 L107.28,436.43 L107.46,435.82 L107.64,434.93 L107.83,433.64 L108.01,431.83 L108.19,429.33 L108.38,425.99 L108.56,421.70 L108.75,416.41 L108.93,410.20 L109.11,403.28 L109.30,395.99 L109.48,388.83 L109.66,382.39 L109.85,377.24 L110.03,373.92 L110.21,372.76 L110.40,373.90 L110.58,377.22 L110.76,382.35 L110.95,388.78 L111.13,395.93 L111.31,403.20 L111.50,410.12 L111.68,416.31 L111.86,421.58 L112.05,425.86 L112.23,429.18 L112.42,431.67 L112.60,433.48 L112.78,434.75 L112.97,435.62 L113.15,436.23 L113.33,436.64 L113.52,436.93 L113.70,437.15 L113.88,437.31 L114.07,437.44 L114.25,437.55 L114.43,437.64 L114.62,437.72 L114.80,437.79 L114.98,437.86 L115.17,437.91 L115.35,437.96 L115.53,438.01 L115.72,438.05 L115.90,438.08 L116.09,438.11 L116.27,438.14 L116.45,438.16 L116.64,438.19 L116.82,438.20 L117.00,438.22 L117.19,438.24 L117.37,438.25 L117.55,438.26 L117.74,438.27 L117.92,438.27 L118.10,438.28 L118.29,438.29 L118.47,438.29 L118.65,438.29 L118.84,438.29 L119.02,438.29 L119.20,438.29 L119.39,438.29 L119.57,438.28 L119.75,438.28 L119.94,438.28 L120.12,438.27 L120.31,438.27 L120.49,438.26 L120.67,438.25 L120.86,438.24 L121.04,438.23 L121.22,438.23 L121.41,438.22 L121.59,438.21 L121.77,438.19 L121.96,438.18 L122.14,438.17 L122.32,438.16 L122.51,438.15 L122.69,438.13 L122.87,438.12 L123.06,438.11 L123.24,438.09 L123.43,438.08 L123.61,438.06 L123.79,438.05 L123.98,438.03 L124.16,438.01 L124.34,438.00 L124.53,437.98 L124.71,437.96 L124.89,437.94 L125.08,437.92 L125.26,437.91 L125.44,437.89 L125.63,437.87 L125.81,437.85 L125.99,437.83 L126.18,437.81 L126.36,437.79 L126.54,437.77 L126.73,437.74 L126.91,437.72 L127.10,437.70 L127.28,437.68 L127.46,437.66 L127.65,437.63 L127.83,437.61 L128.01,437.58 L128.20,437.56 L128.38,437.54 L128.56,437.51 L128.75,437.49 L128.93,437.46 L129.11,437.44 L129.30,437.41 L129.48,437.38 L129.66,437.36 L129.85,437.33 L130.03,437.30 L130.21,437.28 L130.40,437.25 L130.58,437.22 L130.77,437.19 L130.95,437.16 L131.13,437.13 L131.32,437.10 L131.50,437.07 L131.68,437.04 L131.87,437.01 L132.05,436.98 L132.23,436.95 L132.42,436.92 L132.60,436.89 L132.78,436.86 L132.97,436.83 L133.15,436.79 L133.33,436.76 L133.52,436.73 L133.70,436.69 L133.88,436.66 L134.07,436.63 L134.25,436.59 L134.44,436.56 L134.62,436.52 L134.80,436.49 L134.99,436.45 L135.17,436.42 L135.35,436.38 L135.54,436.35 L135.72,436.31 L135.90,436.27 L136.09,436.24 L136.27,436.20 L136.45,436.16 L136.64,436.12 L136.82,436.09 L137.00,436.05 L137.19,436.01 L137.37,435.97 L137.55,435.93 L137.74,435.89 L137.92,435.85 L138.11,435.81 L138.29,435.77 L138.47,435.73 L138.66,435.69 L138.84,435.65 L139.02,435.61 L139.21,435.57 L139.39,435.53 L139.57,435.49 L139.76,435.45 L139.94,435.40 L140.12,435.36 L140.31,435.32 L140.49,435.28 L140.67,435.23 L140.86,435.19 L141.04,435.15 L141.22,435.10 L141.41,435.06 L141.59,435.02 L141.78,434.97 L141.96,434.93 L142.14,434.88 L142.33,434.84 L142.51,434.80 L142.69,434.75 L142.88,434.71 L143.06,434.66 L143.24,434.62 L143.43,434.57 L143.61,434.53 L143.79,434.48 L143.98,434.43 L144.16,434.39 L144.34,434.34 L144.53,434.30 L144.71,434.25 L144.89,434.20 L145.08,434.16 L145.26,434.11 L145.45,434.06 L145.63,434.02 L145.81,433.97 L146.00,433.92 L146.18,433.88 L146.36,433.83 L146.55,433.78 L146.73,433.74 L146.91,433.69 L147.10,433.64 L147.28,433.59 L147.46,433.55 L147.65,433.50 L147.83,433.45 L148.01,433.41 L148.20,433.36 L148.38,433.31 L148.56,433.26 L148.75,433.22 L148.93,433.17 L149.12,433.12 L149.30,433.07 L149.48,433.03 L149.67,432.98 L149.85,432.93 L150.03,432.89 L150.22,432.84 L150.40,432.79 L150.58,432.75 L150.77,432.70 L150.95,432.65 L151.13,432.61 L151.32,432.56 L151.50,432.51 L151.68,432.47 L151.87,432.42 L152.05,432.38 L152.23,432.33 L152.42,432.29 L152.60,432.24 L152.78,432.19 L152.97,432.15 L153.15,432.10 L153.34,432.06 L153.52,432.02 L153.70,431.97 L153.89,431.93 L154.07,431.88 L154.25,431.84 L154.44,431.80 L154.62,431.75 L154.80,431.71 L154.99,431.67 L155.17,431.62 L155.35,431.58 L155.54,431.54 L155.72,431.50 L155.90,431.46 L156.09,431.42 L156.27,431.37 L156.46,431.33 L156.64,431.29 L156.82,431.25 L157.01,431.21 L157.19,431.17 L157.37,431.13 L157.56,431.10 L157.74,431.06 L157.92,431.02 L158.11,430.98 L158.29,430.94 L158.47,430.91 L158.66,430.87 L158.84,430.84 L159.02,430.80 L159.21,430.76 L159.39,430.73 L159.57,430.69 L159.76,430.66 L159.94,430.63 L160.12,430.59 L160.31,430.56 L160.49,430.53 L160.68,430.50 L160.86,430.46 L161.04,430.43 L161.23,430.40 L161.41,430.37 L161.59,430.34 L161.78,430.31 L161.96,430.28 L162.14,430.25 L162.33,430.23 L162.51,430.20 L162.69,430.17 L162.88,430.15 L163.06,430.12 L163.24,430.10 L163.43,430.07 L163.61,430.05 L163.80,430.02 L163.98,430.00 L164.16,429.98 L164.35,429.95 L164.53,429.93 L164.71,429.91 L164.90,429.89 L165.08,429.87 L165.26,429.85 L165.45,429.83 L165.63,429.81 L165.81,429.80 L166.00,429.78 L166.18,429.76 L166.36,429.75 L166.55,429.73 L166.73,429.72 L166.91,429.70 L167.10,429.69 L167.28,429.67 L167.47,429.66 L167.65,429.65 L167.83,429.64 L168.02,429.63 L168.20,429.62 L168.38,429.61 L168.57,429.60 L168.75,429.59 L168.93,429.58 L169.12,429.58 L169.30,429.57 L169.48,429.56 L169.67,429.56 L169.85,429.55 L170.03,429.55 L170.22,429.55 L170.40,429.54 L170.58,429.54 L170.77,429.54 L170.95,429.54 L171.13,429.54 L171.32,429.54 L171.50,429.54 L171.69,429.54 L171.87,429.54 L172.05,429.55 L172.24,429.55 L172.42,429.55 L172.60,429.56 L172.79,429.56 L172.97,429.57 L173.15,429.58 L173.34,429.58 L173.52,429.59 L173.70,429.60 L173.89,429.61 L174.07,429.62 L174.25,429.63 L174.44,429.64 L174.62,429.65 L174.81,429.66 L174.99,429.68 L175.17,429.69 L175.36,429.70 L175.54,429.72 L175.72,429.73 L175.91,429.75 L176.09,429.76 L176.27,429.78 L176.46,429.80 L176.64,429.81 L176.82,429.83 L177.01,429.85 L177.19,429.87 L177.37,429.89 L177.56,429.91 L177.74,429.93 L177.92,429.95 L178.11,429.98 L178.29,430.00 L178.48,430.02 L178.66,430.05 L178.84,430.07 L179.03,430.10 L179.21,430.12 L179.39,430.15 L179.58,430.17 L179.76,430.20 L179.94,430.23 L180.13,430.26 L180.31,430.28 L180.49,430.31 L180.68,430.34 L180.86,430.37 L181.04,430.40 L181.23,430.43 L181.41,430.46 L181.59,430.50 L181.78,430.53 L181.96,430.56 L182.15,430.59 L182.33,430.63 L182.51,430.66 L182.70,430.70 L182.88,430.73 L183.06,430.77 L183.25,430.80 L183.43,430.84 L183.61,430.87 L183.80,430.91 L183.98,430.95 L184.16,430.98 L184.35,431.02 L184.53,431.06 L184.71,431.10 L184.90,431.14 L185.08,431.18 L185.26,431.22 L185.45,431.26 L185.63,431.30 L185.82,431.34 L186.00,431.38 L186.18,431.42 L186.37,431.46 L186.55,431.50 L186.73,431.54 L186.92,431.58 L187.10,431.63 L187.28,431.67 L187.47,431.71 L187.65,431.75 L187.83,431.80 L188.02,431.84 L188.20,431.89 L188.38,431.93 L188.57,431.97 L188.75,432.02 L188.93,432.06 L189.12,432.11 L189.30,432.15 L189.49,432.20 L189.67,432.24 L189.85,432.29 L190.04,432.33 L190.22,432.38 L190.40,432.42 L190.59,432.47 L190.77,432.52 L190.95,432.56 L191.14,432.61 L191.32,432.66 L191.50,432.70 L191.69,432.75 L191.87,432.80 L192.05,432.84 L192.24,432.89 L192.42,432.94 L192.60,432.98 L192.79,433.03 L192.97,433.08 L193.16,433.13 L193.34,433.17 L193.52,433.22 L193.71,433.27 L193.89,433.31 L194.07,433.36 L194.26,433.41 L194.44,433.46 L194.62,433.50 L194.81,433.55 L194.99,433.60 L195.17,433.64 L195.36,433.69 L195.54,433.74 L195.72,433.79 L195.91,433.83 L196.09,433.88 L196.27,433.93 L196.46,433.97 L196.64,434.02 L196.83,434.07 L197.01,434.11 L197.19,434.16 L197.38,434.21 L197.56,434.25 L197.74,434.30 L197.93,434.35 L198.11,434.39 L198.29,434.44 L198.48,434.48 L198.66,434.53 L198.84,434.57 L199.03,434.62 L199.21,434.66 L199.39,434.71 L199.58,434.75 L199.76,434.80 L199.94,434.84 L200.13,434.89 L200.31,434.93 L200.50,434.98 L200.68,435.02 L200.86,435.06 L201.05,435.11 L201.23,435.15 L201.41,435.19 L201.60,435.24 L201.78,435.28 L201.96,435.32 L202.15,435.37 L202.33,435.41 L202.51,435.45 L202.70,435.49 L202.88,435.53 L203.06,435.57 L203.25,435.62 L203.43,435.66 L203.61,435.70 L203.80,435.74 L203.98,435.78 L204.17,435.82 L204.35,435.86 L204.53,435.90 L204.72,435.94 L204.90,435.97 L205.08,436.01 L205.27,436.05 L205.45,436.09 L205.63,436.13 L205.82,436.16 L206.00,436.20 L206.18,436.24 L206.37,436.28 L206.55,436.31 L206.73,436.35 L206.92,436.38 L207.10,436.42 L207.28,436.46 L207.47,436.49 L207.65,436.53 L207.84,436.56 L208.02,436.59 L208.20,436.63 L208.39,436.66 L208.57,436.69 L208.75,436.73 L208.94,436.76 L209.12,436.79 L209.30,436.83 L209.49,436.86 L209.67,436.89 L209.85,436.92 L210.04,436.95 L210.22,436.98 L210.40,437.01 L210.59,437.04 L210.77,437.07 L210.95,437.10 L211.14,437.13 L211.32,437.16 L211.51,437.19 L211.69,437.21 L211.87,437.24 L212.06,437.27 L212.24,437.29 L212.42,437.32 L212.61,437.35 L212.79,437.37 L212.97,437.40 L213.16,437.42 L213.34,437.45 L213.52,437.47 L213.71,437.50 L213.89,437.52 L214.07,437.54 L214.26,437.57 L214.44,437.59 L214.62,437.61 L214.81,437.63 L214.99,437.65 L215.18,437.67 L215.36,437.69 L215.54,437.71 L215.73,437.73 L215.91,437.75 L216.09,437.77 L216.28,437.78 L216.46,437.80 L216.64,437.82 L216.83,437.83 L217.01,437.85 L217.19,437.86 L217.38,437.88 L217.56,437.89 L217.74,437.90 L217.93,437.91 L218.11,437.92 L218.29,437.93 L218.48,437.94 L218.66,437.95 L218.84,437.96 L219.03,437.96 L219.21,437.97 L219.40,437.97 L219.58,437.97 L219.76,437.97 L219.95,437.97 L220.13,437.96 L220.31,437.96 L220.50,437.95 L220.68,437.94 L220.86,437.92 L221.05,437.90 L221.23,437.88 L221.41,437.86 L221.60,437.82 L221.78,437.79 L221.96,437.74 L222.15,437.68 L222.33,437.61 L222.52,437.51 L222.70,437.36 L222.88,437.16 L223.07,436.85 L223.25,436.40 L223.43,435.75 L223.62,434.82 L223.80,433.52 L223.98,431.79 L224.17,429.57 L224.35,426.82 L224.53,423.59 L224.72,419.99 L224.90,416.19 L225.08,412.47 L225.27,409.11 L225.45,406.44 L225.63,404.71 L225.82,404.12 L226.00,404.74 L226.19,406.48 L226.37,409.18 L226.55,412.56 L226.74,416.31 L226.92,420.12 L227.10,423.75 L227.29,427.00 L227.47,429.77 L227.65,432.02 L227.84,433.77 L228.02,435.09 L228.20,436.04 L228.39,436.72 L228.57,437.19 L228.75,437.52 L228.94,437.75 L229.12,437.92 L229.30,438.04 L229.49,438.14 L229.67,438.22 L229.86,438.29 L230.04,438.35 L230.22,438.41 L230.41,438.46 L230.59,438.50 L230.77,438.54 L230.96,438.58 L231.14,438.62 L231.32,438.65 L231.51,438.68 L231.69,438.71 L231.87,438.74 L232.06,438.76 L232.24,438.78 L232.42,438.81 L232.61,438.83 L232.79,438.85 L232.97,438.87 L233.16,438.88 L233.34,438.90 L233.53,438.92 L233.71,438.93 L233.89,438.95 L234.08,438.96 L234.26,438.97 L234.44,438.99 L234.63,439.00 L234.81,439.01 L234.99,439.02 L235.18,439.03 L235.36,439.04 L235.54,439.05 L235.73,439.06 L235.91,439.07 L236.09,439.08 L236.28,439.09 L236.46,439.10 L236.64,439.10 L236.83,439.11 L237.01,439.12 L237.19,439.13 L237.38,439.13 L237.56,439.14 L237.75,439.15 L237.93,439.15 L238.11,439.16 L238.30,439.17 L238.48,439.17 L238.66,439.18 L238.85,439.18 L239.03,439.19 L239.21,439.19 L239.40,439.20 L239.58,439.20 L239.76,439.21 L239.95,439.21 L240.13,439.22 L240.31,439.22 L240.50,439.22 L240.68,439.23 L240.87,439.23 L241.05,439.24 L241.23,439.24 L241.42,439.24 L241.60,439.25 L241.78,439.25 L241.97,439.26 L242.15,439.26 L242.33,439.26 L242.52,439.26 L242.70,439.27 L242.88,439.27 L243.07,439.27 L243.25,439.28 L243.43,439.28 L243.62,439.28 L243.80,439.29 L243.98,439.29 L244.17,439.29 L244.35,439.29 L244.54,439.30 L244.72,439.30 L244.90,439.30 L245.09,439.30 L245.27,439.30 L245.45,439.31 L245.64,439.31 L245.82,439.31 L246.00,439.31 L246.19,439.31 L246.37,439.32 L246.55,439.32 L246.74,439.32 L246.92,439.32 L247.10,439.32 L247.29,439.32 L247.47,439.33 L247.65,439.33 L247.84,439.33 L248.02,439.33 L248.21,439.33 L248.39,439.33 L248.57,439.34 L248.76,439.34 L248.94,439.34 L249.12,439.34 L249.31,439.34 L249.49,439.34 L249.67,439.34 L249.86,439.34 L250.04,439.35 L250.22,439.35 L250.41,439.35 L250.59,439.35 L250.77,439.35 L250.96,439.35 L251.14,439.35 L251.32,439.35 L251.51,439.35 L251.69,439.36 L251.88,439.36 L252.06,439.36 L252.24,439.36 L252.43,439.36 L252.61,439.36 L252.79,439.36 L252.98,439.36 L253.16,439.36 L253.34,439.36 L253.53,439.36 L253.71,439.36 L253.89,439.36 L254.08,439.37 L254.26,439.37 L254.44,439.37 L254.63,439.37 L254.81,439.37 L254.99,439.37 L255.18,439.37 L255.36,439.37 L255.55,439.37 L255.73,439.37 L255.91,439.37 L256.10,439.37 L256.28,439.37 L256.46,439.37 L256.65,439.37 L256.83,439.37 L257.01,439.37 L257.20,439.37 L257.38,439.38 L257.56,439.38 L257.75,439.38 L257.93,439.38 L258.11,439.38 L258.30,439.38 L258.48,439.38 L258.66,439.38 L258.85,439.38 L259.03,439.38 L259.22,439.38 L259.40,439.38 L259.58,439.38 L259.77,439.38 L259.95,439.38 L260.13,439.38 L260.32,439.38 L260.50,439.38 L260.68,439.38 L260.87,439.38 L261.05,439.38 L261.23,439.38 L261.42,439.38 L261.60,439.38 L261.78,439.38 L261.97,439.38 L262.15,439.38 L262.33,439.38 L262.52,439.38 L262.70,439.38 L262.88,439.38 L263.07,439.39 L263.25,439.39 L263.44,439.39 L263.62,439.39 L263.80,439.39 L263.99,439.39 L264.17,439.39 L264.35,439.39 L264.54,439.39 L264.72,439.39 L264.90,439.39 L265.09,439.39 L265.27,439.39 L265.45,439.39 L265.64,439.39 L265.82,439.39 L266.00,439.39 L266.19,439.39 L266.37,439.39 L266.56,439.39 L266.74,439.39 L266.92,439.39 L267.11,439.39 L267.29,439.39 L267.47,439.39 L267.66,439.39 L267.84,439.39 L268.02,439.39 L268.21,439.39 L268.39,439.39 L268.57,439.39 L268.76,439.39 L268.94,439.39 L269.12,439.39 L269.31,439.39 L269.49,439.39 L269.67,439.39 L269.86,439.39 L270.04,439.39 L270.23,439.39 L270.41,439.39 L270.59,439.39 L270.78,439.39 L270.96,439.39 L271.14,439.39 L271.33,439.39 L271.51,439.39 L271.69,439.39 L271.88,439.39 L272.06,439.39 L272.24,439.39 L272.43,439.39 L272.61,439.39 L272.79,439.39 L272.98,439.39 L273.16,439.39 L273.34,439.39 L273.53,439.39 L273.71,439.39 L273.89,439.39 L274.08,439.39 L274.26,439.39 L274.45,439.39 L274.63,439.39 L274.81,439.39 L275.00,439.39 L275.18,439.39 L275.36,439.39 L275.55,439.39 L275.73,439.39 L275.91,439.39 L276.10,439.39 L276.28,439.39 L276.46,439.39 L276.65,439.39 L276.83,439.39 L277.01,439.39 L277.20,439.39 L277.38,439.39 L277.57,439.39 L277.75,439.39 L277.93,439.39 L278.12,439.39 L278.30,439.39 L278.48,439.39 L278.67,439.39 L278.85,439.39 L279.03,439.39 L279.22,439.39 L279.40,439.39 L279.58,439.39 L279.77,439.39 L279.95,439.39 L280.13,439.39 L280.32,439.39 L280.50,439.39 L280.68,439.39 L280.87,439.39 L281.05,439.39 L281.24,439.39 L281.42,439.39 L281.60,439.39 L281.79,439.39 L281.97,439.39 L282.15,439.39 L282.34,439.39 L282.52,439.39 L282.70,439.39 L282.89,439.39 L283.07,439.39 L283.25,439.39 L283.44,439.39 L283.62,439.39 L283.80,439.39 L283.99,439.39 L284.17,439.39 L284.35,439.39 L284.54,439.40 L284.72,439.40 L284.91,439.40 L285.09,439.40 L285.27,439.40 L285.46,439.40 L285.64,439.40 L285.82,439.40 L286.01,439.40 L286.19,439.40 L286.37,439.40 L286.56,439.40 L286.74,439.40 L286.92,439.40 L287.11,439.40 L287.29,439.40 L287.47,439.40 L287.66,439.40 L287.84,439.40 L288.02,439.40 L288.21,439.40 L288.39,439.40 L288.58,439.40 L288.76,439.40 L288.94,439.40 L289.13,439.40 L289.31,439.40 L289.49,439.40 L289.68,439.40 L289.86,439.40 L290.04,439.40 L290.23,439.40 L290.41,439.40 L290.59,439.40 L290.78,439.40 L290.96,439.40 L291.14,439.40 L291.33,439.40 L291.51,439.40 L291.69,439.40 L291.88,439.40 L292.06,439.40 L292.25,439.40 L292.43,439.40 L292.61,439.40 L292.80,439.40 L292.98,439.40 L293.16,439.40 L293.35,439.40 L293.53,439.40 L293.71,439.40 L293.90,439.40 L294.08,439.40 L294.26,439.40 L294.45,439.40 L294.63,439.40 L294.81,439.40 L295.00,439.40 L295.18,439.40 L295.36,439.40 L295.55,439.40 L295.73,439.40 L295.92,439.40 L296.10,439.40 L296.28,439.40 L296.47,439.40 L296.65,439.40 L296.83,439.40 L297.02,439.40 L297.20,439.40 L297.38,439.40 L297.57,439.40 L297.75,439.40" fill="none" stroke="#0072bd" stroke-width="1.35" stroke-linejoin="round" clip-path="url(#ca5)"/>
<text x="261.20" y="385.75" text-anchor="end" font-size="11.35" fill="#262626" font-family='"Liberation Sans", sans-serif' >/6! = 18 ps</text>
<text x="201.72" y="391.45" font-size="9.6" fill="#262626" font-family='"Liberation Sans", sans-serif' >6</text>
<text x="195.22" y="385.75" class="s" font-size="11.35" fill="#262626" font-family='"Liberation Serif", serif' font-style="italic">β</text>
<text x="261.90" y="379.85" font-size="9.8" fill="#262626" font-family='"Liberation Sans", sans-serif' >6</text>
<text x="270.00" y="385.75" font-size="11.35" fill="#262626" font-family='"Liberation Sans", sans-serif' >km</text>
<text x="285.60" y="380.05" font-size="9.1" fill="#262626" font-family='"Liberation Sans", sans-serif' >-1</text>
<text x="243.30" y="405.55" font-size="11.35" fill="#262626" font-family='"Liberation Sans", sans-serif' >1/</text>
<text x="252.90" y="405.55" class="s" font-size="11.35" fill="#262626" font-family='"Liberation Serif", serif' font-style="italic">ϵ</text>
<text x="293.30" y="405.55" text-anchor="end" font-size="11.35" fill="#262626" font-family='"Liberation Sans", sans-serif' >= 2.01</text>
<text x="59.20" y="454.40" text-anchor="middle" font-size="11" fill="#262626" font-family='"Liberation Sans", sans-serif' >-3</text>
<text x="95.90" y="454.40" text-anchor="middle" font-size="11" fill="#262626" font-family='"Liberation Sans", sans-serif' >-2</text>
<text x="132.60" y="454.40" text-anchor="middle" font-size="11" fill="#262626" font-family='"Liberation Sans", sans-serif' >-1</text>
<text x="169.30" y="454.40" text-anchor="middle" font-size="11" fill="#262626" font-family='"Liberation Sans", sans-serif' >0</text>
<text x="206.00" y="454.40" text-anchor="middle" font-size="11" fill="#262626" font-family='"Liberation Sans", sans-serif' >1</text>
<text x="242.70" y="454.40" text-anchor="middle" font-size="11" fill="#262626" font-family='"Liberation Sans", sans-serif' >2</text>
<text x="279.40" y="454.40" text-anchor="middle" font-size="11" fill="#262626" font-family='"Liberation Sans", sans-serif' >3</text>
<text x="85.10" y="471.80" font-size="11.35" fill="#262626" font-family='"Liberation Sans", sans-serif' >Angular frequency shift (rad ps</text>
<text x="240.00" y="466.40" font-size="9.0" fill="#262626" font-family='"Liberation Sans", sans-serif' letter-spacing="0.3">-1</text>
<text x="248.20" y="471.80" font-size="11.35" fill="#262626" font-family='"Liberation Sans", sans-serif' >)</text>
<text x="0.00" y="0.00" text-anchor="middle" font-size="11.4" fill="#262626" font-family='"Liberation Sans", sans-serif' transform="translate(11.2,218.5) rotate(-90)">Spectrum (arb. units)</text>
<path d="M82.10,53.30 L87.50,50.10 L87.50,56.50 Z" fill="none" stroke="#a03c96" stroke-width="2.0" stroke-linejoin="round"/>
<path d="M256.50,53.20 L251.10,50.00 L251.10,56.40 Z" fill="none" stroke="#52ad3b" stroke-width="2.0" stroke-linejoin="round"/>
<line x1="378.60" y1="3.00" x2="684.50" y2="3.00" stroke="#333333" stroke-width="0.75" />
<line x1="378.60" y1="3.00" x2="378.60" y2="209.40" stroke="#333333" stroke-width="0.75" />
<line x1="684.50" y1="3.00" x2="684.50" y2="209.40" stroke="#333333" stroke-width="0.75" />
<line x1="378.60" y1="209.40" x2="684.50" y2="209.40" stroke="#333333" stroke-width="0.75" />
<line x1="392.60" y1="3.00" x2="392.60" y2="6.00" stroke="#333333" stroke-width="0.75" />
<line x1="392.60" y1="209.40" x2="392.60" y2="206.40" stroke="#333333" stroke-width="0.75" />
<line x1="448.16" y1="3.00" x2="448.16" y2="6.00" stroke="#333333" stroke-width="0.75" />
<line x1="448.16" y1="209.40" x2="448.16" y2="206.40" stroke="#333333" stroke-width="0.75" />
<line x1="503.72" y1="3.00" x2="503.72" y2="6.00" stroke="#333333" stroke-width="0.75" />
<line x1="503.72" y1="209.40" x2="503.72" y2="206.40" stroke="#333333" stroke-width="0.75" />
<line x1="559.28" y1="3.00" x2="559.28" y2="6.00" stroke="#333333" stroke-width="0.75" />
<line x1="559.28" y1="209.40" x2="559.28" y2="206.40" stroke="#333333" stroke-width="0.75" />
<line x1="614.84" y1="3.00" x2="614.84" y2="6.00" stroke="#333333" stroke-width="0.75" />
<line x1="614.84" y1="209.40" x2="614.84" y2="206.40" stroke="#333333" stroke-width="0.75" />
<line x1="670.40" y1="3.00" x2="670.40" y2="6.00" stroke="#333333" stroke-width="0.75" />
<line x1="670.40" y1="209.40" x2="670.40" y2="206.40" stroke="#333333" stroke-width="0.75" />
<path d="M378.60,155.10 L379.60,154.68 L380.60,154.26 L381.60,153.85 L382.60,153.43 L383.60,153.01 L384.60,152.59 L385.60,152.17 L386.60,151.75 L387.60,151.33 L388.60,150.91 L389.60,150.49 L390.60,150.07 L391.60,149.65 L392.60,149.23 L393.60,148.81 L394.60,148.39 L395.60,147.96 L396.60,147.54 L397.60,147.12 L398.60,146.70 L399.60,146.27 L400.60,145.85 L401.60,145.43 L402.60,145.00 L403.60,144.58 L404.60,144.15 L405.60,143.73 L406.60,143.30 L407.60,142.88 L408.60,142.45 L409.60,142.03 L410.60,141.60 L411.60,141.17 L412.60,140.75 L413.60,140.32 L414.60,139.89 L415.60,139.46 L416.60,139.04 L417.60,138.61 L418.60,138.18 L419.60,137.75 L420.60,137.32 L421.60,136.89 L422.60,136.46 L423.60,136.03 L424.60,135.60 L425.60,135.17 L426.60,134.74 L427.60,134.31 L428.60,133.88 L429.60,133.45 L430.60,133.01 L431.60,132.58 L432.60,132.15 L433.60,131.72 L434.60,131.28 L435.60,130.85 L436.60,130.41 L437.60,129.98 L438.60,129.55 L439.60,129.11 L440.60,128.68 L441.60,128.24 L442.60,127.81 L443.60,127.37 L444.60,126.93 L445.60,126.50 L446.60,126.06 L447.60,125.62 L448.60,125.19 L449.60,124.75 L450.60,124.31 L451.60,123.87 L452.60,123.44 L453.60,123.00 L454.60,122.56 L455.60,122.12 L456.60,121.68 L457.60,121.24 L458.60,120.80 L459.60,120.36 L460.60,119.92 L461.60,119.48 L462.60,119.04 L463.60,118.59 L464.60,118.15 L465.60,117.71 L466.60,117.27 L467.60,116.83 L468.60,116.38 L469.60,115.94 L470.60,115.50 L471.60,115.05 L472.60,114.61 L473.60,114.16 L474.60,113.72 L475.60,113.27 L476.60,112.83 L477.60,112.38 L478.60,111.94 L479.60,111.49 L480.60,111.04 L481.60,110.60 L482.60,110.15 L483.60,109.70 L484.60,109.26 L485.60,108.81 L486.60,108.36 L487.60,107.91 L488.60,107.46 L489.60,107.01 L490.60,106.56 L491.60,106.11 L492.60,105.67 L493.60,105.21 L494.60,104.76 L495.60,104.31 L496.60,103.86 L497.60,103.41 L498.60,102.96 L499.60,102.51 L500.60,102.06 L501.60,101.60 L502.60,101.15 L503.60,100.70 L504.60,100.24 L505.60,99.79 L506.60,99.34 L507.60,98.88 L508.60,98.43 L509.60,97.97 L510.60,97.52 L511.60,97.06 L512.60,96.61 L513.60,96.15 L514.60,95.70 L515.60,95.24 L516.60,94.78 L517.60,94.33 L518.60,93.87 L519.60,93.41 L520.60,92.95 L521.60,92.49 L522.60,92.04 L523.60,91.58 L524.60,91.12 L525.60,90.66 L526.60,90.20 L527.60,89.74 L528.60,89.28 L529.60,88.82 L530.60,88.36 L531.60,87.90 L532.60,87.44 L533.60,86.97 L534.60,86.51 L535.60,86.05 L536.60,85.59 L537.60,85.13 L538.60,84.66 L539.60,84.20 L540.60,83.74 L541.60,83.27 L542.60,82.81 L543.60,82.34 L544.60,81.88 L545.60,81.41 L546.60,80.95 L547.60,80.48 L548.60,80.02 L549.60,79.55 L550.60,79.08 L551.60,78.62 L552.60,78.15 L553.60,77.68 L554.60,77.21 L555.60,76.75 L556.60,76.28 L557.60,75.81 L558.60,75.34 L559.60,74.87 L560.60,74.40 L561.60,73.93 L562.60,73.46 L563.60,72.99 L564.60,72.52 L565.60,72.05 L566.60,71.58 L567.60,71.11 L568.60,70.64 L569.60,70.17 L570.60,69.69 L571.60,69.22 L572.60,68.75 L573.60,68.28 L574.60,67.80 L575.60,67.33 L576.60,66.85 L577.60,66.38 L578.60,65.91 L579.60,65.43 L580.60,64.96 L581.60,64.48 L582.60,64.00 L583.60,63.53 L584.60,63.05 L585.60,62.58 L586.60,62.10 L587.60,61.62 L588.60,61.14 L589.60,60.67 L590.60,60.19 L591.60,59.71 L592.60,59.23 L593.60,58.75 L594.60,58.27 L595.60,57.80 L596.60,57.32 L597.60,56.84 L598.60,56.36 L599.60,55.87 L600.60,55.39 L601.60,54.91 L602.60,54.43 L603.60,53.95 L604.60,53.47 L605.60,52.99 L606.60,52.50 L607.60,52.02 L608.60,51.54 L609.60,51.05 L610.60,50.57 L611.60,50.09 L612.60,49.60 L613.60,49.12 L614.60,48.63 L615.60,48.15 L616.60,47.66 L617.60,47.18 L618.60,46.69 L619.60,46.20 L620.60,45.72 L621.60,45.23 L622.60,44.74 L623.60,44.26 L624.60,43.77 L625.60,43.28 L626.60,42.79 L627.60,42.30 L628.60,41.81 L629.60,41.33 L630.60,40.84 L631.60,40.35 L632.60,39.86 L633.60,39.37 L634.60,38.88 L635.60,38.38 L636.60,37.89 L637.60,37.40 L638.60,36.91 L639.60,36.42 L640.60,35.93 L641.60,35.44 L642.60,34.95 L643.60,34.46 L644.60,33.97 L645.60,33.48 L646.60,32.99 L647.60,32.50 L648.60,32.00 L649.60,31.51 L650.60,31.02 L651.60,30.53 L652.60,30.03 L653.60,29.54 L654.60,29.05 L655.60,28.55 L656.60,28.06 L657.60,27.56 L658.60,27.07 L659.60,26.57 L660.60,26.08 L661.60,25.58 L662.60,25.09 L663.60,24.59 L664.60,24.09 L665.60,23.60 L666.60,23.10 L667.60,22.60 L668.60,22.11 L669.60,21.61 L670.60,21.11 L671.60,20.61 L672.60,20.11 L673.60,19.61 L674.60,19.11 L675.60,18.61 L676.60,18.11 L677.60,17.61 L678.60,17.11 L679.60,16.61 L680.60,16.11 L681.60,15.61 L682.60,15.11 L683.60,14.61 L684.60,14.10" fill="none" stroke="#000" stroke-width="1.35" stroke-linejoin="round" />
<path d="M378.6,186.9 L684.5,24.2" fill="none" stroke="#000" stroke-width="1.35" stroke-linejoin="round" stroke-dasharray="8.4 5.3" stroke-dashoffset="6.4"/>
<circle cx="432.8" cy="139.2" r="2.4" fill="none" stroke="#e9b834" stroke-width="1.45"/>
<circle cx="443.2" cy="134.5" r="2.4" fill="none" stroke="#e9b834" stroke-width="1.45"/>
<circle cx="451" cy="131.4" r="2.4" fill="none" stroke="#e9b834" stroke-width="1.45"/>
<circle cx="453.8" cy="130.8" r="2.4" fill="none" stroke="#e9b834" stroke-width="1.45"/>
<circle cx="462.2" cy="126.4" r="2.4" fill="none" stroke="#e9b834" stroke-width="1.45"/>
<circle cx="473.3" cy="121.3" r="2.4" fill="none" stroke="#e9b834" stroke-width="1.45"/>
<circle cx="488.4" cy="113.8" r="2.4" fill="none" stroke="#e9b834" stroke-width="1.45"/>
<circle cx="506.5" cy="106.2" r="2.4" fill="none" stroke="#e9b834" stroke-width="1.45"/>
<circle cx="517.8" cy="99.6" r="2.4" fill="none" stroke="#e9b834" stroke-width="1.45"/>
<circle cx="533" cy="93.2" r="2.4" fill="none" stroke="#e9b834" stroke-width="1.45"/>
<circle cx="562.2" cy="79.2" r="2.4" fill="none" stroke="#e9b834" stroke-width="1.45"/>
<circle cx="600" cy="59.4" r="2.4" fill="none" stroke="#e9b834" stroke-width="1.45"/>
<circle cx="654.8" cy="32" r="2.4" fill="none" stroke="#e9b834" stroke-width="1.45"/>
<line x1="378.60" y1="209.40" x2="381.60" y2="209.40" stroke="#333333" stroke-width="0.75" />
<line x1="684.50" y1="209.40" x2="681.50" y2="209.40" stroke="#333333" stroke-width="0.75" />
<text x="375.40" y="213.85" text-anchor="end" font-size="11" fill="#262626" font-family='"Liberation Sans", sans-serif' >1.6</text>
<line x1="378.60" y1="179.92" x2="381.60" y2="179.92" stroke="#333333" stroke-width="0.75" />
<line x1="684.50" y1="179.92" x2="681.50" y2="179.92" stroke="#333333" stroke-width="0.75" />
<text x="375.40" y="184.37" text-anchor="end" font-size="11" fill="#262626" font-family='"Liberation Sans", sans-serif' >1.8</text>
<line x1="378.60" y1="150.43" x2="381.60" y2="150.43" stroke="#333333" stroke-width="0.75" />
<line x1="684.50" y1="150.43" x2="681.50" y2="150.43" stroke="#333333" stroke-width="0.75" />
<text x="375.40" y="154.88" text-anchor="end" font-size="11" fill="#262626" font-family='"Liberation Sans", sans-serif' >2</text>
<line x1="378.60" y1="120.94" x2="381.60" y2="120.94" stroke="#333333" stroke-width="0.75" />
<line x1="684.50" y1="120.94" x2="681.50" y2="120.94" stroke="#333333" stroke-width="0.75" />
<text x="375.40" y="125.39" text-anchor="end" font-size="11" fill="#262626" font-family='"Liberation Sans", sans-serif' >2.2</text>
<line x1="378.60" y1="91.46" x2="381.60" y2="91.46" stroke="#333333" stroke-width="0.75" />
<line x1="684.50" y1="91.46" x2="681.50" y2="91.46" stroke="#333333" stroke-width="0.75" />
<text x="375.40" y="95.91" text-anchor="end" font-size="11" fill="#262626" font-family='"Liberation Sans", sans-serif' >2.4</text>
<line x1="378.60" y1="61.97" x2="381.60" y2="61.97" stroke="#333333" stroke-width="0.75" />
<line x1="684.50" y1="61.97" x2="681.50" y2="61.97" stroke="#333333" stroke-width="0.75" />
<text x="375.40" y="66.42" text-anchor="end" font-size="11" fill="#262626" font-family='"Liberation Sans", sans-serif' >2.6</text>
<line x1="378.60" y1="32.49" x2="381.60" y2="32.49" stroke="#333333" stroke-width="0.75" />
<line x1="684.50" y1="32.49" x2="681.50" y2="32.49" stroke="#333333" stroke-width="0.75" />
<text x="375.40" y="36.94" text-anchor="end" font-size="11" fill="#262626" font-family='"Liberation Sans", sans-serif' >2.8</text>
<line x1="378.60" y1="3.00" x2="381.60" y2="3.00" stroke="#333333" stroke-width="0.75" />
<line x1="684.50" y1="3.00" x2="681.50" y2="3.00" stroke="#333333" stroke-width="0.75" />
<text x="375.40" y="7.45" text-anchor="end" font-size="11" fill="#262626" font-family='"Liberation Sans", sans-serif' >3</text>
<text x="0.00" y="0.00" text-anchor="middle" font-size="11.35" fill="#262626" font-family='"Liberation Sans", sans-serif' transform="translate(350.2,114.1) rotate(-90)">Normalized resonant frequency</text>
<rect x="580.5" y="154.5" width="94.7" height="45.2" fill="#fff" stroke="#333333" stroke-width="0.75"/>
<circle cx="601" cy="163" r="2.4" fill="none" stroke="#e9b834" stroke-width="1.45"/>
<text x="621.00" y="167.00" font-size="10" fill="#262626" font-family='"Liberation Sans", sans-serif' >Measured</text>
<line x1="584.30" y1="176.80" x2="617.80" y2="176.80" stroke="#000" stroke-width="1.35" />
<text x="621.00" y="181.40" font-size="10" fill="#262626" font-family='"Liberation Sans", sans-serif' >Theory</text>
<path d="M584.3,191.2 L617.8,191.2" fill="none" stroke="#000" stroke-width="1.35" stroke-linejoin="round" stroke-dasharray="7.5 5.3"/>
<text x="621.00" y="195.60" font-size="10" fill="#262626" font-family='"Liberation Sans", sans-serif' >Asymptotic</text>
<text x="343.70" y="7.80" font-size="10.6" fill="#000" font-family='"Liberation Sans", sans-serif' font-weight="bold">b</text>
<text x="-1.20" y="7.90" font-size="10.6" fill="#000" font-family='"Liberation Sans", sans-serif' font-weight="bold">a</text>
<text x="343.80" y="229.80" font-size="10.6" fill="#000" font-family='"Liberation Sans", sans-serif' font-weight="bold">c</text>
<line x1="378.60" y1="225.45" x2="684.50" y2="225.45" stroke="#333333" stroke-width="0.75" />
<line x1="378.60" y1="225.45" x2="378.60" y2="439.40" stroke="#333333" stroke-width="0.75" />
<line x1="684.50" y1="225.45" x2="684.50" y2="439.40" stroke="#333333" stroke-width="0.75" />
<line x1="378.60" y1="439.40" x2="684.50" y2="439.40" stroke="#333333" stroke-width="0.75" />
<path d="M432.6,239.6 L654,379.75" fill="none" stroke="#a03c96" stroke-width="1.0" stroke-linejoin="round" stroke-dasharray="8.9 4.7" stroke-dashoffset="5.9" opacity="0.75"/>
<path d="M433,276.30 L655,418.82" fill="none" stroke="#52ad3b" stroke-width="1.0" stroke-linejoin="round" stroke-dasharray="8.9 4.7" stroke-dashoffset="3.7" opacity="0.75"/>
<path d="M429.50,246.20 L434.90,243.00 L434.90,249.40 Z" fill="none" stroke="#a03c96" stroke-width="2.0" stroke-linejoin="round"/>
<path d="M439.50,243.80 L444.90,240.60 L444.90,247.00 Z" fill="none" stroke="#a03c96" stroke-width="2.0" stroke-linejoin="round"/>
<path d="M447.50,245.20 L452.90,242.00 L452.90,248.40 Z" fill="none" stroke="#a03c96" stroke-width="2.0" stroke-linejoin="round"/>
<path d="M449.90,256.60 L455.30,253.40 L455.30,259.80 Z" fill="none" stroke="#a03c96" stroke-width="2.0" stroke-linejoin="round"/>
<path d="M458.80,259.60 L464.20,256.40 L464.20,262.80 Z" fill="none" stroke="#a03c96" stroke-width="2.0" stroke-linejoin="round"/>
<path d="M469.90,261.80 L475.30,258.60 L475.30,265.00 Z" fill="none" stroke="#a03c96" stroke-width="2.0" stroke-linejoin="round"/>
<path d="M485.40,279.50 L490.80,276.30 L490.80,282.70 Z" fill="none" stroke="#a03c96" stroke-width="2.0" stroke-linejoin="round"/>
<path d="M503.10,271.80 L508.50,268.60 L508.50,275.00 Z" fill="none" stroke="#a03c96" stroke-width="2.0" stroke-linejoin="round"/>
<path d="M514.80,292.70 L520.20,289.50 L520.20,295.90 Z" fill="none" stroke="#a03c96" stroke-width="2.0" stroke-linejoin="round"/>
<path d="M529.90,304.20 L535.30,301.00 L535.30,307.40 Z" fill="none" stroke="#a03c96" stroke-width="2.0" stroke-linejoin="round"/>
<path d="M558.70,329.80 L564.10,326.60 L564.10,333.00 Z" fill="none" stroke="#a03c96" stroke-width="2.0" stroke-linejoin="round"/>
<path d="M596.90,346.80 L602.30,343.60 L602.30,350.00 Z" fill="none" stroke="#a03c96" stroke-width="2.0" stroke-linejoin="round"/>
<path d="M650.80,377.90 L656.20,374.70 L656.20,381.10 Z" fill="none" stroke="#a03c96" stroke-width="2.0" stroke-linejoin="round"/>
<path d="M436.00,279.20 L430.60,276.00 L430.60,282.40 Z" fill="none" stroke="#52ad3b" stroke-width="2.0" stroke-linejoin="round"/>
<path d="M446.50,280.30 L441.10,277.10 L441.10,283.50 Z" fill="none" stroke="#52ad3b" stroke-width="2.0" stroke-linejoin="round"/>
<path d="M454.70,281.10 L449.30,277.90 L449.30,284.30 Z" fill="none" stroke="#52ad3b" stroke-width="2.0" stroke-linejoin="round"/>
<path d="M456.90,289.50 L451.50,286.30 L451.50,292.70 Z" fill="none" stroke="#52ad3b" stroke-width="2.0" stroke-linejoin="round"/>
<path d="M466.30,302.10 L460.90,298.90 L460.90,305.30 Z" fill="none" stroke="#52ad3b" stroke-width="2.0" stroke-linejoin="round"/>
<path d="M477.10,310.60 L471.70,307.40 L471.70,313.80 Z" fill="none" stroke="#52ad3b" stroke-width="2.0" stroke-linejoin="round"/>
<path d="M492.10,308.40 L486.70,305.20 L486.70,311.60 Z" fill="none" stroke="#52ad3b" stroke-width="2.0" stroke-linejoin="round"/>
<path d="M509.40,321.20 L504.00,318.00 L504.00,324.40 Z" fill="none" stroke="#52ad3b" stroke-width="2.0" stroke-linejoin="round"/>
<path d="M521.20,330.60 L515.80,327.40 L515.80,333.80 Z" fill="none" stroke="#52ad3b" stroke-width="2.0" stroke-linejoin="round"/>
<path d="M536.30,339.10 L530.90,335.90 L530.90,342.30 Z" fill="none" stroke="#52ad3b" stroke-width="2.0" stroke-linejoin="round"/>
<path d="M565.30,358.70 L559.90,355.50 L559.90,361.90 Z" fill="none" stroke="#52ad3b" stroke-width="2.0" stroke-linejoin="round"/>
<path d="M603.30,381.30 L597.90,378.10 L597.90,384.50 Z" fill="none" stroke="#52ad3b" stroke-width="2.0" stroke-linejoin="round"/>
<path d="M658.70,422.40 L653.30,419.20 L653.30,425.60 Z" fill="none" stroke="#52ad3b" stroke-width="2.0" stroke-linejoin="round"/>
<line x1="392.60" y1="225.45" x2="392.60" y2="228.45" stroke="#333333" stroke-width="0.75" />
<line x1="392.60" y1="439.40" x2="392.60" y2="436.40" stroke="#333333" stroke-width="0.75" />
<text x="392.60" y="454.60" text-anchor="middle" font-size="11" fill="#262626" font-family='"Liberation Sans", sans-serif' >1.8</text>
<line x1="448.16" y1="225.45" x2="448.16" y2="228.45" stroke="#333333" stroke-width="0.75" />
<line x1="448.16" y1="439.40" x2="448.16" y2="436.40" stroke="#333333" stroke-width="0.75" />
<text x="448.16" y="454.60" text-anchor="middle" font-size="11" fill="#262626" font-family='"Liberation Sans", sans-serif' >2</text>
<line x1="503.72" y1="225.45" x2="503.72" y2="228.45" stroke="#333333" stroke-width="0.75" />
<line x1="503.72" y1="439.40" x2="503.72" y2="436.40" stroke="#333333" stroke-width="0.75" />
<text x="503.72" y="454.60" text-anchor="middle" font-size="11" fill="#262626" font-family='"Liberation Sans", sans-serif' >2.2</text>
<line x1="559.28" y1="225.45" x2="559.28" y2="228.45" stroke="#333333" stroke-width="0.75" />
<line x1="559.28" y1="439.40" x2="559.28" y2="436.40" stroke="#333333" stroke-width="0.75" />
<text x="559.28" y="454.60" text-anchor="middle" font-size="11" fill="#262626" font-family='"Liberation Sans", sans-serif' >2.4</text>
<line x1="614.84" y1="225.45" x2="614.84" y2="228.45" stroke="#333333" stroke-width="0.75" />
<line x1="614.84" y1="439.40" x2="614.84" y2="436.40" stroke="#333333" stroke-width="0.75" />
<text x="614.84" y="454.60" text-anchor="middle" font-size="11" fill="#262626" font-family='"Liberation Sans", sans-serif' >2.6</text>
<line x1="670.40" y1="225.45" x2="670.40" y2="228.45" stroke="#333333" stroke-width="0.75" />
<line x1="670.40" y1="439.40" x2="670.40" y2="436.40" stroke="#333333" stroke-width="0.75" />
<text x="670.40" y="454.60" text-anchor="middle" font-size="11" fill="#262626" font-family='"Liberation Sans", sans-serif' >2.8</text>
<line x1="378.60" y1="245.83" x2="381.60" y2="245.83" stroke="#333333" stroke-width="0.75" />
<line x1="684.50" y1="245.83" x2="681.50" y2="245.83" stroke="#333333" stroke-width="0.75" />
<text x="375.40" y="250.28" text-anchor="end" font-size="11" fill="#262626" font-family='"Liberation Sans", sans-serif' >0</text>
<line x1="378.60" y1="296.77" x2="381.60" y2="296.77" stroke="#333333" stroke-width="0.75" />
<line x1="684.50" y1="296.77" x2="681.50" y2="296.77" stroke="#333333" stroke-width="0.75" />
<text x="375.40" y="301.22" text-anchor="end" font-size="11" fill="#262626" font-family='"Liberation Sans", sans-serif' >-0.5</text>
<line x1="378.60" y1="347.71" x2="381.60" y2="347.71" stroke="#333333" stroke-width="0.75" />
<line x1="684.50" y1="347.71" x2="681.50" y2="347.71" stroke="#333333" stroke-width="0.75" />
<text x="375.40" y="352.16" text-anchor="end" font-size="11" fill="#262626" font-family='"Liberation Sans", sans-serif' >-1</text>
<line x1="378.60" y1="398.65" x2="381.60" y2="398.65" stroke="#333333" stroke-width="0.75" />
<line x1="684.50" y1="398.65" x2="681.50" y2="398.65" stroke="#333333" stroke-width="0.75" />
<text x="375.40" y="403.10" text-anchor="end" font-size="11" fill="#262626" font-family='"Liberation Sans", sans-serif' >-1.5</text>
<text x="450.20" y="469.70" font-size="11.35" fill="#262626" font-family='"Liberation Sans", sans-serif' >Inverse perturbation strength 1/</text>
<text x="609.60" y="469.70" class="s" font-size="11.35" fill="#262626" font-family='"Liberation Serif", serif' font-style="italic">ϵ</text>
<text x="0.00" y="0.00" text-anchor="middle" class="s" font-size="13.4" fill="#3a3a3a" font-family='"Liberation Serif", serif' letter-spacing="0.2" transform="translate(352.6,332.2) rotate(-90)">ln(<tspan font-style="italic">A</tspan>/<tspan font-style="italic">A</tspan><tspan font-size="8.5" dy="2.5">0</tspan><tspan dy="-2.5">)</tspan></text>
<rect x="388.5" y="399.6" width="82.4" height="30.7" fill="#fff" stroke="#333333" stroke-width="0.75"/>
<path d="M405.35,408.00 L410.75,404.80 L410.75,411.20 Z" fill="none" stroke="#a03c96" stroke-width="2.0" stroke-linejoin="round"/>
<path d="M412.50,421.90 L407.10,418.70 L407.10,425.10 Z" fill="none" stroke="#52ad3b" stroke-width="2.0" stroke-linejoin="round"/>
<text x="428.60" y="411.60" class="s" font-size="12" fill="#262626" font-family='"Liberation Serif", serif' font-style="italic">ω</text>
<text x="436.40" y="413.40" class="s" font-size="8.5" fill="#262626" font-family='"Liberation Serif", serif' font-style="italic">r</text>
<text x="443.60" y="412.20" class="s" font-size="14" fill="#262626" font-family='"Liberation Serif", serif' >&lt;</text>
<text x="455.40" y="411.60" class="s" font-size="12" fill="#262626" font-family='"Liberation Serif", serif' font-style="italic">ω</text>
<text x="463.40" y="413.40" class="s" font-size="8.5" fill="#262626" font-family='"Liberation Serif", serif' >0</text>
<text x="428.60" y="425.40" class="s" font-size="12" fill="#262626" font-family='"Liberation Serif", serif' font-style="italic">ω</text>
<text x="436.40" y="427.20" class="s" font-size="8.5" fill="#262626" font-family='"Liberation Serif", serif' font-style="italic">r</text>
<text x="443.60" y="426.00" class="s" font-size="14" fill="#262626" font-family='"Liberation Serif", serif' >&gt;</text>
<text x="455.40" y="425.40" class="s" font-size="12" fill="#262626" font-family='"Liberation Serif", serif' font-style="italic">ω</text>
<text x="463.40" y="427.20" class="s" font-size="8.5" fill="#262626" font-family='"Liberation Serif", serif' >0</text>
</svg>
</body></html>
